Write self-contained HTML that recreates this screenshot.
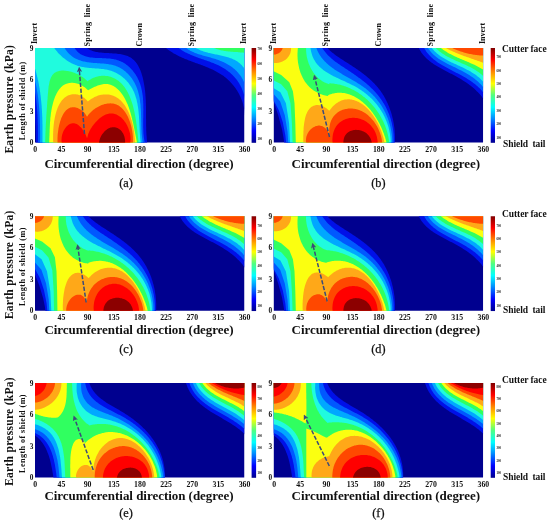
<!DOCTYPE html>
<html><head><meta charset="utf-8"><title>Earth pressure contours</title>
<style>html,body{margin:0;padding:0;background:#fff}svg{display:block;filter:blur(0.4px)}text{font-family:"Liberation Serif",serif;fill:#111}</style></head>
<body>
<svg width="550" height="523" viewBox="0 0 550 523">
<defs><clipPath id="pc"><rect x="0" y="0" width="209.25" height="94.50"/></clipPath>
<linearGradient id="jet" x1="0" y1="1" x2="0" y2="0"><stop offset="0" stop-color="#00008f"/><stop offset="0.125" stop-color="#0000ff"/><stop offset="0.26" stop-color="#0090ff"/><stop offset="0.375" stop-color="#00ffff"/><stop offset="0.5" stop-color="#50ff80"/><stop offset="0.625" stop-color="#ffff00"/><stop offset="0.75" stop-color="#ff8800"/><stop offset="0.875" stop-color="#ff0000"/><stop offset="1" stop-color="#800000"/></linearGradient>
<marker id="ah" viewBox="0 0 10 10" refX="5" refY="5" markerWidth="3.6" markerHeight="3.6" orient="auto"><path d="M0 0L10 5L0 10L2.6 5z" fill="#3b4a7a"/></marker>
</defs>
<rect width="550" height="523" fill="#fff"/>
<g transform="translate(35.00 48.00)" clip-path="url(#pc)">
<rect x="-5" y="-5" width="219.25" height="104.50" fill="#00008f"/>
<path d="M48.8 -3.1L49.4 -2.4L50.0 -1.7L50.6 -1.1L51.2 -0.5L51.9 0.1L52.6 0.6L53.4 1.1L54.1 1.5L54.9 1.9L55.8 2.3L56.6 2.6L57.5 2.9L58.4 3.2L59.3 3.5L60.2 3.7L61.2 3.9L62.2 4.1L63.1 4.2L64.1 4.4L65.2 4.5L66.2 4.6L67.2 4.7L68.2 4.8L69.3 4.9L70.4 5.0L71.4 5.0L72.5 5.1L73.6 5.1L74.6 5.2L75.7 5.3L76.8 5.3L77.8 5.4L78.9 5.5L80.0 5.5L81.0 5.6L82.1 5.7L83.1 5.9L84.1 6.0L85.1 6.1L86.1 6.3L87.1 6.5L88.1 6.7L89.1 6.9L90.0 7.2L90.9 7.4L91.8 7.8L92.7 8.1L93.5 8.5L94.4 8.9L95.2 9.3L96.0 9.8L96.7 10.3L97.4 10.9L98.1 11.4L98.8 12.1L99.5 12.7L100.1 13.4L100.7 14.1L101.3 14.9L101.8 15.6L102.4 16.4L102.9 17.2L103.3 18.1L103.8 19.0L104.3 19.9L104.7 20.8L105.1 21.7L105.5 22.6L105.8 23.6L106.2 24.6L106.5 25.6L106.8 26.6L107.1 27.6L107.4 28.6L107.7 29.6L108.0 30.7L108.2 31.7L108.4 32.7L108.6 33.8L108.8 34.8L109.0 35.9L109.2 36.9L109.4 38.0L109.5 39.0L109.7 40.1L109.8 41.1L109.9 42.1L110.1 43.2L110.2 44.2L110.3 45.2L110.4 46.3L110.4 47.3L110.5 48.3L110.6 49.3L110.6 50.3L110.7 51.3L110.8 52.4L110.8 53.4L110.8 54.4L110.9 55.4L110.9 56.4L110.9 57.4L111.0 58.4L111.0 59.4L111.0 60.4L111.0 61.4L111.0 62.4L111.0 63.4L111.0 64.4L111.0 65.4L111.0 66.4L111.0 67.4L111.0 68.4L111.0 69.3L111.0 70.3L111.1 71.3L111.1 72.3L111.1 73.3L111.1 74.3L111.1 75.3L111.1 76.3L111.1 77.3L111.1 78.3L111.2 79.3L111.2 80.3L111.2 81.3L111.2 82.3L111.3 83.3L111.3 84.3L111.4 85.3L111.4 86.3L111.5 87.3L111.6 88.3L111.7 89.3L111.7 90.3L111.8 91.3L111.9 92.4L112.0 93.4L112.2 94.4L112.3 95.4L140.0 102.5L1.1 99.0L1.1 98.0L1.1 97.0L1.0 95.9L1.0 94.9L1.0 93.9L1.0 92.8L1.0 91.8L0.9 90.8L0.9 89.8L0.9 88.7L0.9 87.7L0.8 86.7L0.8 85.7L0.8 84.6L0.8 83.6L0.7 82.6L0.7 81.6L0.6 80.5L0.6 79.5L0.6 78.5L0.5 77.5L0.4 76.4L0.4 75.4L0.3 74.4L0.3 73.4L0.2 72.3L0.1 71.3L0.0 70.3L-0.1 69.3L-0.2 68.3L-0.3 67.2L-0.4 66.2L-0.5 65.2L-0.6 64.2L-0.7 63.2L-0.8 62.1L-1.0 61.1L-1.1 60.1L-1.3 59.1L-1.4 58.1L-1.6 57.1L-1.8 56.1L-2.0 55.0L-2.1 54.0L-2.3 53.0L-2.6 52.0L-2.8 51.0L-3.0 50.0L-8.0 -8.0Z" fill="#0010e8"/>
<path d="M128.1 -2.7L128.8 -2.0L129.6 -1.3L130.3 -0.6L131.1 0.0L131.8 0.7L132.6 1.3L133.4 1.9L134.2 2.5L135.0 3.0L135.8 3.6L136.6 4.1L137.5 4.6L138.3 5.2L139.2 5.7L140.1 6.1L140.9 6.6L141.8 7.1L142.7 7.5L143.6 8.0L144.5 8.4L145.4 8.8L146.3 9.3L147.2 9.7L148.2 10.1L149.1 10.5L150.0 10.9L151.0 11.2L151.9 11.6L152.9 12.0L153.8 12.4L154.8 12.7L155.7 13.1L156.7 13.4L157.6 13.8L158.6 14.2L159.6 14.5L160.5 14.9L161.5 15.2L162.5 15.6L163.4 15.9L164.4 16.3L165.3 16.6L166.3 17.0L167.3 17.3L168.2 17.7L169.2 18.1L170.1 18.4L171.0 18.8L172.0 19.2L172.9 19.6L173.9 20.0L174.8 20.4L175.7 20.8L176.6 21.2L177.5 21.6L178.4 22.0L179.3 22.5L180.2 22.9L181.1 23.4L182.0 23.9L182.8 24.4L183.7 24.9L184.6 25.4L185.4 25.9L186.2 26.4L187.0 27.0L187.9 27.5L188.7 28.1L189.4 28.7L190.2 29.3L191.0 29.9L191.7 30.6L192.5 31.2L193.2 31.9L193.9 32.6L194.6 33.3L195.3 34.0L196.0 34.7L196.7 35.4L197.3 36.2L198.0 36.9L198.6 37.7L199.2 38.5L199.8 39.3L200.4 40.1L201.0 40.9L201.5 41.7L202.1 42.6L202.6 43.4L203.1 44.3L203.6 45.2L204.1 46.1L204.5 47.0L205.0 47.9L205.4 48.8L205.8 49.8L206.2 50.7L206.6 51.7L206.9 52.6L207.3 53.6L207.6 54.6L207.9 55.6L208.2 56.6L208.4 57.7L208.7 58.7L208.9 59.7L209.1 60.8L209.3 61.8L209.5 62.9L209.6 64.0L209.7 65.1L209.8 66.2L209.9 67.3L217.2 67.3L217.2 -8.0L128.1 -8.0Z" fill="#0010e8"/>
<path d="M37.6 -4.4L38.0 -3.2L38.5 -2.1L39.1 -1.0L39.6 -0.0L40.2 0.9L40.9 1.8L41.5 2.6L42.2 3.4L42.9 4.1L43.6 4.7L44.4 5.3L45.2 5.9L46.0 6.4L46.8 6.8L47.7 7.3L48.6 7.6L49.5 8.0L50.4 8.3L51.3 8.6L52.2 8.8L53.2 9.0L54.2 9.2L55.2 9.4L56.2 9.5L57.2 9.6L58.2 9.7L59.2 9.8L60.2 9.9L61.3 9.9L62.3 10.0L63.4 10.0L64.4 10.1L65.5 10.1L66.5 10.1L67.6 10.2L68.7 10.2L69.7 10.3L70.8 10.3L71.8 10.4L72.9 10.4L73.9 10.5L74.9 10.6L76.0 10.7L77.0 10.9L78.0 11.0L79.0 11.2L79.9 11.4L80.9 11.6L81.9 11.9L82.8 12.2L83.7 12.5L84.6 12.9L85.5 13.3L86.4 13.7L87.3 14.1L88.1 14.6L89.0 15.1L89.8 15.6L90.6 16.1L91.4 16.7L92.1 17.2L92.9 17.8L93.6 18.5L94.3 19.1L95.0 19.8L95.7 20.5L96.4 21.2L97.1 21.9L97.7 22.6L98.3 23.4L98.9 24.2L99.5 25.0L100.0 25.8L100.6 26.6L101.1 27.4L101.6 28.3L102.1 29.1L102.6 30.0L103.0 30.9L103.4 31.8L103.9 32.7L104.2 33.7L104.6 34.6L105.0 35.5L105.3 36.5L105.6 37.4L105.9 38.4L106.2 39.4L106.4 40.4L106.6 41.4L106.8 42.3L107.0 43.3L107.2 44.4L107.4 45.4L107.5 46.4L107.7 47.4L107.8 48.4L107.9 49.5L108.0 50.5L108.0 51.5L108.1 52.6L108.2 53.6L108.2 54.7L108.3 55.7L108.3 56.8L108.3 57.8L108.3 58.9L108.3 59.9L108.4 61.0L108.4 62.0L108.3 63.1L108.3 64.2L108.3 65.2L108.3 66.3L108.3 67.3L108.3 68.4L108.3 69.4L108.2 70.5L108.2 71.6L108.2 72.6L108.2 73.6L108.2 74.7L108.2 75.7L108.2 76.8L108.2 77.8L108.2 78.8L108.2 79.8L108.3 80.9L108.3 81.9L108.3 82.9L108.4 83.9L108.4 84.9L108.5 85.9L108.6 86.9L108.7 87.8L108.8 88.8L108.9 89.8L109.1 90.7L109.2 91.7L109.4 92.6L109.6 93.5L109.8 94.4L110.0 95.4L140.0 102.5L3.0 99.0L3.0 98.0L3.0 97.0L3.0 95.9L3.0 94.9L3.0 93.9L3.0 92.9L3.0 91.9L3.0 90.8L3.0 89.8L3.0 88.8L3.0 87.8L3.0 86.8L3.0 85.7L3.0 84.7L3.0 83.7L3.0 82.7L2.9 81.7L2.9 80.6L2.9 79.6L2.9 78.6L2.9 77.6L2.8 76.5L2.8 75.5L2.8 74.5L2.7 73.5L2.7 72.4L2.7 71.4L2.6 70.4L2.6 69.4L2.5 68.4L2.5 67.3L2.4 66.3L2.3 65.3L2.3 64.3L2.2 63.3L2.1 62.2L2.1 61.2L2.0 60.2L1.9 59.2L1.8 58.2L1.7 57.1L1.6 56.1L1.5 55.1L1.4 54.1L1.3 53.1L1.2 52.1L1.0 51.1L0.9 50.0L0.8 49.0L0.6 48.0L0.5 47.0L0.3 46.0L0.2 45.0L0.0 44.0L-0.2 43.0L-0.3 42.0L-0.5 41.0L-0.7 40.0L-0.9 39.0L-1.1 38.0L-1.3 37.0L-1.5 36.0L-1.8 35.0L-2.0 34.0L-2.2 33.0L-2.5 32.0L-2.7 31.0L-3.0 30.0L-8.0 -8.0Z" fill="#0058ff"/>
<path d="M141.0 -2.4L141.7 -1.7L142.4 -1.1L143.2 -0.4L144.0 0.2L144.7 0.8L145.5 1.3L146.4 1.9L147.2 2.4L148.0 2.9L148.9 3.4L149.7 3.9L150.6 4.4L151.5 4.8L152.4 5.3L153.3 5.7L154.2 6.1L155.1 6.5L156.0 6.9L157.0 7.3L157.9 7.7L158.9 8.1L159.8 8.4L160.8 8.8L161.7 9.2L162.7 9.5L163.7 9.9L164.6 10.2L165.6 10.5L166.6 10.9L167.6 11.2L168.6 11.6L169.5 11.9L170.5 12.2L171.5 12.6L172.5 12.9L173.4 13.3L174.4 13.6L175.4 14.0L176.3 14.4L177.3 14.7L178.3 15.1L179.2 15.5L180.2 15.9L181.1 16.3L182.0 16.7L182.9 17.1L183.9 17.6L184.8 18.0L185.7 18.5L186.6 19.0L187.4 19.5L188.3 20.0L189.2 20.5L190.0 21.0L190.8 21.6L191.6 22.2L192.5 22.8L193.3 23.4L194.0 24.0L194.8 24.6L195.6 25.3L196.3 25.9L197.0 26.6L197.7 27.3L198.4 28.0L199.1 28.7L199.8 29.5L200.4 30.2L201.1 31.0L201.7 31.8L202.3 32.6L202.9 33.4L203.4 34.3L204.0 35.1L204.5 36.0L205.0 36.9L205.5 37.8L205.9 38.7L206.4 39.6L206.8 40.6L207.2 41.5L207.6 42.5L208.0 43.5L208.3 44.5L208.6 45.5L208.9 46.5L209.2 47.6L209.5 48.7L209.7 49.7L209.9 50.8L210.1 52.0L210.3 53.1L210.4 54.2L217.2 54.2L217.2 -8.0L141.0 -8.0Z" fill="#0058ff"/>
<path d="M27.3 -4.5L27.8 -3.3L28.4 -2.2L28.9 -1.2L29.5 -0.2L30.1 0.8L30.7 1.7L31.3 2.6L32.0 3.4L32.6 4.3L33.3 5.0L34.0 5.7L34.8 6.4L35.5 7.1L36.3 7.7L37.0 8.3L37.8 8.9L38.6 9.4L39.5 9.9L40.3 10.4L41.1 10.8L42.0 11.2L42.9 11.6L43.8 12.0L44.7 12.3L45.6 12.6L46.5 12.9L47.5 13.2L48.4 13.4L49.4 13.6L50.3 13.8L51.3 14.0L52.3 14.2L53.3 14.3L54.3 14.5L55.3 14.6L56.3 14.7L57.3 14.8L58.4 14.9L59.4 14.9L60.4 15.0L61.5 15.1L62.5 15.2L63.5 15.2L64.6 15.3L65.6 15.4L66.6 15.4L67.7 15.5L68.7 15.6L69.7 15.7L70.7 15.8L71.7 15.9L72.7 16.0L73.7 16.2L74.7 16.4L75.7 16.5L76.7 16.7L77.7 17.0L78.6 17.2L79.5 17.5L80.5 17.8L81.4 18.2L82.3 18.5L83.2 18.9L84.0 19.3L84.9 19.8L85.7 20.3L86.6 20.7L87.4 21.3L88.2 21.8L89.0 22.4L89.7 23.0L90.5 23.6L91.2 24.2L91.9 24.9L92.6 25.6L93.3 26.3L94.0 27.0L94.6 27.7L95.3 28.5L95.9 29.2L96.5 30.0L97.1 30.8L97.6 31.7L98.2 32.5L98.7 33.4L99.2 34.2L99.7 35.1L100.1 36.0L100.6 36.9L101.0 37.8L101.4 38.7L101.8 39.7L102.1 40.6L102.4 41.6L102.8 42.5L103.1 43.5L103.3 44.5L103.6 45.5L103.8 46.5L104.1 47.5L104.3 48.5L104.5 49.5L104.7 50.5L104.8 51.6L105.0 52.6L105.1 53.7L105.2 54.7L105.4 55.7L105.5 56.8L105.6 57.8L105.6 58.9L105.7 60.0L105.8 61.0L105.9 62.1L105.9 63.1L106.0 64.2L106.0 65.3L106.0 66.3L106.1 67.4L106.1 68.5L106.1 69.5L106.2 70.6L106.2 71.6L106.2 72.7L106.2 73.8L106.3 74.8L106.3 75.8L106.3 76.9L106.3 77.9L106.4 79.0L106.4 80.0L106.4 81.0L106.5 82.0L106.5 83.0L106.6 84.0L106.6 85.0L106.7 86.0L106.8 87.0L106.9 87.9L107.0 88.9L107.1 89.9L107.2 90.8L107.3 91.7L107.4 92.6L107.6 93.6L107.7 94.5L107.9 95.3L140.0 102.5L5.0 99.0L5.0 98.0L5.0 97.0L5.0 95.9L5.0 94.9L5.0 93.9L5.0 92.9L5.1 91.9L5.1 90.8L5.1 89.8L5.1 88.8L5.1 87.8L5.1 86.7L5.1 85.7L5.1 84.7L5.1 83.7L5.1 82.6L5.0 81.6L5.0 80.6L5.0 79.6L5.0 78.5L5.0 77.5L5.0 76.5L4.9 75.5L4.9 74.4L4.9 73.4L4.9 72.4L4.8 71.4L4.8 70.3L4.7 69.3L4.7 68.3L4.6 67.3L4.6 66.2L4.5 65.2L4.5 64.2L4.4 63.2L4.3 62.2L4.3 61.1L4.2 60.1L4.1 59.1L4.0 58.1L3.9 57.1L3.8 56.0L3.7 55.0L3.6 54.0L3.5 53.0L3.4 52.0L3.3 51.0L3.2 49.9L3.0 48.9L2.9 47.9L2.8 46.9L2.6 45.9L2.5 44.9L2.3 43.9L2.1 42.9L1.9 41.9L1.8 40.9L1.6 39.9L1.4 38.8L1.2 37.8L1.0 36.8L0.8 35.8L0.5 34.8L0.3 33.9L0.1 32.9L-0.2 31.9L-0.4 30.9L-0.7 29.9L-0.9 28.9L-1.2 27.9L-1.5 26.9L-1.8 25.9L-2.1 24.9L-2.4 24.0L-2.7 23.0L-3.0 22.0L-8.0 -8.0Z" fill="#00a8ff"/>
<path d="M148.9 -2.4L149.6 -1.7L150.3 -1.0L151.0 -0.4L151.7 0.2L152.5 0.8L153.2 1.4L154.0 1.9L154.8 2.4L155.6 2.9L156.5 3.3L157.3 3.7L158.2 4.1L159.1 4.5L160.0 4.9L160.9 5.3L161.9 5.6L162.8 5.9L163.7 6.2L164.7 6.5L165.7 6.8L166.7 7.1L167.6 7.4L168.6 7.7L169.6 7.9L170.6 8.2L171.6 8.5L172.6 8.7L173.6 9.0L174.6 9.3L175.6 9.6L176.6 9.9L177.6 10.2L178.6 10.5L179.6 10.8L180.6 11.1L181.6 11.4L182.6 11.8L183.5 12.1L184.5 12.5L185.5 12.9L186.4 13.3L187.4 13.7L188.3 14.1L189.2 14.6L190.2 15.0L191.1 15.5L192.0 16.0L192.8 16.5L193.7 17.0L194.6 17.5L195.4 18.1L196.2 18.6L197.1 19.2L197.9 19.8L198.6 20.4L199.4 21.1L200.2 21.8L200.9 22.4L201.6 23.1L202.3 23.9L203.0 24.6L203.6 25.4L204.3 26.2L204.9 27.0L205.5 27.8L206.1 28.6L206.6 29.5L207.2 30.4L207.7 31.3L208.1 32.2L208.6 33.2L209.0 34.1L209.4 35.1L209.8 36.1L210.2 37.1L210.5 38.2L210.8 39.2L217.2 39.2L217.2 -8.0L148.9 -8.0Z" fill="#00a8ff"/>
<path d="M16.6 -4.1L17.2 -3.2L17.7 -2.3L18.3 -1.4L18.9 -0.5L19.5 0.3L20.1 1.2L20.8 2.0L21.4 2.8L22.1 3.6L22.7 4.4L23.4 5.2L24.1 5.9L24.8 6.6L25.6 7.3L26.3 8.0L27.1 8.7L27.8 9.4L28.6 10.0L29.4 10.6L30.2 11.3L31.0 11.8L31.8 12.4L32.6 13.0L33.5 13.5L34.3 14.0L35.2 14.5L36.1 15.0L36.9 15.4L37.8 15.8L38.7 16.2L39.6 16.6L40.5 17.0L41.5 17.3L42.4 17.7L43.3 18.0L44.3 18.2L45.2 18.5L46.2 18.7L47.2 18.9L48.2 19.1L49.1 19.3L50.1 19.5L51.1 19.6L52.1 19.7L53.1 19.8L54.1 19.9L55.1 20.0L56.2 20.1L57.2 20.2L58.2 20.2L59.2 20.3L60.2 20.4L61.2 20.4L62.2 20.5L63.2 20.6L64.3 20.7L65.3 20.8L66.3 20.9L67.3 21.0L68.3 21.1L69.2 21.3L70.2 21.4L71.2 21.6L72.2 21.8L73.1 22.0L74.1 22.2L75.0 22.5L75.9 22.8L76.9 23.1L77.8 23.5L78.7 23.8L79.6 24.2L80.4 24.6L81.3 25.1L82.2 25.5L83.0 26.0L83.8 26.5L84.7 27.0L85.5 27.6L86.3 28.1L87.0 28.7L87.8 29.3L88.5 30.0L89.3 30.6L90.0 31.3L90.7 31.9L91.4 32.6L92.0 33.4L92.7 34.1L93.3 34.8L93.9 35.6L94.5 36.4L95.1 37.2L95.6 38.0L96.2 38.8L96.7 39.7L97.2 40.5L97.7 41.4L98.1 42.3L98.6 43.2L99.0 44.1L99.4 45.1L99.7 46.0L100.1 46.9L100.4 47.9L100.7 48.9L101.0 49.9L101.3 50.8L101.6 51.8L101.8 52.8L102.0 53.9L102.3 54.9L102.5 55.9L102.6 56.9L102.8 58.0L103.0 59.0L103.1 60.1L103.3 61.1L103.4 62.2L103.5 63.2L103.6 64.3L103.7 65.4L103.8 66.4L103.9 67.5L104.0 68.6L104.0 69.6L104.1 70.7L104.2 71.7L104.2 72.8L104.3 73.9L104.3 74.9L104.4 76.0L104.4 77.0L104.5 78.0L104.5 79.1L104.6 80.1L104.6 81.1L104.7 82.2L104.7 83.2L104.8 84.2L104.9 85.2L104.9 86.1L105.0 87.1L105.1 88.1L105.1 89.0L105.2 90.0L105.3 90.9L105.4 91.8L105.5 92.7L105.7 93.6L105.8 94.5L105.9 95.4L140.0 102.5L7.5 99.0L7.5 98.0L7.5 97.0L7.5 96.0L7.5 95.0L7.5 94.0L7.5 92.9L7.5 91.9L7.5 90.9L7.5 89.9L7.5 88.9L7.5 87.9L7.5 86.9L7.5 85.9L7.5 84.8L7.5 83.8L7.5 82.8L7.5 81.8L7.5 80.8L7.5 79.8L7.5 78.7L7.5 77.7L7.5 76.7L7.4 75.7L7.4 74.7L7.4 73.7L7.4 72.7L7.3 71.6L7.3 70.6L7.3 69.6L7.2 68.6L7.2 67.6L7.1 66.6L7.1 65.5L7.0 64.5L7.0 63.5L6.9 62.5L6.9 61.5L6.8 60.5L6.7 59.5L6.7 58.5L6.6 57.4L6.5 56.4L6.4 55.4L6.3 54.4L6.2 53.4L6.1 52.4L6.0 51.4L5.9 50.4L5.8 49.4L5.7 48.4L5.6 47.4L5.4 46.4L5.3 45.4L5.2 44.4L5.0 43.4L4.9 42.4L4.7 41.4L4.6 40.4L4.4 39.4L4.2 38.4L4.0 37.4L3.9 36.4L3.7 35.4L3.5 34.4L3.3 33.4L3.1 32.4L2.8 31.4L2.6 30.4L2.4 29.5L2.1 28.5L1.9 27.5L1.6 26.5L1.4 25.5L1.1 24.5L0.8 23.6L0.6 22.6L0.3 21.6L-0.0 20.7L-0.3 19.7L-0.6 18.7L-1.0 17.8L-1.3 16.8L-1.6 15.8L-2.0 14.9L-2.3 13.9L-2.7 12.9L-3.1 12.0L-8.0 -8.0Z" fill="#20fbde"/>
<path d="M157.2 -2.8L158.0 -2.2L158.8 -1.5L159.6 -0.9L160.4 -0.4L161.2 0.2L162.1 0.7L163.0 1.1L163.9 1.6L164.8 2.0L165.7 2.4L166.6 2.8L167.6 3.1L168.5 3.5L169.5 3.8L170.5 4.1L171.5 4.3L172.5 4.6L173.5 4.9L174.5 5.1L175.5 5.3L176.5 5.6L177.6 5.8L178.6 6.0L179.6 6.2L180.6 6.4L181.7 6.6L182.7 6.8L183.7 7.0L184.8 7.3L185.8 7.5L186.8 7.7L187.9 7.9L188.9 8.2L189.9 8.4L190.9 8.7L191.9 9.0L192.8 9.3L193.8 9.6L194.8 9.9L195.7 10.2L196.7 10.6L197.6 11.0L198.5 11.4L199.4 11.8L200.3 12.3L201.1 12.8L202.0 13.3L202.8 13.8L203.6 14.4L204.4 15.0L205.2 15.7L205.9 16.4L206.6 17.1L207.3 17.9L208.0 18.7L208.7 19.5L209.3 20.4L209.9 21.3L210.4 22.3L211.0 23.4L217.2 23.4L217.2 -8.0L157.2 -8.0Z" fill="#20fbde"/>
<path d="M10.0 99.0L10.1 97.9L10.1 96.8L10.1 95.8L10.1 94.7L10.2 93.7L10.2 92.6L10.2 91.6L10.3 90.6L10.3 89.5L10.3 88.5L10.4 87.5L10.4 86.5L10.4 85.5L10.5 84.5L10.5 83.5L10.6 82.5L10.6 81.5L10.6 80.5L10.7 79.5L10.7 78.5L10.8 77.5L10.8 76.5L10.9 75.6L10.9 74.6L11.0 73.6L11.1 72.6L11.1 71.6L11.2 70.6L11.2 69.7L11.3 68.7L11.3 67.7L11.4 66.7L11.5 65.7L11.5 64.7L11.6 63.7L11.7 62.7L11.7 61.7L11.8 60.7L11.9 59.7L12.0 58.7L12.0 57.7L12.1 56.7L12.2 55.6L12.2 54.6L12.3 53.6L12.4 52.5L12.5 51.5L12.6 50.4L12.6 49.4L12.7 48.3L12.8 47.2L12.9 46.1L13.0 45.0L13.1 43.9L13.2 42.9L13.3 41.8L13.4 40.7L13.5 39.6L13.6 38.5L13.8 37.5L14.0 36.4L14.2 35.4L14.4 34.4L14.6 33.4L14.9 32.5L15.2 31.6L15.5 30.7L15.9 29.8L16.2 29.0L16.7 28.2L17.1 27.5L17.6 26.8L18.2 26.2L18.8 25.6L19.4 25.1L20.1 24.6L20.8 24.2L21.6 23.8L22.4 23.5L23.2 23.2L24.1 23.0L25.0 22.8L25.9 22.7L26.8 22.6L27.8 22.6L28.8 22.6L29.8 22.7L30.8 22.8L31.9 22.9L32.9 23.1L34.0 23.3L35.0 23.5L36.1 23.8L37.1 24.1L38.2 24.5L39.3 24.8L40.3 25.2L41.3 25.7L42.3 26.1L43.3 26.6L44.3 27.1L45.3 27.6L46.2 28.2L47.1 28.8L48.0 29.3L48.8 30.0L49.6 30.6L50.4 31.2L51.1 31.9L51.8 32.5L52.5 33.2L52.4 33.4L53.4 32.6L54.4 32.0L55.4 31.4L56.4 30.8L57.5 30.3L58.5 29.8L59.5 29.4L60.5 29.1L61.6 28.7L62.6 28.5L63.6 28.3L64.6 28.1L65.6 27.9L66.6 27.8L67.6 27.8L68.6 27.8L69.6 27.8L70.6 27.9L71.6 28.0L72.5 28.1L73.5 28.3L74.4 28.5L75.3 28.8L76.2 29.1L77.1 29.4L78.0 29.8L78.9 30.2L79.7 30.6L80.5 31.0L81.3 31.5L82.1 32.0L82.9 32.6L83.7 33.1L84.4 33.7L85.1 34.3L85.8 35.0L86.5 35.6L87.1 36.3L87.8 37.0L88.4 37.8L89.0 38.5L89.6 39.3L90.1 40.1L90.7 40.9L91.2 41.7L91.7 42.6L92.2 43.5L92.7 44.3L93.2 45.2L93.6 46.2L94.1 47.1L94.5 48.0L94.9 49.0L95.3 50.0L95.7 51.0L96.0 51.9L96.4 52.9L96.7 54.0L97.1 55.0L97.4 56.0L97.7 57.1L98.0 58.1L98.2 59.1L98.5 60.2L98.8 61.3L99.0 62.3L99.3 63.4L99.5 64.5L99.7 65.5L99.9 66.6L100.1 67.7L100.3 68.8L100.5 69.8L100.7 70.9L100.9 72.0L101.0 73.1L101.2 74.1L101.3 75.2L101.5 76.2L101.6 77.3L101.8 78.3L101.9 79.4L102.0 80.4L102.2 81.4L102.3 82.4L102.4 83.4L102.5 84.4L102.6 85.4L102.7 86.4L102.8 87.3L102.9 88.3L103.0 89.2L103.1 90.1L103.2 91.0L103.3 91.9L103.4 92.8L103.5 93.6L103.6 94.4L103.7 95.2L103.7 102.5L10.0 102.5Z" fill="#30ff60"/>
<path d="M176.2 -1.3L177.1 -0.8L177.9 -0.4L178.7 -0.1L179.6 0.3L180.5 0.6L181.3 0.9L182.2 1.2L183.1 1.5L184.0 1.8L184.9 2.0L185.8 2.2L186.7 2.4L187.6 2.6L188.5 2.7L189.4 2.9L190.3 3.0L191.3 3.2L192.2 3.3L193.1 3.4L194.0 3.5L195.0 3.6L195.9 3.7L196.8 3.7L197.8 3.8L198.7 3.9L199.6 3.9L200.6 4.0L201.5 4.1L202.5 4.1L203.4 4.2L204.3 4.3L205.3 4.4L206.2 4.4L207.1 4.5L208.0 4.6L208.9 4.7L209.9 4.8L210.8 4.9L211.7 5.0L217.2 5.0L217.2 -8.0L176.2 -8.0Z" fill="#30ff60"/>
<path d="M13.9 98.9L13.9 98.0L14.0 97.0L14.1 96.1L14.1 95.1L14.2 94.2L14.2 93.2L14.3 92.2L14.3 91.2L14.3 90.2L14.4 89.2L14.4 88.2L14.5 87.2L14.5 86.2L14.5 85.2L14.6 84.2L14.6 83.1L14.6 82.1L14.7 81.1L14.7 80.0L14.8 79.0L14.8 77.9L14.9 76.9L14.9 75.9L15.0 74.8L15.1 73.8L15.2 72.7L15.3 71.7L15.3 70.6L15.4 69.6L15.6 68.5L15.7 67.5L15.8 66.4L15.9 65.4L16.1 64.3L16.3 63.3L16.4 62.2L16.6 61.2L16.8 60.2L17.0 59.1L17.3 58.1L17.5 57.1L17.8 56.1L18.0 55.1L18.3 54.1L18.6 53.0L18.9 52.0L19.3 51.1L19.6 50.1L20.0 49.1L20.4 48.1L20.8 47.2L21.3 46.2L21.7 45.3L22.2 44.4L22.7 43.6L23.2 42.7L23.8 41.9L24.4 41.1L25.0 40.4L25.6 39.7L26.2 39.0L26.9 38.4L27.6 37.8L28.4 37.3L29.1 36.8L29.9 36.4L30.7 36.0L31.6 35.7L32.4 35.4L33.3 35.2L34.2 35.0L35.1 34.9L36.0 34.8L37.0 34.8L37.9 34.8L38.9 34.9L39.9 35.0L40.8 35.2L41.8 35.4L42.8 35.7L43.8 36.1L44.8 36.5L45.8 36.9L46.8 37.5L47.7 38.0L48.7 38.7L49.7 39.3L50.6 40.1L51.6 40.9L52.5 41.7L53.4 42.6L53.1 42.3L54.0 41.8L54.9 41.2L55.8 40.7L56.8 40.2L57.7 39.7L58.7 39.3L59.7 38.8L60.7 38.4L61.7 38.0L62.7 37.6L63.7 37.3L64.8 36.9L65.8 36.7L66.8 36.4L67.8 36.3L68.8 36.1L69.8 36.0L70.8 36.0L71.8 36.0L72.7 36.1L73.6 36.2L74.6 36.4L75.4 36.7L76.3 37.0L77.1 37.4L78.0 37.8L78.8 38.2L79.6 38.7L80.3 39.2L81.1 39.8L81.8 40.4L82.5 41.0L83.2 41.7L83.9 42.3L84.5 43.0L85.2 43.7L85.8 44.5L86.4 45.2L86.9 46.0L87.5 46.8L88.0 47.6L88.6 48.5L89.1 49.3L89.6 50.2L90.1 51.1L90.5 52.0L91.0 52.9L91.4 53.8L91.8 54.7L92.3 55.7L92.7 56.6L93.0 57.6L93.4 58.6L93.8 59.6L94.1 60.6L94.5 61.6L94.8 62.6L95.1 63.6L95.4 64.6L95.7 65.6L96.0 66.7L96.3 67.7L96.6 68.7L96.8 69.8L97.1 70.8L97.3 71.9L97.6 72.9L97.8 73.9L98.1 75.0L98.3 76.0L98.5 77.0L98.7 78.1L98.9 79.1L99.1 80.1L99.3 81.1L99.5 82.1L99.7 83.1L99.9 84.1L100.1 85.1L100.3 86.1L100.5 87.1L100.7 88.0L100.9 89.0L101.1 89.9L101.2 90.8L101.4 91.7L101.6 92.6L101.8 93.5L102.0 94.4L102.2 95.2L102.2 102.5L13.9 102.5Z" fill="#fbff10"/>
<path d="M18.5 98.9L18.5 98.1L18.4 97.3L18.4 96.5L18.3 95.7L18.2 94.8L18.2 93.9L18.2 92.9L18.1 92.0L18.1 91.0L18.1 90.0L18.1 89.0L18.1 88.0L18.1 86.9L18.1 85.9L18.2 84.8L18.2 83.7L18.3 82.6L18.3 81.5L18.4 80.4L18.5 79.3L18.6 78.1L18.7 77.0L18.8 75.9L19.0 74.8L19.1 73.6L19.3 72.5L19.5 71.4L19.7 70.3L19.9 69.2L20.2 68.1L20.4 67.0L20.7 65.9L21.0 64.8L21.3 63.8L21.6 62.7L22.0 61.7L22.3 60.7L22.7 59.7L23.1 58.8L23.6 57.8L24.0 56.9L24.5 56.1L25.0 55.2L25.5 54.4L26.1 53.6L26.6 52.8L27.2 52.1L27.8 51.4L28.5 50.7L29.2 50.1L29.8 49.5L30.6 49.0L31.3 48.5L32.1 48.0L32.9 47.6L33.7 47.3L34.6 46.9L35.4 46.7L36.3 46.5L37.2 46.3L38.1 46.2L39.1 46.2L40.0 46.2L40.9 46.3L41.9 46.4L42.8 46.6L43.8 46.9L44.8 47.2L45.7 47.7L46.7 48.2L47.6 48.7L48.6 49.4L49.5 50.1L50.4 50.9L51.3 51.8L52.2 52.7L53.1 53.8L52.2 54.1L53.1 53.3L54.1 52.5L55.1 51.8L56.1 51.1L57.1 50.5L58.1 49.9L59.1 49.3L60.1 48.8L61.1 48.4L62.1 48.0L63.1 47.6L64.1 47.3L65.1 47.1L66.1 46.8L67.1 46.7L68.1 46.5L69.0 46.5L70.0 46.4L71.0 46.4L71.9 46.4L72.9 46.5L73.8 46.6L74.8 46.8L75.7 47.0L76.6 47.2L77.5 47.5L78.3 47.8L79.2 48.2L80.0 48.6L80.9 49.0L81.7 49.5L82.5 50.0L83.3 50.5L84.0 51.1L84.7 51.7L85.5 52.3L86.2 53.0L86.8 53.7L87.5 54.4L88.1 55.2L88.7 56.0L89.3 56.8L89.9 57.6L90.5 58.5L91.0 59.4L91.5 60.3L92.0 61.2L92.5 62.1L93.0 63.1L93.5 64.0L93.9 65.0L94.3 66.0L94.7 67.0L95.1 68.1L95.5 69.1L95.8 70.1L96.2 71.2L96.5 72.2L96.8 73.3L97.1 74.4L97.4 75.4L97.6 76.5L97.9 77.6L98.1 78.6L98.3 79.7L98.5 80.8L98.7 81.8L98.9 82.9L99.0 83.9L99.2 84.9L99.3 86.0L99.4 87.0L99.5 88.0L99.6 89.0L99.7 90.0L99.8 90.9L99.8 91.9L99.9 92.8L99.9 93.7L99.9 94.6L100.0 95.4L100.0 102.5L18.5 102.5Z" fill="#ffa818"/>
<path d="M22.9 98.9L22.8 98.2L22.7 97.4L22.6 96.6L22.6 95.8L22.5 94.9L22.5 93.9L22.5 92.9L22.5 91.9L22.5 90.9L22.5 89.9L22.6 88.8L22.6 87.7L22.7 86.6L22.8 85.5L23.0 84.3L23.1 83.2L23.3 82.0L23.4 80.9L23.6 79.7L23.9 78.6L24.1 77.4L24.4 76.3L24.7 75.2L25.0 74.1L25.3 73.0L25.7 71.9L26.0 70.9L26.4 69.8L26.9 68.9L27.3 67.9L27.8 67.0L28.3 66.1L28.8 65.2L29.3 64.4L29.9 63.7L30.5 63.0L31.1 62.3L31.8 61.7L32.4 61.2L33.1 60.7L33.9 60.3L34.6 59.9L35.4 59.6L36.2 59.4L37.1 59.3L38.0 59.2L38.9 59.3L39.8 59.3L40.7 59.5L41.6 59.8L42.6 60.1L43.5 60.5L44.4 60.9L45.4 61.4L46.3 62.0L47.1 62.7L48.0 63.4L48.8 64.2L49.6 65.0L50.3 65.9L50.9 66.9L51.6 68.0L52.1 69.0L52.0 68.8L52.6 68.0L53.2 67.1L53.8 66.3L54.5 65.5L55.3 64.7L56.0 63.9L56.8 63.2L57.6 62.5L58.4 61.8L59.3 61.2L60.1 60.5L61.0 60.0L61.9 59.4L62.9 58.9L63.8 58.4L64.7 57.9L65.7 57.5L66.6 57.1L67.6 56.7L68.6 56.4L69.6 56.1L70.5 55.9L71.5 55.7L72.5 55.5L73.4 55.4L74.4 55.4L75.3 55.3L76.2 55.4L77.2 55.4L78.1 55.6L79.0 55.7L79.8 56.0L80.7 56.2L81.5 56.5L82.3 56.9L83.1 57.3L83.9 57.8L84.6 58.3L85.3 58.9L86.1 59.4L86.7 60.1L87.4 60.7L88.1 61.4L88.7 62.2L89.3 62.9L89.9 63.7L90.4 64.5L91.0 65.4L91.5 66.3L92.0 67.2L92.5 68.1L93.0 69.0L93.4 70.0L93.8 71.0L94.2 72.0L94.6 73.0L95.0 74.0L95.3 75.0L95.6 76.1L95.9 77.1L96.2 78.2L96.5 79.2L96.7 80.3L96.9 81.4L97.1 82.4L97.3 83.5L97.4 84.6L97.6 85.6L97.7 86.7L97.8 87.7L97.9 88.8L97.9 89.8L97.9 90.8L98.0 91.8L97.9 92.8L97.9 93.7L97.9 94.7L97.8 95.6L97.8 102.5L22.9 102.5Z" fill="#ff4800"/>
<path d="M28.0 99.2L27.5 98.1L27.2 97.0L26.9 95.9L26.7 94.8L26.6 93.6L26.5 92.5L26.5 91.4L26.6 90.2L26.7 89.1L26.9 88.0L27.1 86.9L27.4 85.9L27.8 84.8L28.2 83.8L28.6 82.8L29.1 81.9L29.7 81.0L30.2 80.2L30.8 79.4L31.5 78.6L32.2 77.9L32.9 77.3L33.6 76.8L34.3 76.3L35.1 75.9L35.9 75.6L36.7 75.4L37.5 75.2L38.3 75.2L39.2 75.2L40.0 75.4L40.8 75.7L41.7 76.0L42.5 76.5L43.3 77.1L44.1 77.7L44.9 78.4L45.7 79.2L46.5 80.1L47.2 81.0L47.9 81.9L48.6 82.9L49.2 83.9L49.8 84.9L50.3 85.9L50.8 86.9L51.2 88.0L51.6 88.9L51.9 89.9L52.5 89.3L52.6 88.5L52.7 87.8L53.0 87.0L53.2 86.1L53.5 85.3L53.9 84.4L54.3 83.5L54.7 82.6L55.2 81.7L55.7 80.8L56.3 79.9L56.9 79.0L57.5 78.1L58.2 77.2L58.9 76.3L59.6 75.4L60.4 74.5L61.1 73.7L61.9 72.9L62.8 72.1L63.6 71.3L64.4 70.5L65.3 69.8L66.2 69.2L67.1 68.6L68.0 68.0L68.9 67.5L69.8 67.0L70.7 66.6L71.7 66.2L72.6 65.9L73.5 65.7L74.4 65.5L75.3 65.4L76.2 65.4L77.1 65.4L78.0 65.5L78.9 65.7L79.8 65.9L80.6 66.2L81.5 66.5L82.3 66.9L83.1 67.4L83.9 67.9L84.7 68.4L85.5 69.0L86.2 69.6L86.9 70.3L87.6 71.0L88.3 71.8L89.0 72.6L89.6 73.4L90.2 74.3L90.8 75.1L91.3 76.0L91.9 77.0L92.4 77.9L92.8 78.9L93.3 79.9L93.6 80.9L94.0 81.9L94.3 83.0L94.6 84.0L94.9 85.1L95.1 86.1L95.3 87.2L95.4 88.3L95.5 89.3L95.6 90.4L95.6 91.4L95.5 92.5L95.4 93.5L95.3 94.5L95.1 95.5L95.1 102.5L28.0 102.5Z" fill="#ff0000"/>
<path d="M64.1 99.2L63.9 98.2L63.9 97.1L63.9 96.0L64.0 94.9L64.1 93.8L64.4 92.7L64.7 91.6L65.0 90.6L65.4 89.6L65.9 88.6L66.4 87.6L67.0 86.6L67.6 85.7L68.3 84.9L69.0 84.0L69.7 83.3L70.5 82.6L71.3 81.9L72.1 81.3L72.9 80.8L73.8 80.3L74.6 79.9L75.5 79.6L76.4 79.4L77.3 79.2L78.2 79.2L79.0 79.2L79.9 79.3L80.8 79.5L81.6 79.7L82.5 80.0L83.3 80.4L84.0 80.9L84.8 81.5L85.5 82.1L86.2 82.8L86.8 83.5L87.4 84.4L88.0 85.2L88.5 86.2L88.9 87.2L89.3 88.3L89.6 89.4L89.8 90.6L90.0 91.8L90.1 93.1L90.1 94.5L90.1 95.9L90.1 102.5L64.1 102.5Z" fill="#8c0000"/>
</g>

<g transform="translate(273.80 48.00)" clip-path="url(#pc)">
<rect x="-5" y="-5" width="219.25" height="104.50" fill="#00008f"/>
<path d="M51.0 -3.0L51.6 -2.2L52.2 -1.5L52.8 -0.8L53.4 -0.1L54.1 0.6L54.7 1.2L55.4 1.9L56.1 2.5L56.8 3.2L57.5 3.8L58.3 4.4L59.0 5.0L59.8 5.6L60.5 6.2L61.3 6.8L62.1 7.4L62.9 7.9L63.7 8.5L64.5 9.1L65.3 9.6L66.2 10.2L67.0 10.7L67.8 11.3L68.7 11.8L69.5 12.3L70.4 12.9L71.2 13.4L72.1 14.0L72.9 14.5L73.8 15.1L74.6 15.6L75.5 16.2L76.4 16.7L77.2 17.3L78.1 17.8L78.9 18.4L79.8 19.0L80.6 19.5L81.5 20.1L82.3 20.7L83.2 21.3L84.0 21.8L84.8 22.4L85.7 23.0L86.5 23.6L87.3 24.2L88.1 24.8L89.0 25.4L89.8 26.1L90.6 26.7L91.4 27.3L92.2 27.9L92.9 28.6L93.7 29.2L94.5 29.9L95.3 30.6L96.0 31.2L96.8 31.9L97.5 32.6L98.2 33.3L98.9 34.0L99.7 34.7L100.4 35.4L101.1 36.1L101.7 36.9L102.4 37.6L103.1 38.4L103.7 39.1L104.4 39.9L105.0 40.7L105.6 41.5L106.2 42.3L106.8 43.1L107.4 43.9L107.9 44.8L108.5 45.6L109.0 46.4L109.6 47.3L110.1 48.1L110.6 49.0L111.1 49.9L111.6 50.8L112.0 51.7L112.5 52.6L112.9 53.5L113.4 54.4L113.8 55.3L114.2 56.2L114.6 57.2L115.0 58.1L115.4 59.0L115.7 60.0L116.1 61.0L116.4 61.9L116.8 62.9L117.1 63.8L117.4 64.8L117.7 65.8L118.0 66.8L118.2 67.8L118.5 68.7L118.7 69.7L119.0 70.7L119.2 71.7L119.4 72.7L119.6 73.7L119.8 74.7L120.0 75.7L120.1 76.7L120.3 77.8L120.4 78.8L120.6 79.8L120.7 80.8L120.8 81.8L120.9 82.8L120.9 83.9L121.0 84.9L121.1 85.9L121.1 86.9L121.2 87.9L121.2 88.9L121.2 90.0L121.2 91.0L121.2 92.0L121.2 93.0L121.1 94.0L121.1 95.0L121.0 96.0L121.0 97.0L120.9 98.0L120.8 99.0L60.0 102.5L10.8 98.8L10.0 91.4L8.2 81.3L4.4 67.3L0.2 54.6L-1.6 52.2L-8.0 -8.0Z" fill="#0010e8"/>
<path d="M143.1 -5.1L143.4 -4.0L143.8 -3.0L144.2 -2.0L144.6 -1.0L145.0 -0.1L145.5 0.9L145.9 1.8L146.5 2.7L147.0 3.5L147.5 4.4L148.1 5.2L148.7 6.0L149.3 6.8L149.9 7.5L150.6 8.3L151.3 9.0L152.0 9.7L152.7 10.4L153.4 11.0L154.1 11.7L154.9 12.3L155.6 13.0L156.4 13.6L157.2 14.2L158.0 14.8L158.8 15.3L159.7 15.9L160.5 16.5L161.3 17.0L162.2 17.5L163.1 18.1L163.9 18.6L164.8 19.1L165.7 19.6L166.6 20.1L167.5 20.6L168.4 21.1L169.3 21.6L170.2 22.1L171.1 22.5L172.1 23.0L173.0 23.5L173.9 24.0L174.8 24.4L175.7 24.9L176.6 25.4L177.5 25.8L178.5 26.3L179.4 26.8L180.3 27.3L181.2 27.8L182.1 28.3L183.0 28.8L183.8 29.3L184.7 29.8L185.6 30.3L186.5 30.8L187.3 31.3L188.2 31.8L189.1 32.4L189.9 32.9L190.8 33.4L191.6 34.0L192.4 34.6L193.2 35.1L194.1 35.7L194.9 36.3L195.7 36.9L196.5 37.5L197.3 38.1L198.0 38.7L198.8 39.3L199.6 40.0L200.3 40.6L201.0 41.3L201.8 42.0L202.5 42.7L203.2 43.4L203.9 44.1L204.6 44.8L205.3 45.5L206.0 46.3L206.6 47.0L207.3 47.8L207.9 48.6L208.5 49.4L209.1 50.2L209.7 51.1L210.3 51.9L210.9 52.8L211.5 53.7L212.0 54.6L212.6 55.5L213.1 56.4L213.6 57.4L214.1 58.3L217.2 58.3L217.2 -8.0L143.1 -8.0Z" fill="#0010e8"/>
<path d="M46.7 -3.3L47.1 -2.4L47.6 -1.5L48.1 -0.7L48.6 0.2L49.1 1.0L49.6 1.8L50.2 2.6L50.8 3.3L51.4 4.1L52.0 4.8L52.6 5.6L53.2 6.3L53.9 7.0L54.6 7.7L55.3 8.3L56.0 9.0L56.7 9.6L57.4 10.3L58.2 10.9L58.9 11.5L59.7 12.2L60.4 12.8L61.2 13.4L62.0 13.9L62.8 14.5L63.6 15.1L64.4 15.7L65.3 16.3L66.1 16.8L66.9 17.4L67.7 17.9L68.6 18.5L69.4 19.1L70.3 19.6L71.1 20.2L72.0 20.7L72.8 21.3L73.7 21.8L74.5 22.4L75.4 23.0L76.2 23.5L77.1 24.1L77.9 24.7L78.8 25.2L79.6 25.8L80.5 26.4L81.3 27.0L82.1 27.6L83.0 28.2L83.8 28.8L84.6 29.4L85.4 30.0L86.3 30.6L87.1 31.2L87.9 31.8L88.7 32.4L89.5 33.1L90.3 33.7L91.1 34.3L91.9 35.0L92.6 35.6L93.4 36.3L94.2 36.9L94.9 37.6L95.7 38.3L96.4 39.0L97.2 39.7L97.9 40.4L98.6 41.1L99.3 41.8L100.0 42.5L100.7 43.2L101.4 44.0L102.1 44.7L102.7 45.5L103.4 46.2L104.0 47.0L104.6 47.8L105.2 48.6L105.9 49.4L106.4 50.2L107.0 51.0L107.6 51.8L108.2 52.7L108.7 53.5L109.2 54.4L109.8 55.2L110.3 56.1L110.8 56.9L111.3 57.8L111.8 58.7L112.2 59.6L112.7 60.5L113.1 61.4L113.5 62.3L113.9 63.2L114.3 64.2L114.7 65.1L115.1 66.0L115.5 67.0L115.8 67.9L116.1 68.9L116.5 69.8L116.8 70.8L117.1 71.8L117.3 72.8L117.6 73.7L117.9 74.7L118.1 75.7L118.3 76.7L118.5 77.7L118.7 78.7L118.9 79.7L119.1 80.7L119.2 81.7L119.4 82.7L119.5 83.7L119.6 84.7L119.7 85.8L119.8 86.8L119.8 87.8L119.9 88.8L119.9 89.9L119.9 90.9L119.9 91.9L119.9 92.9L119.9 94.0L119.8 95.0L119.8 96.0L119.7 97.1L119.6 98.1L119.5 99.2L60.0 102.5L12.7 98.8L11.6 87.4L9.0 74.3L5.0 62.3L-1.6 49.6L-8.0 -8.0Z" fill="#0058ff"/>
<path d="M148.1 -4.9L148.5 -3.9L148.9 -2.9L149.3 -1.9L149.8 -1.0L150.3 -0.1L150.8 0.8L151.3 1.7L151.9 2.6L152.4 3.4L153.0 4.2L153.6 5.0L154.3 5.8L154.9 6.5L155.6 7.3L156.3 8.0L157.0 8.7L157.7 9.4L158.4 10.1L159.2 10.7L159.9 11.4L160.7 12.0L161.5 12.6L162.3 13.2L163.1 13.8L163.9 14.4L164.8 14.9L165.6 15.5L166.5 16.0L167.3 16.6L168.2 17.1L169.1 17.6L170.0 18.1L170.9 18.6L171.8 19.1L172.7 19.6L173.6 20.1L174.5 20.6L175.4 21.1L176.3 21.5L177.3 22.0L178.2 22.5L179.1 23.0L180.0 23.4L181.0 23.9L181.9 24.4L182.8 24.9L183.7 25.3L184.6 25.8L185.6 26.3L186.5 26.8L187.4 27.3L188.3 27.8L189.2 28.3L190.1 28.8L191.0 29.3L191.9 29.8L192.7 30.3L193.6 30.9L194.5 31.4L195.3 32.0L196.2 32.5L197.0 33.1L197.9 33.7L198.7 34.3L199.5 34.9L200.3 35.5L201.1 36.1L201.9 36.7L202.7 37.4L203.4 38.0L204.2 38.7L204.9 39.4L205.6 40.1L206.3 40.8L207.0 41.6L207.7 42.3L208.4 43.1L209.0 43.9L209.6 44.7L210.2 45.5L210.8 46.4L211.4 47.3L212.0 48.2L212.5 49.1L213.0 50.0L213.5 51.0L214.0 51.9L217.2 51.9L217.2 -8.0L148.1 -8.0Z" fill="#0058ff"/>
<path d="M41.6 -3.4L41.9 -2.4L42.2 -1.4L42.5 -0.4L42.8 0.5L43.2 1.5L43.5 2.4L43.9 3.3L44.4 4.2L44.8 5.0L45.3 5.9L45.8 6.7L46.3 7.5L46.8 8.3L47.4 9.1L47.9 9.9L48.5 10.6L49.1 11.3L49.7 12.1L50.4 12.8L51.0 13.4L51.7 14.1L52.4 14.8L53.1 15.4L53.8 16.1L54.5 16.7L55.2 17.3L56.0 17.9L56.7 18.5L57.5 19.1L58.3 19.7L59.1 20.3L59.9 20.8L60.7 21.4L61.5 21.9L62.4 22.5L63.2 23.0L64.0 23.6L64.9 24.1L65.8 24.6L66.6 25.1L67.5 25.6L68.4 26.2L69.2 26.7L70.1 27.2L71.0 27.7L71.9 28.2L72.8 28.7L73.7 29.2L74.6 29.7L75.5 30.2L76.4 30.7L77.3 31.2L78.1 31.7L79.0 32.3L79.9 32.8L80.8 33.3L81.7 33.8L82.6 34.3L83.5 34.9L84.3 35.4L85.2 36.0L86.1 36.5L86.9 37.1L87.8 37.7L88.6 38.2L89.4 38.8L90.3 39.4L91.1 40.0L91.9 40.6L92.7 41.3L93.5 41.9L94.3 42.5L95.0 43.2L95.8 43.9L96.5 44.5L97.3 45.2L98.0 45.9L98.7 46.6L99.4 47.4L100.1 48.1L100.8 48.8L101.5 49.6L102.1 50.4L102.8 51.1L103.4 51.9L104.0 52.7L104.6 53.5L105.2 54.3L105.8 55.1L106.4 55.9L107.0 56.8L107.5 57.6L108.1 58.5L108.6 59.3L109.1 60.2L109.6 61.0L110.1 61.9L110.6 62.8L111.0 63.7L111.5 64.6L111.9 65.5L112.3 66.4L112.7 67.3L113.1 68.3L113.5 69.2L113.9 70.1L114.2 71.1L114.6 72.0L114.9 73.0L115.2 73.9L115.5 74.9L115.8 75.9L116.1 76.8L116.3 77.8L116.6 78.8L116.8 79.8L117.0 80.8L117.2 81.8L117.4 82.8L117.6 83.8L117.7 84.8L117.9 85.8L118.0 86.8L118.1 87.8L118.2 88.8L118.3 89.9L118.4 90.9L118.4 91.9L118.4 92.9L118.5 94.0L118.5 95.0L118.5 96.0L118.4 97.1L118.4 98.1L118.3 99.1L60.0 102.5L14.7 98.8L13.7 83.4L11.0 67.3L6.4 53.6L-1.6 44.4L-8.0 -8.0Z" fill="#00a8ff"/>
<path d="M151.6 -4.9L152.1 -3.9L152.5 -3.0L153.0 -2.0L153.5 -1.1L154.0 -0.2L154.5 0.6L155.1 1.5L155.7 2.3L156.3 3.1L157.0 3.8L157.6 4.6L158.3 5.3L159.0 6.0L159.7 6.7L160.5 7.3L161.2 8.0L162.0 8.6L162.8 9.2L163.6 9.8L164.4 10.4L165.2 10.9L166.1 11.5L166.9 12.0L167.8 12.5L168.6 13.1L169.5 13.6L170.4 14.1L171.3 14.5L172.2 15.0L173.1 15.5L174.0 16.0L175.0 16.4L175.9 16.9L176.8 17.3L177.7 17.8L178.7 18.2L179.6 18.7L180.5 19.1L181.5 19.6L182.4 20.0L183.3 20.5L184.2 20.9L185.2 21.4L186.1 21.9L187.0 22.3L187.9 22.8L188.8 23.3L189.7 23.8L190.6 24.2L191.5 24.7L192.4 25.2L193.2 25.8L194.1 26.3L195.0 26.8L195.8 27.3L196.7 27.9L197.5 28.4L198.3 29.0L199.2 29.6L200.0 30.2L200.8 30.8L201.5 31.4L202.3 32.0L203.1 32.7L203.8 33.3L204.6 34.0L205.3 34.7L206.0 35.4L206.7 36.1L207.4 36.8L208.1 37.6L208.8 38.4L209.4 39.2L210.1 40.0L210.7 40.8L211.3 41.6L211.9 42.5L212.4 43.4L213.0 44.3L213.5 45.2L214.1 46.2L217.2 46.2L217.2 -8.0L151.6 -8.0Z" fill="#00a8ff"/>
<path d="M36.5 -3.9L36.5 -2.7L36.6 -1.5L36.7 -0.3L36.8 0.8L37.0 1.9L37.2 3.0L37.4 4.0L37.7 5.1L38.0 6.1L38.3 7.0L38.6 8.0L39.0 8.9L39.4 9.8L39.8 10.7L40.2 11.5L40.7 12.3L41.2 13.1L41.7 13.9L42.2 14.7L42.8 15.4L43.4 16.2L44.0 16.9L44.6 17.5L45.2 18.2L45.9 18.9L46.6 19.5L47.2 20.1L48.0 20.7L48.7 21.3L49.4 21.9L50.2 22.5L50.9 23.0L51.7 23.5L52.5 24.1L53.3 24.6L54.2 25.1L55.0 25.6L55.8 26.1L56.7 26.5L57.5 27.0L58.4 27.5L59.3 27.9L60.2 28.4L61.1 28.8L62.0 29.3L62.9 29.7L63.8 30.1L64.7 30.6L65.7 31.0L66.6 31.4L67.5 31.9L68.4 32.3L69.4 32.7L70.3 33.1L71.3 33.6L72.2 34.0L73.1 34.4L74.1 34.9L75.0 35.3L75.9 35.8L76.8 36.2L77.8 36.7L78.7 37.2L79.6 37.6L80.5 38.1L81.4 38.6L82.3 39.1L83.2 39.6L84.1 40.1L85.0 40.7L85.8 41.2L86.7 41.8L87.5 42.3L88.4 42.9L89.2 43.5L90.0 44.1L90.8 44.7L91.6 45.3L92.4 45.9L93.2 46.6L94.0 47.2L94.7 47.9L95.5 48.5L96.2 49.2L96.9 49.9L97.7 50.6L98.4 51.3L99.1 52.0L99.7 52.8L100.4 53.5L101.1 54.2L101.7 55.0L102.4 55.8L103.0 56.5L103.6 57.3L104.2 58.1L104.8 58.9L105.4 59.7L106.0 60.6L106.5 61.4L107.1 62.2L107.6 63.1L108.1 63.9L108.6 64.8L109.1 65.6L109.6 66.5L110.0 67.4L110.5 68.3L110.9 69.2L111.3 70.1L111.7 71.0L112.1 71.9L112.5 72.9L112.9 73.8L113.2 74.8L113.6 75.7L113.9 76.7L114.2 77.6L114.5 78.6L114.8 79.6L115.0 80.6L115.3 81.6L115.5 82.6L115.7 83.6L115.9 84.6L116.1 85.6L116.3 86.6L116.4 87.7L116.6 88.7L116.7 89.7L116.8 90.8L116.9 91.8L116.9 92.9L117.0 94.0L117.0 95.0L117.0 96.1L117.0 97.2L117.0 98.3L117.0 99.4L60.0 102.5L16.5 98.8L15.3 75.3L12.1 55.2L6.6 44.2L-1.6 39.2L-8.0 -8.0Z" fill="#20fbde"/>
<path d="M155.0 -4.9L155.5 -3.9L156.1 -3.0L156.6 -2.1L157.2 -1.3L157.8 -0.4L158.4 0.4L159.0 1.2L159.7 1.9L160.3 2.7L161.0 3.4L161.7 4.1L162.5 4.8L163.2 5.4L164.0 6.1L164.8 6.7L165.5 7.3L166.3 7.9L167.2 8.4L168.0 9.0L168.8 9.5L169.7 10.1L170.6 10.6L171.4 11.1L172.3 11.6L173.2 12.1L174.1 12.5L175.0 13.0L175.9 13.5L176.9 13.9L177.8 14.4L178.7 14.8L179.6 15.3L180.6 15.7L181.5 16.1L182.5 16.6L183.4 17.0L184.3 17.4L185.3 17.8L186.2 18.3L187.2 18.7L188.1 19.1L189.0 19.6L190.0 20.0L190.9 20.5L191.8 20.9L192.7 21.4L193.6 21.9L194.5 22.3L195.4 22.8L196.3 23.3L197.2 23.8L198.0 24.4L198.9 24.9L199.7 25.4L200.6 26.0L201.4 26.6L202.2 27.1L203.0 27.7L203.8 28.4L204.6 29.0L205.3 29.6L206.1 30.3L206.8 31.0L207.5 31.7L208.2 32.5L208.9 33.2L209.5 34.0L210.2 34.8L210.8 35.6L211.4 36.4L212.0 37.3L212.5 38.2L213.1 39.1L213.6 40.1L214.1 41.1L217.2 41.1L217.2 -8.0L155.0 -8.0Z" fill="#20fbde"/>
<path d="M32.5 -4.0L32.4 -3.0L32.3 -2.0L32.3 -1.0L32.3 0.0L32.3 1.0L32.3 2.0L32.3 3.1L32.4 4.1L32.5 5.1L32.6 6.1L32.8 7.2L32.9 8.2L33.1 9.2L33.4 10.2L33.6 11.2L33.9 12.2L34.2 13.2L34.5 14.2L34.8 15.2L35.2 16.2L35.6 17.1L36.0 18.1L36.4 19.0L36.9 20.0L37.4 20.9L37.9 21.8L38.4 22.7L39.0 23.5L39.5 24.4L40.1 25.2L40.7 26.0L41.4 26.8L42.0 27.6L42.7 28.3L43.4 29.0L44.2 29.8L44.9 30.4L45.7 31.1L46.5 31.7L47.3 32.3L48.2 32.9L49.0 33.4L49.9 33.9L50.8 34.4L51.7 34.8L52.7 35.2L53.6 35.6L54.6 36.0L55.6 36.3L55.5 35.3L56.5 35.3L57.5 35.4L58.5 35.5L59.5 35.6L60.5 35.7L61.5 35.9L62.4 36.0L63.4 36.2L64.4 36.4L65.4 36.6L66.3 36.8L67.3 37.1L68.3 37.4L69.2 37.6L70.2 37.9L71.1 38.3L72.0 38.6L73.0 38.9L73.9 39.3L74.8 39.7L75.7 40.1L76.6 40.5L77.5 40.9L78.4 41.4L79.3 41.8L80.2 42.3L81.1 42.8L81.9 43.3L82.8 43.8L83.7 44.3L84.5 44.8L85.3 45.4L86.2 46.0L87.0 46.5L87.8 47.1L88.6 47.7L89.4 48.4L90.2 49.0L91.0 49.6L91.7 50.3L92.5 51.0L93.3 51.6L94.0 52.3L94.7 53.0L95.5 53.7L96.2 54.5L96.9 55.2L97.6 55.9L98.2 56.7L98.9 57.4L99.6 58.2L100.2 59.0L100.9 59.8L101.5 60.6L102.1 61.4L102.7 62.2L103.3 63.0L103.9 63.9L104.5 64.7L105.0 65.6L105.6 66.4L106.1 67.3L106.6 68.2L107.1 69.1L107.6 70.0L108.1 70.9L108.6 71.8L109.0 72.7L109.5 73.6L109.9 74.5L110.3 75.4L110.7 76.4L111.1 77.3L111.5 78.3L111.8 79.2L112.2 80.2L112.5 81.1L112.8 82.1L113.1 83.1L113.4 84.0L113.6 85.0L113.9 86.0L114.1 87.0L114.3 88.0L114.6 89.0L114.7 89.9L114.9 90.9L115.1 91.9L115.2 92.9L115.3 94.0L115.4 95.0L115.5 96.0L115.6 97.0L115.6 98.0L115.7 99.0L60.0 102.5L18.9 98.4L18.1 75.3L16.7 55.2L13.5 43.2L7.4 36.2L-1.6 31.7L-8.0 -8.0Z" fill="#30ff60"/>
<path d="M158.1 -4.9L158.7 -4.0L159.3 -3.1L159.9 -2.3L160.6 -1.5L161.3 -0.8L162.0 -0.0L162.7 0.7L163.4 1.4L164.2 2.1L164.9 2.7L165.7 3.4L166.5 4.0L167.3 4.6L168.1 5.2L169.0 5.7L169.8 6.3L170.7 6.8L171.5 7.4L172.4 7.9L173.3 8.4L174.2 8.9L175.1 9.3L176.0 9.8L176.9 10.3L177.9 10.7L178.8 11.1L179.7 11.6L180.7 12.0L181.6 12.4L182.5 12.9L183.5 13.3L184.4 13.7L185.4 14.1L186.3 14.5L187.3 14.9L188.2 15.4L189.2 15.8L190.1 16.2L191.1 16.6L192.0 17.1L193.0 17.5L193.9 17.9L194.8 18.4L195.8 18.8L196.7 19.3L197.6 19.8L198.5 20.3L199.4 20.8L200.3 21.3L201.2 21.8L202.0 22.3L202.9 22.9L203.7 23.4L204.6 24.0L205.4 24.6L206.2 25.2L207.0 25.9L207.8 26.5L208.6 27.2L209.3 27.9L210.1 28.6L210.8 29.3L211.5 30.1L212.2 30.9L212.8 31.7L213.5 32.5L214.1 33.4L217.2 33.4L217.2 -8.0L158.1 -8.0Z" fill="#30ff60"/>
<path d="M24.7 -4.0L24.5 -3.0L24.3 -2.0L24.2 -1.0L24.1 0.0L24.0 1.0L23.9 2.1L23.8 3.1L23.8 4.1L23.7 5.2L23.7 6.2L23.7 7.2L23.7 8.3L23.8 9.3L23.8 10.3L23.9 11.4L24.0 12.4L24.1 13.4L24.2 14.5L24.4 15.5L24.6 16.5L24.8 17.5L25.0 18.5L25.2 19.5L25.4 20.5L25.7 21.5L26.0 22.5L26.3 23.4L26.6 24.4L27.0 25.4L27.4 26.3L27.7 27.2L28.2 28.1L28.6 29.0L29.0 29.9L29.5 30.8L30.0 31.7L30.5 32.5L31.0 33.4L31.6 34.2L32.2 35.0L32.8 35.8L33.4 36.5L34.0 37.3L34.7 38.0L35.4 38.7L36.1 39.4L36.8 40.1L37.5 40.7L38.3 41.3L39.1 41.9L39.9 42.5L40.7 43.1L41.6 43.6L42.5 44.1L43.4 44.6L44.3 45.1L45.2 45.5L46.2 45.9L47.2 46.3L48.2 46.6L49.2 46.9L50.3 47.2L51.4 47.5L52.5 47.7L53.6 47.9L54.8 48.1L53.8 47.3L54.8 46.9L55.8 46.5L56.8 46.2L57.8 45.9L58.8 45.6L59.8 45.4L60.8 45.2L61.8 45.0L62.7 44.9L63.7 44.8L64.7 44.8L65.7 44.7L66.6 44.8L67.6 44.8L68.6 44.9L69.5 45.0L70.5 45.1L71.4 45.3L72.3 45.5L73.3 45.7L74.2 46.0L75.1 46.3L76.0 46.6L76.9 46.9L77.8 47.3L78.7 47.7L79.6 48.1L80.5 48.5L81.3 49.0L82.2 49.4L83.1 50.0L83.9 50.5L84.7 51.0L85.6 51.6L86.4 52.2L87.2 52.8L88.0 53.4L88.8 54.0L89.6 54.7L90.3 55.4L91.1 56.1L91.8 56.8L92.6 57.5L93.3 58.2L94.0 59.0L94.7 59.8L95.4 60.5L96.1 61.3L96.8 62.1L97.4 63.0L98.1 63.8L98.7 64.6L99.3 65.5L99.9 66.3L100.6 67.2L101.1 68.1L101.7 69.0L102.3 69.8L102.8 70.7L103.4 71.7L103.9 72.6L104.4 73.5L105.0 74.4L105.5 75.3L105.9 76.3L106.4 77.2L106.9 78.2L107.3 79.1L107.7 80.0L108.2 81.0L108.6 81.9L109.0 82.9L109.3 83.9L109.7 84.8L110.1 85.8L110.4 86.7L110.7 87.7L111.0 88.6L111.4 89.6L111.6 90.5L111.9 91.4L112.2 92.4L112.4 93.3L112.6 94.2L112.9 95.2L113.1 96.1L113.3 97.0L113.4 97.9L113.6 98.8L60.0 102.5L22.1 98.4L21.5 75.3L20.7 55.2L19.1 43.2L15.5 34.2L7.4 27.1L-1.6 22.7L-8.0 -8.0Z" fill="#fbff10"/>
<path d="M162.0 -4.9L162.7 -4.1L163.4 -3.4L164.1 -2.6L164.9 -1.9L165.6 -1.2L166.4 -0.6L167.2 0.1L168.0 0.7L168.8 1.3L169.6 1.9L170.5 2.5L171.3 3.1L172.2 3.6L173.1 4.1L173.9 4.7L174.8 5.2L175.7 5.7L176.6 6.1L177.5 6.6L178.4 7.1L179.3 7.5L180.3 8.0L181.2 8.4L182.1 8.8L183.1 9.3L184.0 9.7L184.9 10.1L185.9 10.5L186.8 10.9L187.8 11.3L188.7 11.7L189.7 12.1L190.7 12.5L191.6 12.9L192.6 13.3L193.5 13.7L194.5 14.1L195.4 14.5L196.4 14.9L197.3 15.4L198.3 15.8L199.2 16.2L200.1 16.6L201.1 17.1L202.0 17.5L202.9 18.0L203.8 18.4L204.7 18.9L205.6 19.4L206.5 19.9L207.4 20.4L208.3 20.9L209.2 21.5L210.0 22.0L210.9 22.6L211.7 23.2L212.6 23.8L213.4 24.4L214.2 25.0L217.2 25.0L217.2 -8.0L162.0 -8.0Z" fill="#fbff10"/>
<path d="M29.6 98.4L29.6 97.7L29.6 96.9L29.6 96.1L29.6 95.2L29.6 94.3L29.5 93.4L29.5 92.4L29.5 91.4L29.5 90.3L29.5 89.3L29.5 88.2L29.5 87.1L29.6 86.0L29.6 84.9L29.6 83.7L29.7 82.6L29.8 81.4L29.8 80.3L29.9 79.1L30.0 78.0L30.2 76.8L30.3 75.7L30.5 74.5L30.7 73.4L30.9 72.3L31.1 71.2L31.3 70.2L31.6 69.1L31.9 68.1L32.2 67.1L32.6 66.1L33.0 65.2L33.4 64.3L33.8 63.5L34.3 62.6L34.8 61.9L35.3 61.2L35.9 60.5L36.5 59.9L37.1 59.3L37.8 58.8L38.5 58.4L39.2 58.0L40.0 57.7L40.8 57.4L41.6 57.2L42.5 57.1L43.4 57.0L44.3 57.1L45.2 57.2L46.2 57.3L47.2 57.6L48.2 57.9L49.1 58.3L50.1 58.8L51.1 59.4L52.2 60.1L53.2 60.8L54.2 61.7L55.2 62.6L56.2 63.6L54.9 63.6L55.7 62.5L56.5 61.4L57.3 60.4L58.1 59.5L58.9 58.6L59.7 57.7L60.6 57.0L61.4 56.2L62.3 55.5L63.1 54.9L64.0 54.4L64.9 53.8L65.8 53.4L66.6 53.0L67.5 52.6L68.4 52.3L69.3 52.0L70.2 51.8L71.1 51.6L72.0 51.4L73.0 51.4L73.9 51.3L74.8 51.3L75.7 51.3L76.6 51.4L77.5 51.5L78.4 51.7L79.2 51.9L80.1 52.1L81.0 52.4L81.9 52.7L82.7 53.0L83.6 53.4L84.5 53.8L85.3 54.2L86.1 54.7L87.0 55.2L87.8 55.7L88.6 56.2L89.4 56.8L90.1 57.4L90.9 58.1L91.7 58.7L92.4 59.4L93.2 60.1L93.9 60.9L94.6 61.6L95.3 62.4L96.0 63.2L96.7 64.0L97.4 64.8L98.0 65.7L98.7 66.5L99.3 67.4L99.9 68.3L100.5 69.2L101.1 70.1L101.7 71.0L102.2 72.0L102.8 72.9L103.3 73.9L103.8 74.8L104.3 75.8L104.8 76.8L105.3 77.8L105.7 78.8L106.1 79.8L106.6 80.7L107.0 81.7L107.4 82.7L107.7 83.7L108.1 84.7L108.4 85.7L108.7 86.7L109.0 87.7L109.3 88.7L109.6 89.6L109.8 90.6L110.0 91.6L110.2 92.5L110.4 93.5L110.6 94.4L110.7 95.3L110.9 96.2L111.0 97.1L111.0 98.0L111.1 98.9L111.1 102.5L29.6 102.5Z" fill="#ffa818"/>
<path d="M16.5 -4.0L16.7 -3.1L16.9 -2.2L17.1 -1.3L17.2 -0.5L17.2 0.4L17.2 1.2L17.2 2.1L17.1 2.9L16.9 3.6L16.7 4.4L16.5 5.2L16.2 5.9L15.9 6.6L15.5 7.3L15.1 8.0L14.7 8.6L14.2 9.2L13.7 9.8L13.2 10.4L12.6 10.9L12.0 11.4L11.4 11.9L10.8 12.3L10.1 12.7L9.4 13.1L8.7 13.5L8.0 13.8L7.3 14.1L6.5 14.3L5.7 14.5L4.9 14.7L4.1 14.8L3.3 14.9L2.5 15.0L1.7 15.0L0.9 15.0L0.0 14.9L-0.8 14.8L-1.6 14.6L-8.0 14.6L-8.0 -8.0L16.5 -8.0Z" fill="#ffa818"/>
<path d="M165.2 -4.3L166.1 -3.7L166.9 -3.1L167.8 -2.6L168.7 -2.0L169.6 -1.5L170.4 -1.0L171.3 -0.5L172.2 0.0L173.1 0.5L174.0 1.0L174.9 1.5L175.8 1.9L176.8 2.4L177.7 2.8L178.6 3.3L179.6 3.7L180.5 4.1L181.4 4.5L182.4 4.9L183.3 5.3L184.3 5.7L185.2 6.1L186.2 6.5L187.1 6.8L188.1 7.2L189.1 7.6L190.0 7.9L191.0 8.3L192.0 8.6L192.9 9.0L193.9 9.3L194.9 9.6L195.9 10.0L196.8 10.3L197.8 10.7L198.8 11.0L199.7 11.3L200.7 11.7L201.7 12.0L202.7 12.3L203.6 12.7L204.6 13.0L205.6 13.3L206.6 13.7L207.5 14.0L208.5 14.4L209.5 14.7L210.4 15.0L211.4 15.4L212.3 15.8L213.3 16.1L214.2 16.5L217.2 16.5L217.2 -8.0L165.2 -8.0Z" fill="#ffa818"/>
<path d="M33.2 98.5L32.8 97.3L32.5 96.1L32.3 94.8L32.1 93.6L32.1 92.5L32.2 91.3L32.3 90.2L32.5 89.1L32.8 88.0L33.2 87.0L33.6 86.0L34.1 85.1L34.6 84.2L35.2 83.3L35.8 82.5L36.5 81.8L37.2 81.1L38.0 80.4L38.8 79.8L39.6 79.3L40.4 78.9L41.2 78.5L42.1 78.1L43.0 77.9L43.9 77.7L44.7 77.6L45.6 77.6L46.5 77.7L47.4 77.9L48.2 78.1L49.1 78.5L49.9 78.9L50.7 79.4L51.4 80.0L52.1 80.7L52.8 81.5L53.5 82.4L54.1 83.3L54.6 84.4L55.1 85.5L55.5 86.7L55.9 88.1L56.2 89.5L56.0 89.3L55.8 87.8L55.6 86.4L55.5 85.0L55.4 83.7L55.4 82.3L55.4 81.1L55.5 79.9L55.7 78.7L55.9 77.5L56.1 76.4L56.4 75.3L56.7 74.3L57.1 73.3L57.5 72.3L57.9 71.4L58.4 70.5L58.9 69.7L59.4 68.9L60.0 68.1L60.6 67.4L61.3 66.7L62.0 66.0L62.7 65.4L63.4 64.8L64.1 64.3L64.9 63.7L65.7 63.3L66.5 62.8L67.4 62.4L68.2 62.1L69.1 61.8L70.0 61.5L70.9 61.2L71.8 61.0L72.7 60.9L73.7 60.7L74.6 60.6L75.5 60.6L76.5 60.5L77.4 60.5L78.4 60.6L79.4 60.7L80.3 60.8L81.3 61.0L82.2 61.1L83.2 61.4L84.1 61.6L85.0 61.9L85.9 62.3L86.9 62.7L87.8 63.1L88.6 63.5L89.5 64.0L90.4 64.5L91.2 65.0L92.1 65.6L92.9 66.2L93.7 66.8L94.5 67.5L95.2 68.2L96.0 68.9L96.7 69.6L97.5 70.4L98.2 71.2L98.8 72.0L99.5 72.8L100.2 73.6L100.8 74.5L101.4 75.4L102.0 76.2L102.5 77.2L103.1 78.1L103.6 79.0L104.1 80.0L104.6 80.9L105.0 81.9L105.4 82.9L105.8 83.9L106.2 84.9L106.5 85.9L106.9 86.9L107.2 87.9L107.4 89.0L107.7 90.0L107.9 91.0L108.0 92.1L108.2 93.1L108.3 94.1L108.4 95.2L108.5 96.2L108.5 97.2L108.5 98.2L108.4 99.3L108.4 102.5L33.2 102.5Z" fill="#ff4800"/>
<path d="M8.4 -4.0L8.6 -3.5L8.8 -3.0L8.9 -2.5L8.9 -2.0L9.0 -1.5L9.0 -1.1L8.9 -0.6L8.9 -0.2L8.8 0.3L8.7 0.7L8.5 1.1L8.4 1.5L8.2 1.9L8.0 2.3L7.7 2.6L7.5 3.0L7.2 3.3L6.9 3.6L6.6 3.9L6.3 4.2L5.9 4.5L5.6 4.8L5.2 5.0L4.8 5.2L4.4 5.4L4.0 5.6L3.6 5.8L3.2 6.0L2.8 6.1L2.3 6.3L1.9 6.4L1.4 6.5L1.0 6.6L0.6 6.6L0.1 6.7L-0.3 6.7L-0.7 6.7L-1.2 6.7L-1.6 6.6L-8.0 6.6L-8.0 -8.0L8.4 -8.0Z" fill="#ff4800"/>
<path d="M170.4 -4.3L171.2 -3.8L172.1 -3.3L173.0 -2.8L173.9 -2.3L174.8 -1.8L175.7 -1.3L176.6 -0.9L177.5 -0.4L178.5 0.0L179.4 0.5L180.3 0.9L181.3 1.3L182.2 1.7L183.2 2.1L184.1 2.4L185.1 2.8L186.1 3.2L187.0 3.5L188.0 3.8L189.0 4.1L190.0 4.4L191.0 4.7L192.0 5.0L192.9 5.2L193.9 5.5L194.9 5.7L195.9 5.9L197.0 6.1L198.0 6.3L199.0 6.5L200.0 6.7L201.0 6.8L202.0 7.0L203.0 7.1L204.1 7.2L205.1 7.3L206.1 7.4L207.1 7.4L208.1 7.5L209.2 7.5L210.2 7.5L211.2 7.5L212.2 7.5L213.3 7.5L214.3 7.5L217.2 7.5L217.2 -8.0L170.4 -8.0Z" fill="#ff4800"/>
<path d="M59.6 99.4L59.3 98.0L59.0 96.5L58.8 95.2L58.7 93.8L58.6 92.5L58.6 91.3L58.7 90.0L58.8 88.8L58.9 87.7L59.1 86.5L59.3 85.4L59.6 84.4L59.9 83.4L60.3 82.4L60.7 81.4L61.1 80.5L61.6 79.7L62.1 78.8L62.6 78.0L63.2 77.3L63.8 76.5L64.5 75.8L65.1 75.2L65.8 74.6L66.6 74.0L67.3 73.5L68.1 72.9L68.9 72.5L69.7 72.0L70.5 71.7L71.4 71.3L72.2 71.0L73.1 70.7L74.0 70.5L74.9 70.2L75.8 70.1L76.7 69.9L77.6 69.9L78.6 69.8L79.5 69.8L80.5 69.8L81.4 69.9L82.3 70.0L83.3 70.1L84.2 70.3L85.1 70.5L86.0 70.7L87.0 71.0L87.9 71.4L88.8 71.7L89.6 72.1L90.5 72.6L91.4 73.0L92.2 73.6L93.0 74.1L93.8 74.7L94.6 75.3L95.4 75.9L96.1 76.6L96.8 77.3L97.5 78.1L98.1 78.9L98.8 79.7L99.4 80.5L100.0 81.4L100.5 82.3L101.0 83.3L101.5 84.2L101.9 85.2L102.3 86.3L102.6 87.3L103.0 88.4L103.2 89.5L103.4 90.7L103.6 91.8L103.8 93.0L103.9 94.2L103.9 95.5L103.9 96.8L103.8 98.1L103.7 99.4L103.7 102.5L59.6 102.5Z" fill="#ff0000"/>
<path d="M70.1 98.8L69.8 97.3L69.7 95.9L69.6 94.6L69.6 93.3L69.8 92.1L70.0 91.0L70.2 90.0L70.6 89.0L71.0 88.1L71.5 87.2L72.1 86.4L72.7 85.7L73.4 85.0L74.1 84.4L74.8 83.9L75.6 83.4L76.5 83.0L77.4 82.7L78.3 82.4L79.2 82.2L80.1 82.0L81.1 81.9L82.1 81.8L83.1 81.9L84.0 81.9L85.0 82.1L86.0 82.2L87.0 82.5L87.9 82.8L88.9 83.2L89.8 83.6L90.7 84.0L91.6 84.6L92.4 85.1L93.2 85.8L93.9 86.5L94.6 87.2L95.3 88.0L95.8 88.9L96.4 89.8L96.8 90.7L97.2 91.7L97.6 92.8L97.8 93.9L98.0 95.0L98.1 96.2L98.1 97.5L98.0 98.8L98.0 102.5L70.1 102.5Z" fill="#8c0000"/>
</g>

<g transform="translate(35.00 216.25)" clip-path="url(#pc)">
<rect x="-5" y="-5" width="219.25" height="104.50" fill="#00008f"/>
<path d="M50.5 -3.2L51.1 -2.5L51.7 -1.8L52.4 -1.1L53.0 -0.4L53.7 0.3L54.3 1.0L55.0 1.6L55.7 2.2L56.4 2.9L57.2 3.5L57.9 4.1L58.7 4.7L59.4 5.3L60.2 5.9L61.0 6.5L61.7 7.0L62.5 7.6L63.3 8.2L64.2 8.7L65.0 9.3L65.8 9.9L66.6 10.4L67.4 11.0L68.3 11.5L69.1 12.0L70.0 12.6L70.8 13.1L71.7 13.7L72.5 14.2L73.4 14.8L74.2 15.3L75.1 15.9L75.9 16.4L76.8 17.0L77.6 17.5L78.5 18.1L79.3 18.7L80.2 19.2L81.0 19.8L81.8 20.4L82.7 20.9L83.5 21.5L84.3 22.1L85.2 22.7L86.0 23.3L86.8 23.9L87.6 24.5L88.4 25.1L89.2 25.7L90.0 26.3L90.8 27.0L91.6 27.6L92.4 28.2L93.2 28.9L94.0 29.5L94.7 30.2L95.5 30.8L96.2 31.5L97.0 32.2L97.7 32.9L98.4 33.6L99.1 34.3L99.8 35.0L100.5 35.7L101.2 36.4L101.9 37.1L102.6 37.9L103.2 38.6L103.9 39.4L104.5 40.2L105.1 41.0L105.7 41.7L106.3 42.5L106.9 43.3L107.5 44.2L108.0 45.0L108.6 45.8L109.1 46.7L109.7 47.5L110.2 48.4L110.7 49.2L111.2 50.1L111.7 51.0L112.1 51.9L112.6 52.8L113.0 53.7L113.5 54.6L113.9 55.5L114.3 56.4L114.7 57.3L115.1 58.3L115.5 59.2L115.8 60.1L116.2 61.1L116.5 62.0L116.8 63.0L117.2 64.0L117.5 64.9L117.8 65.9L118.0 66.9L118.3 67.8L118.6 68.8L118.8 69.8L119.0 70.8L119.3 71.8L119.5 72.8L119.7 73.8L119.9 74.8L120.0 75.8L120.2 76.8L120.3 77.8L120.5 78.8L120.6 79.8L120.7 80.8L120.8 81.9L120.9 82.9L121.0 83.9L121.1 84.9L121.1 85.9L121.2 86.9L121.2 87.9L121.2 89.0L121.2 90.0L121.2 91.0L121.2 92.0L121.2 93.0L121.1 94.0L121.1 95.0L121.0 96.1L120.9 97.1L120.8 98.1L120.7 99.1L60.0 102.5L10.6 98.6L10.0 91.1L8.2 82.3L4.4 69.6L0.0 58.2L-1.0 56.0L-8.0 -8.0Z" fill="#0010e8"/>
<path d="M142.9 -5.1L143.2 -4.0L143.6 -3.0L144.0 -2.0L144.4 -1.0L144.8 -0.1L145.3 0.9L145.7 1.8L146.3 2.7L146.8 3.5L147.3 4.4L147.9 5.2L148.5 6.0L149.1 6.8L149.7 7.5L150.4 8.3L151.1 9.0L151.8 9.7L152.5 10.4L153.2 11.0L153.9 11.7L154.7 12.3L155.4 13.0L156.2 13.6L157.0 14.2L157.8 14.8L158.6 15.3L159.5 15.9L160.3 16.5L161.1 17.0L162.0 17.5L162.9 18.1L163.7 18.6L164.6 19.1L165.5 19.6L166.4 20.1L167.3 20.6L168.2 21.1L169.1 21.6L170.0 22.1L170.9 22.5L171.9 23.0L172.8 23.5L173.7 24.0L174.6 24.4L175.5 24.9L176.4 25.4L177.3 25.8L178.3 26.3L179.2 26.8L180.1 27.3L181.0 27.8L181.9 28.3L182.8 28.8L183.6 29.3L184.5 29.8L185.4 30.3L186.3 30.8L187.1 31.3L188.0 31.8L188.9 32.4L189.7 32.9L190.6 33.4L191.4 34.0L192.2 34.6L193.0 35.1L193.9 35.7L194.7 36.3L195.5 36.9L196.3 37.5L197.1 38.1L197.8 38.7L198.6 39.3L199.4 40.0L200.1 40.6L200.8 41.3L201.6 42.0L202.3 42.7L203.0 43.4L203.7 44.1L204.4 44.8L205.1 45.5L205.8 46.3L206.4 47.0L207.1 47.8L207.7 48.6L208.3 49.4L208.9 50.2L209.5 51.1L210.1 51.9L210.7 52.8L211.3 53.7L211.8 54.6L212.4 55.5L212.9 56.4L213.4 57.4L213.9 58.3L217.2 58.3L217.2 -8.0L142.9 -8.0Z" fill="#0010e8"/>
<path d="M45.9 -3.6L46.3 -2.7L46.8 -1.8L47.3 -1.0L47.8 -0.1L48.4 0.7L48.9 1.5L49.5 2.2L50.1 3.0L50.7 3.7L51.3 4.5L52.0 5.2L52.6 5.9L53.3 6.6L54.0 7.3L54.6 7.9L55.4 8.6L56.1 9.2L56.8 9.9L57.5 10.5L58.3 11.1L59.1 11.7L59.8 12.3L60.6 12.9L61.4 13.5L62.2 14.1L63.0 14.7L63.8 15.3L64.6 15.8L65.5 16.4L66.3 17.0L67.1 17.5L68.0 18.1L68.8 18.6L69.6 19.2L70.5 19.7L71.3 20.3L72.2 20.8L73.0 21.4L73.9 22.0L74.7 22.5L75.6 23.1L76.4 23.6L77.3 24.2L78.1 24.8L79.0 25.4L79.8 25.9L80.6 26.5L81.5 27.1L82.3 27.7L83.1 28.3L84.0 28.9L84.8 29.5L85.6 30.1L86.4 30.7L87.2 31.3L88.0 31.9L88.8 32.5L89.6 33.2L90.4 33.8L91.2 34.5L92.0 35.1L92.8 35.7L93.5 36.4L94.3 37.1L95.1 37.7L95.8 38.4L96.5 39.1L97.3 39.8L98.0 40.5L98.7 41.2L99.4 41.9L100.1 42.6L100.8 43.4L101.5 44.1L102.1 44.8L102.8 45.6L103.4 46.4L104.1 47.1L104.7 47.9L105.3 48.7L105.9 49.5L106.5 50.3L107.1 51.1L107.7 51.9L108.2 52.8L108.8 53.6L109.3 54.5L109.8 55.3L110.3 56.2L110.8 57.0L111.3 57.9L111.8 58.8L112.3 59.7L112.7 60.6L113.1 61.5L113.6 62.4L114.0 63.3L114.4 64.2L114.8 65.2L115.1 66.1L115.5 67.0L115.8 68.0L116.2 68.9L116.5 69.9L116.8 70.9L117.1 71.8L117.4 72.8L117.6 73.8L117.9 74.7L118.1 75.7L118.3 76.7L118.6 77.7L118.8 78.7L118.9 79.7L119.1 80.7L119.2 81.7L119.4 82.7L119.5 83.7L119.6 84.7L119.7 85.8L119.8 86.8L119.8 87.8L119.9 88.8L119.9 89.9L119.9 90.9L119.9 91.9L119.9 93.0L119.9 94.0L119.8 95.0L119.7 96.1L119.7 97.1L119.6 98.1L119.5 99.2L60.0 102.5L12.7 98.6L11.6 87.1L9.0 74.1L5.0 62.0L-1.0 51.0L-8.0 -8.0Z" fill="#0058ff"/>
<path d="M147.9 -4.9L148.3 -3.9L148.7 -2.9L149.1 -1.9L149.6 -1.0L150.1 -0.1L150.6 0.8L151.1 1.7L151.7 2.6L152.2 3.4L152.8 4.2L153.4 5.0L154.1 5.8L154.7 6.5L155.4 7.3L156.1 8.0L156.8 8.7L157.5 9.4L158.2 10.1L159.0 10.7L159.7 11.4L160.5 12.0L161.3 12.6L162.1 13.2L162.9 13.8L163.7 14.4L164.6 14.9L165.4 15.5L166.3 16.0L167.1 16.6L168.0 17.1L168.9 17.6L169.8 18.1L170.7 18.6L171.6 19.1L172.5 19.6L173.4 20.1L174.3 20.6L175.2 21.1L176.1 21.5L177.1 22.0L178.0 22.5L178.9 23.0L179.8 23.4L180.8 23.9L181.7 24.4L182.6 24.9L183.5 25.3L184.4 25.8L185.4 26.3L186.3 26.8L187.2 27.3L188.1 27.8L189.0 28.3L189.9 28.8L190.8 29.3L191.7 29.8L192.5 30.3L193.4 30.9L194.3 31.4L195.1 32.0L196.0 32.5L196.8 33.1L197.7 33.7L198.5 34.3L199.3 34.9L200.1 35.5L200.9 36.1L201.7 36.7L202.5 37.4L203.2 38.0L204.0 38.7L204.7 39.4L205.4 40.1L206.1 40.8L206.8 41.6L207.5 42.3L208.2 43.1L208.8 43.9L209.4 44.7L210.0 45.5L210.6 46.4L211.2 47.3L211.8 48.2L212.3 49.1L212.8 50.0L213.3 51.0L213.8 51.9L217.2 51.9L217.2 -8.0L147.9 -8.0Z" fill="#0058ff"/>
<path d="M40.8 -3.6L41.1 -2.6L41.4 -1.6L41.7 -0.6L42.1 0.3L42.5 1.2L42.9 2.1L43.3 3.0L43.8 3.9L44.3 4.7L44.8 5.6L45.3 6.4L45.8 7.2L46.3 8.0L46.9 8.7L47.5 9.5L48.1 10.2L48.7 11.0L49.4 11.7L50.0 12.4L50.7 13.1L51.3 13.7L52.0 14.4L52.7 15.1L53.5 15.7L54.2 16.3L54.9 16.9L55.7 17.6L56.5 18.2L57.2 18.8L58.0 19.3L58.8 19.9L59.6 20.5L60.5 21.1L61.3 21.6L62.1 22.2L63.0 22.7L63.8 23.3L64.7 23.8L65.5 24.3L66.4 24.9L67.3 25.4L68.1 25.9L69.0 26.4L69.9 27.0L70.8 27.5L71.7 28.0L72.5 28.5L73.4 29.0L74.3 29.5L75.2 30.1L76.1 30.6L77.0 31.1L77.9 31.6L78.8 32.1L79.7 32.7L80.6 33.2L81.4 33.7L82.3 34.3L83.2 34.8L84.1 35.4L84.9 35.9L85.8 36.5L86.7 37.0L87.5 37.6L88.3 38.2L89.2 38.8L90.0 39.4L90.8 40.0L91.6 40.6L92.5 41.2L93.2 41.9L94.0 42.5L94.8 43.2L95.6 43.8L96.3 44.5L97.1 45.2L97.8 45.9L98.5 46.6L99.2 47.3L99.9 48.1L100.6 48.8L101.3 49.5L102.0 50.3L102.6 51.1L103.3 51.8L103.9 52.6L104.5 53.4L105.1 54.2L105.7 55.0L106.3 55.8L106.9 56.6L107.4 57.5L108.0 58.3L108.5 59.2L109.0 60.0L109.6 60.9L110.0 61.8L110.5 62.6L111.0 63.5L111.5 64.4L111.9 65.3L112.3 66.2L112.8 67.1L113.2 68.1L113.5 69.0L113.9 69.9L114.3 70.9L114.6 71.8L115.0 72.8L115.3 73.7L115.6 74.7L115.9 75.7L116.1 76.6L116.4 77.6L116.7 78.6L116.9 79.6L117.1 80.6L117.3 81.6L117.5 82.6L117.6 83.6L117.8 84.6L117.9 85.6L118.1 86.7L118.2 87.7L118.3 88.7L118.3 89.8L118.4 90.8L118.4 91.9L118.4 92.9L118.5 94.0L118.4 95.0L118.4 96.1L118.4 97.2L118.3 98.2L118.2 99.3L60.0 102.5L14.5 98.6L13.7 83.1L11.0 67.0L6.4 53.4L-1.0 45.0L-8.0 -8.0Z" fill="#00a8ff"/>
<path d="M151.4 -4.9L151.9 -3.9L152.3 -3.0L152.8 -2.0L153.3 -1.1L153.8 -0.2L154.3 0.6L154.9 1.5L155.5 2.3L156.1 3.1L156.8 3.8L157.4 4.6L158.1 5.3L158.8 6.0L159.5 6.7L160.3 7.3L161.0 8.0L161.8 8.6L162.6 9.2L163.4 9.8L164.2 10.4L165.0 10.9L165.9 11.5L166.7 12.0L167.6 12.5L168.4 13.1L169.3 13.6L170.2 14.1L171.1 14.5L172.0 15.0L172.9 15.5L173.8 16.0L174.8 16.4L175.7 16.9L176.6 17.3L177.5 17.8L178.5 18.2L179.4 18.7L180.3 19.1L181.3 19.6L182.2 20.0L183.1 20.5L184.0 20.9L185.0 21.4L185.9 21.9L186.8 22.3L187.7 22.8L188.6 23.3L189.5 23.8L190.4 24.2L191.3 24.7L192.2 25.2L193.0 25.8L193.9 26.3L194.8 26.8L195.6 27.3L196.5 27.9L197.3 28.4L198.1 29.0L199.0 29.6L199.8 30.2L200.6 30.8L201.3 31.4L202.1 32.0L202.9 32.7L203.6 33.3L204.4 34.0L205.1 34.7L205.8 35.4L206.5 36.1L207.2 36.8L207.9 37.6L208.6 38.4L209.2 39.2L209.9 40.0L210.5 40.8L211.1 41.6L211.7 42.5L212.2 43.4L212.8 44.3L213.3 45.2L213.9 46.2L217.2 46.2L217.2 -8.0L151.4 -8.0Z" fill="#00a8ff"/>
<path d="M35.4 -4.0L35.5 -2.8L35.6 -1.7L35.7 -0.6L35.9 0.5L36.1 1.6L36.4 2.6L36.7 3.6L37.0 4.6L37.3 5.6L37.6 6.5L38.0 7.4L38.4 8.3L38.8 9.2L39.3 10.0L39.7 10.8L40.2 11.6L40.7 12.4L41.3 13.2L41.8 13.9L42.4 14.7L43.0 15.4L43.6 16.1L44.2 16.8L44.8 17.4L45.5 18.1L46.2 18.7L46.9 19.3L47.6 20.0L48.3 20.5L49.1 21.1L49.8 21.7L50.6 22.3L51.4 22.8L52.2 23.4L53.0 23.9L53.8 24.4L54.6 24.9L55.4 25.4L56.3 25.9L57.1 26.4L58.0 26.9L58.9 27.4L59.8 27.8L60.6 28.3L61.5 28.8L62.4 29.2L63.3 29.7L64.2 30.1L65.2 30.6L66.1 31.0L67.0 31.5L67.9 31.9L68.8 32.4L69.8 32.8L70.7 33.3L71.6 33.7L72.5 34.2L73.5 34.6L74.4 35.1L75.3 35.5L76.2 36.0L77.1 36.5L78.0 37.0L79.0 37.4L79.9 37.9L80.8 38.4L81.7 38.9L82.5 39.4L83.4 40.0L84.3 40.5L85.2 41.0L86.0 41.6L86.9 42.1L87.7 42.7L88.5 43.3L89.4 43.9L90.2 44.5L91.0 45.1L91.8 45.7L92.6 46.3L93.3 46.9L94.1 47.6L94.9 48.2L95.6 48.9L96.4 49.6L97.1 50.2L97.8 50.9L98.5 51.6L99.2 52.3L99.9 53.0L100.6 53.8L101.2 54.5L101.9 55.2L102.5 56.0L103.2 56.7L103.8 57.5L104.4 58.3L105.0 59.1L105.6 59.9L106.1 60.7L106.7 61.5L107.2 62.3L107.8 63.1L108.3 64.0L108.8 64.8L109.3 65.7L109.8 66.5L110.2 67.4L110.7 68.3L111.1 69.2L111.5 70.1L111.9 71.0L112.3 71.9L112.7 72.8L113.1 73.8L113.4 74.7L113.7 75.6L114.1 76.6L114.4 77.6L114.7 78.5L114.9 79.5L115.2 80.5L115.4 81.5L115.6 82.5L115.8 83.5L116.0 84.5L116.2 85.5L116.4 86.6L116.5 87.6L116.6 88.7L116.7 89.7L116.8 90.8L116.9 91.9L116.9 92.9L117.0 94.0L117.0 95.1L117.0 96.2L116.9 97.3L116.9 98.4L116.8 99.6L60.0 102.5L16.5 98.6L15.3 75.1L12.0 55.0L6.6 42.9L-1.0 37.3L-8.0 -8.0Z" fill="#20fbde"/>
<path d="M154.8 -4.9L155.3 -3.9L155.9 -3.0L156.4 -2.1L157.0 -1.3L157.6 -0.4L158.2 0.4L158.8 1.2L159.5 1.9L160.1 2.7L160.8 3.4L161.5 4.1L162.3 4.8L163.0 5.4L163.8 6.1L164.6 6.7L165.3 7.3L166.1 7.9L167.0 8.4L167.8 9.0L168.6 9.5L169.5 10.1L170.4 10.6L171.2 11.1L172.1 11.6L173.0 12.1L173.9 12.5L174.8 13.0L175.7 13.5L176.7 13.9L177.6 14.4L178.5 14.8L179.4 15.3L180.4 15.7L181.3 16.1L182.3 16.6L183.2 17.0L184.1 17.4L185.1 17.8L186.0 18.3L187.0 18.7L187.9 19.1L188.8 19.6L189.8 20.0L190.7 20.5L191.6 20.9L192.5 21.4L193.4 21.9L194.3 22.3L195.2 22.8L196.1 23.3L197.0 23.8L197.8 24.4L198.7 24.9L199.5 25.4L200.4 26.0L201.2 26.6L202.0 27.1L202.8 27.7L203.6 28.4L204.4 29.0L205.1 29.6L205.9 30.3L206.6 31.0L207.3 31.7L208.0 32.5L208.7 33.2L209.3 34.0L210.0 34.8L210.6 35.6L211.2 36.4L211.8 37.3L212.3 38.2L212.9 39.1L213.4 40.1L213.9 41.1L217.2 41.1L217.2 -8.0L154.8 -8.0Z" fill="#20fbde"/>
<path d="M31.1 -4.2L31.0 -3.2L30.9 -2.2L30.8 -1.2L30.8 -0.1L30.8 0.9L30.8 2.0L30.8 3.0L30.9 4.0L31.0 5.1L31.1 6.1L31.3 7.2L31.4 8.2L31.7 9.2L31.9 10.2L32.2 11.2L32.5 12.3L32.8 13.3L33.1 14.2L33.5 15.2L33.9 16.2L34.3 17.1L34.8 18.1L35.3 19.0L35.8 19.9L36.3 20.8L36.8 21.7L37.4 22.6L38.0 23.4L38.6 24.2L39.3 25.0L40.0 25.8L40.7 26.6L41.4 27.3L42.1 28.0L42.9 28.7L43.7 29.3L44.5 30.0L45.3 30.6L46.2 31.1L47.1 31.7L48.0 32.2L48.9 32.7L49.9 33.1L50.8 33.5L51.8 33.9L52.8 34.3L53.8 34.6L53.8 34.1L54.8 34.2L55.8 34.4L56.8 34.5L57.8 34.6L58.8 34.8L59.9 35.0L60.9 35.2L61.9 35.4L62.9 35.6L63.8 35.8L64.8 36.1L65.8 36.4L66.8 36.7L67.8 37.0L68.7 37.3L69.7 37.6L70.6 37.9L71.6 38.3L72.5 38.7L73.5 39.1L74.4 39.5L75.3 39.9L76.3 40.3L77.2 40.8L78.1 41.2L79.0 41.7L79.9 42.2L80.7 42.7L81.6 43.2L82.5 43.7L83.4 44.2L84.2 44.8L85.1 45.3L85.9 45.9L86.7 46.5L87.5 47.1L88.4 47.7L89.2 48.3L90.0 48.9L90.7 49.6L91.5 50.2L92.3 50.9L93.1 51.6L93.8 52.3L94.5 52.9L95.3 53.7L96.0 54.4L96.7 55.1L97.4 55.8L98.1 56.6L98.8 57.3L99.4 58.1L100.1 58.9L100.7 59.7L101.4 60.4L102.0 61.3L102.6 62.1L103.2 62.9L103.8 63.7L104.3 64.5L104.9 65.4L105.5 66.2L106.0 67.1L106.5 68.0L107.0 68.9L107.5 69.7L108.0 70.6L108.5 71.5L108.9 72.4L109.4 73.3L109.8 74.3L110.2 75.2L110.6 76.1L111.0 77.1L111.4 78.0L111.8 79.0L112.1 79.9L112.4 80.9L112.8 81.9L113.1 82.8L113.3 83.8L113.6 84.8L113.9 85.8L114.1 86.8L114.3 87.8L114.5 88.8L114.7 89.8L114.9 90.8L115.0 91.9L115.2 92.9L115.3 93.9L115.4 94.9L115.5 96.0L115.6 97.0L115.6 98.1L115.7 99.1L60.0 102.5L19.1 98.6L18.7 75.1L17.3 54.0L13.5 41.3L7.0 34.1L-1.0 30.1L-8.0 -8.0Z" fill="#30ff60"/>
<path d="M157.9 -4.9L158.5 -4.0L159.1 -3.1L159.7 -2.3L160.4 -1.5L161.1 -0.8L161.8 -0.0L162.5 0.7L163.2 1.4L164.0 2.1L164.7 2.7L165.5 3.4L166.3 4.0L167.1 4.6L167.9 5.2L168.8 5.7L169.6 6.3L170.5 6.8L171.3 7.4L172.2 7.9L173.1 8.4L174.0 8.9L174.9 9.3L175.8 9.8L176.7 10.3L177.7 10.7L178.6 11.1L179.5 11.6L180.5 12.0L181.4 12.4L182.3 12.9L183.3 13.3L184.2 13.7L185.2 14.1L186.1 14.5L187.1 14.9L188.0 15.4L189.0 15.8L189.9 16.2L190.9 16.6L191.8 17.1L192.8 17.5L193.7 17.9L194.6 18.4L195.6 18.8L196.5 19.3L197.4 19.8L198.3 20.3L199.2 20.8L200.1 21.3L201.0 21.8L201.8 22.3L202.7 22.9L203.5 23.4L204.4 24.0L205.2 24.6L206.0 25.2L206.8 25.9L207.6 26.5L208.4 27.2L209.1 27.9L209.9 28.6L210.6 29.3L211.3 30.1L212.0 30.9L212.6 31.7L213.3 32.5L213.9 33.4L217.2 33.4L217.2 -8.0L157.9 -8.0Z" fill="#30ff60"/>
<path d="M24.2 -4.3L24.1 -3.3L23.9 -2.3L23.8 -1.3L23.7 -0.3L23.6 0.8L23.5 1.8L23.5 2.8L23.4 3.8L23.4 4.9L23.4 5.9L23.4 7.0L23.4 8.0L23.5 9.0L23.5 10.1L23.6 11.1L23.7 12.2L23.8 13.2L24.0 14.3L24.1 15.3L24.3 16.3L24.5 17.3L24.7 18.4L24.9 19.4L25.2 20.4L25.4 21.4L25.7 22.4L26.0 23.4L26.4 24.3L26.7 25.3L27.1 26.2L27.5 27.2L27.9 28.1L28.3 29.0L28.7 29.9L29.2 30.8L29.7 31.7L30.2 32.5L30.7 33.4L31.3 34.2L31.9 35.0L32.5 35.8L33.1 36.6L33.7 37.3L34.4 38.1L35.1 38.8L35.8 39.5L36.5 40.1L37.3 40.8L38.0 41.4L38.8 42.0L39.7 42.5L40.5 43.1L41.4 43.6L42.3 44.1L43.2 44.5L44.1 45.0L45.1 45.4L46.1 45.7L47.1 46.1L48.1 46.4L49.2 46.7L50.3 46.9L51.4 47.1L52.5 47.3L53.7 47.5L52.9 46.8L53.9 46.4L55.0 46.1L56.0 45.8L57.0 45.5L58.0 45.3L59.1 45.1L60.1 45.0L61.1 44.8L62.1 44.7L63.1 44.7L64.1 44.6L65.1 44.6L66.1 44.6L67.0 44.7L68.0 44.8L69.0 44.9L69.9 45.0L70.9 45.2L71.8 45.4L72.7 45.6L73.7 45.9L74.6 46.1L75.5 46.4L76.4 46.7L77.3 47.1L78.2 47.5L79.1 47.9L79.9 48.3L80.8 48.7L81.6 49.2L82.5 49.7L83.3 50.2L84.2 50.7L85.0 51.2L85.8 51.8L86.6 52.4L87.4 53.0L88.2 53.6L89.0 54.3L89.7 54.9L90.5 55.6L91.2 56.3L92.0 57.0L92.7 57.7L93.4 58.4L94.1 59.2L94.8 59.9L95.5 60.7L96.2 61.5L96.9 62.3L97.5 63.1L98.2 63.9L98.8 64.8L99.4 65.6L100.0 66.5L100.6 67.3L101.2 68.2L101.8 69.1L102.4 70.0L102.9 70.9L103.5 71.8L104.0 72.7L104.5 73.6L105.0 74.5L105.5 75.4L106.0 76.4L106.5 77.3L106.9 78.2L107.4 79.2L107.8 80.1L108.2 81.1L108.6 82.0L109.0 83.0L109.4 83.9L109.8 84.9L110.1 85.8L110.5 86.8L110.8 87.7L111.1 88.7L111.4 89.6L111.7 90.5L112.0 91.5L112.2 92.4L112.4 93.3L112.7 94.3L112.9 95.2L113.1 96.1L113.3 97.0L113.4 97.9L113.6 98.8L60.0 102.5L22.5 98.6L22.1 75.1L21.5 55.0L19.9 40.9L15.5 31.9L7.0 25.3L-1.0 21.9L-8.0 -8.0Z" fill="#fbff10"/>
<path d="M161.8 -4.9L162.5 -4.1L163.2 -3.4L163.9 -2.6L164.7 -1.9L165.4 -1.2L166.2 -0.6L167.0 0.1L167.8 0.7L168.6 1.3L169.4 1.9L170.3 2.5L171.1 3.1L172.0 3.6L172.9 4.1L173.7 4.7L174.6 5.2L175.5 5.7L176.4 6.1L177.3 6.6L178.2 7.1L179.1 7.5L180.1 8.0L181.0 8.4L181.9 8.8L182.9 9.3L183.8 9.7L184.7 10.1L185.7 10.5L186.6 10.9L187.6 11.3L188.5 11.7L189.5 12.1L190.5 12.5L191.4 12.9L192.4 13.3L193.3 13.7L194.3 14.1L195.2 14.5L196.2 14.9L197.1 15.4L198.1 15.8L199.0 16.2L199.9 16.6L200.9 17.1L201.8 17.5L202.7 18.0L203.6 18.4L204.5 18.9L205.4 19.4L206.3 19.9L207.2 20.4L208.1 20.9L209.0 21.5L209.8 22.0L210.7 22.6L211.5 23.2L212.4 23.8L213.2 24.4L214.0 25.0L217.2 25.0L217.2 -8.0L161.8 -8.0Z" fill="#fbff10"/>
<path d="M28.2 98.5L28.2 97.8L28.1 97.1L28.0 96.3L28.0 95.4L27.9 94.6L27.9 93.6L27.9 92.7L27.8 91.7L27.8 90.7L27.8 89.7L27.8 88.6L27.9 87.5L27.9 86.4L28.0 85.3L28.0 84.2L28.1 83.0L28.2 81.9L28.3 80.7L28.5 79.6L28.6 78.4L28.8 77.2L29.0 76.1L29.2 75.0L29.4 73.8L29.6 72.7L29.9 71.6L30.2 70.5L30.5 69.5L30.8 68.4L31.2 67.4L31.5 66.4L31.9 65.5L32.4 64.5L32.8 63.6L33.3 62.8L33.8 62.0L34.3 61.2L34.9 60.5L35.5 59.9L36.1 59.3L36.7 58.7L37.4 58.2L38.1 57.8L38.9 57.4L39.6 57.1L40.4 56.8L41.2 56.7L42.1 56.6L43.0 56.6L43.8 56.6L44.8 56.8L45.7 57.0L46.7 57.3L47.7 57.7L48.7 58.2L49.7 58.8L50.7 59.5L51.8 60.3L52.9 61.2L53.9 62.2L52.9 62.7L53.7 61.7L54.6 60.7L55.5 59.9L56.3 59.0L57.2 58.2L58.1 57.5L59.0 56.8L60.0 56.1L60.9 55.5L61.8 55.0L62.7 54.4L63.6 54.0L64.6 53.5L65.5 53.1L66.5 52.8L67.4 52.5L68.3 52.2L69.3 52.0L70.2 51.8L71.2 51.7L72.1 51.6L73.0 51.5L74.0 51.5L74.9 51.5L75.8 51.5L76.7 51.6L77.7 51.7L78.6 51.9L79.5 52.1L80.4 52.3L81.3 52.6L82.1 52.9L83.0 53.2L83.9 53.6L84.7 54.0L85.6 54.4L86.4 54.8L87.2 55.3L88.0 55.8L88.8 56.4L89.6 57.0L90.4 57.6L91.1 58.2L91.9 58.8L92.6 59.5L93.3 60.2L94.0 60.9L94.7 61.7L95.4 62.4L96.1 63.2L96.8 64.0L97.4 64.8L98.1 65.6L98.7 66.5L99.3 67.4L99.9 68.2L100.5 69.1L101.0 70.0L101.6 71.0L102.1 71.9L102.7 72.8L103.2 73.8L103.7 74.7L104.2 75.7L104.6 76.7L105.1 77.7L105.5 78.6L106.0 79.6L106.4 80.6L106.8 81.6L107.2 82.6L107.5 83.6L107.9 84.6L108.2 85.6L108.5 86.6L108.8 87.6L109.1 88.6L109.4 89.6L109.7 90.5L109.9 91.5L110.1 92.5L110.3 93.4L110.5 94.4L110.7 95.3L110.9 96.3L111.0 97.2L111.1 98.1L111.2 99.0L111.2 102.5L28.2 102.5Z" fill="#ffa818"/>
<path d="M17.1 -4.3L17.3 -3.4L17.5 -2.5L17.6 -1.6L17.7 -0.8L17.8 0.1L17.7 0.9L17.7 1.8L17.6 2.6L17.4 3.4L17.2 4.2L17.0 5.0L16.7 5.7L16.4 6.4L16.1 7.2L15.7 7.9L15.3 8.5L14.8 9.2L14.3 9.8L13.8 10.4L13.3 11.0L12.7 11.5L12.1 12.0L11.5 12.5L10.8 12.9L10.1 13.3L9.4 13.7L8.7 14.1L8.0 14.4L7.2 14.6L6.4 14.9L5.7 15.1L4.8 15.2L4.0 15.3L3.2 15.4L2.4 15.4L1.5 15.4L0.7 15.3L-0.2 15.2L-1.0 15.0L-8.0 15.0L-8.0 -8.0L17.1 -8.0Z" fill="#ffa818"/>
<path d="M165.0 -4.3L165.9 -3.7L166.7 -3.1L167.6 -2.6L168.5 -2.0L169.4 -1.5L170.2 -1.0L171.1 -0.5L172.0 0.0L172.9 0.5L173.8 1.0L174.7 1.5L175.6 1.9L176.6 2.4L177.5 2.8L178.4 3.3L179.4 3.7L180.3 4.1L181.2 4.5L182.2 4.9L183.1 5.3L184.1 5.7L185.0 6.1L186.0 6.5L186.9 6.8L187.9 7.2L188.9 7.6L189.8 7.9L190.8 8.3L191.8 8.6L192.7 9.0L193.7 9.3L194.7 9.6L195.7 10.0L196.6 10.3L197.6 10.7L198.6 11.0L199.5 11.3L200.5 11.7L201.5 12.0L202.5 12.3L203.4 12.7L204.4 13.0L205.4 13.3L206.4 13.7L207.3 14.0L208.3 14.4L209.3 14.7L210.2 15.0L211.2 15.4L212.1 15.8L213.1 16.1L214.0 16.5L217.2 16.5L217.2 -8.0L165.0 -8.0Z" fill="#ffa818"/>
<path d="M32.2 98.7L31.8 97.6L31.5 96.5L31.3 95.4L31.2 94.3L31.2 93.2L31.3 92.1L31.5 91.0L31.7 89.9L32.0 88.9L32.4 87.9L32.8 86.9L33.3 85.9L33.8 85.0L34.4 84.2L35.1 83.3L35.7 82.5L36.4 81.8L37.2 81.1L37.9 80.5L38.7 80.0L39.5 79.5L40.4 79.1L41.2 78.8L42.0 78.6L42.8 78.4L43.7 78.4L44.5 78.4L45.3 78.6L46.1 78.8L46.8 79.2L47.6 79.7L48.3 80.3L48.9 81.0L49.5 81.8L50.1 82.8L50.7 83.9L51.1 85.1L51.6 86.5L51.9 88.0L51.7 88.2L51.7 86.9L51.8 85.6L51.9 84.4L52.1 83.2L52.3 82.1L52.5 80.9L52.8 79.8L53.1 78.7L53.5 77.7L53.9 76.7L54.3 75.7L54.8 74.7L55.3 73.8L55.8 72.9L56.4 72.0L57.0 71.2L57.6 70.4L58.2 69.6L58.9 68.8L59.6 68.1L60.3 67.4L61.1 66.8L61.8 66.2L62.6 65.6L63.4 65.0L64.2 64.5L65.1 64.0L65.9 63.5L66.8 63.1L67.7 62.7L68.6 62.4L69.5 62.0L70.4 61.8L71.3 61.5L72.2 61.3L73.2 61.1L74.1 61.0L75.0 60.8L76.0 60.8L76.9 60.7L77.9 60.7L78.8 60.7L79.8 60.8L80.7 60.9L81.7 61.0L82.6 61.2L83.5 61.4L84.4 61.7L85.3 62.0L86.2 62.3L87.1 62.7L88.0 63.1L88.9 63.5L89.7 64.0L90.6 64.5L91.4 65.0L92.2 65.6L93.0 66.2L93.8 66.8L94.6 67.4L95.3 68.1L96.1 68.8L96.8 69.6L97.5 70.3L98.2 71.1L98.9 71.9L99.5 72.7L100.1 73.6L100.8 74.5L101.3 75.3L101.9 76.2L102.5 77.2L103.0 78.1L103.5 79.0L104.0 80.0L104.5 81.0L104.9 81.9L105.3 82.9L105.7 83.9L106.1 84.9L106.5 86.0L106.8 87.0L107.1 88.0L107.3 89.0L107.6 90.1L107.8 91.1L108.0 92.1L108.2 93.2L108.3 94.2L108.4 95.2L108.5 96.3L108.5 97.3L108.5 98.3L108.5 99.3L108.5 102.5L32.2 102.5Z" fill="#ff4800"/>
<path d="M8.8 -4.2L9.0 -3.7L9.1 -3.2L9.2 -2.8L9.2 -2.3L9.2 -1.8L9.2 -1.4L9.2 -0.9L9.1 -0.5L9.0 -0.1L8.9 0.4L8.8 0.8L8.6 1.2L8.4 1.5L8.2 1.9L8.0 2.3L7.8 2.6L7.5 3.0L7.2 3.3L6.9 3.6L6.6 3.9L6.3 4.2L5.9 4.4L5.6 4.7L5.2 4.9L4.8 5.2L4.4 5.4L4.0 5.6L3.6 5.8L3.2 5.9L2.8 6.1L2.4 6.2L2.0 6.4L1.5 6.5L1.1 6.6L0.7 6.6L0.3 6.7L-0.2 6.8L-0.6 6.8L-1.0 6.8L-8.0 6.8L-8.0 -8.0L8.8 -8.0Z" fill="#ff4800"/>
<path d="M170.2 -4.3L171.0 -3.8L171.9 -3.3L172.8 -2.8L173.7 -2.3L174.6 -1.8L175.5 -1.3L176.4 -0.9L177.3 -0.4L178.3 0.0L179.2 0.5L180.1 0.9L181.1 1.3L182.0 1.7L183.0 2.1L183.9 2.4L184.9 2.8L185.9 3.2L186.8 3.5L187.8 3.8L188.8 4.1L189.8 4.4L190.8 4.7L191.8 5.0L192.7 5.2L193.7 5.5L194.7 5.7L195.7 5.9L196.8 6.1L197.8 6.3L198.8 6.5L199.8 6.7L200.8 6.8L201.8 7.0L202.8 7.1L203.9 7.2L204.9 7.3L205.9 7.4L206.9 7.4L207.9 7.5L209.0 7.5L210.0 7.5L211.0 7.5L212.0 7.5L213.1 7.5L214.1 7.5L217.2 7.5L217.2 -8.0L170.2 -8.0Z" fill="#ff4800"/>
<path d="M59.6 99.7L59.3 98.3L59.1 96.9L58.9 95.6L58.7 94.3L58.7 93.0L58.6 91.8L58.6 90.6L58.7 89.4L58.8 88.2L59.0 87.0L59.1 85.9L59.4 84.8L59.6 83.8L60.0 82.7L60.3 81.7L60.7 80.7L61.1 79.8L61.6 78.9L62.0 78.0L62.5 77.2L63.1 76.3L63.7 75.6L64.3 74.8L64.9 74.1L65.5 73.4L66.2 72.8L66.9 72.2L67.6 71.6L68.4 71.0L69.1 70.5L69.9 70.1L70.7 69.6L71.5 69.2L72.3 68.9L73.2 68.6L74.0 68.3L74.9 68.1L75.7 67.9L76.6 67.7L77.5 67.6L78.4 67.6L79.3 67.5L80.2 67.6L81.1 67.6L82.0 67.7L82.9 67.9L83.8 68.1L84.7 68.3L85.5 68.6L86.4 68.9L87.3 69.3L88.2 69.7L89.0 70.2L89.9 70.7L90.7 71.2L91.5 71.7L92.4 72.3L93.1 73.0L93.9 73.6L94.7 74.3L95.4 75.1L96.1 75.8L96.8 76.6L97.5 77.4L98.2 78.3L98.8 79.2L99.4 80.0L99.9 81.0L100.5 81.9L101.0 82.9L101.4 83.9L101.9 84.9L102.3 85.9L102.6 86.9L103.0 88.0L103.3 89.0L103.5 90.1L103.7 91.2L103.9 92.3L104.0 93.5L104.1 94.6L104.1 95.7L104.1 96.9L104.0 98.0L103.9 99.2L103.9 102.5L59.6 102.5Z" fill="#ff0000"/>
<path d="M68.7 98.9L68.5 97.5L68.4 96.1L68.4 94.8L68.4 93.6L68.6 92.4L68.8 91.3L69.1 90.3L69.5 89.3L69.9 88.4L70.4 87.5L71.0 86.7L71.6 85.9L72.2 85.3L73.0 84.6L73.7 84.1L74.5 83.5L75.3 83.1L76.2 82.7L77.1 82.4L78.0 82.1L78.9 81.9L79.9 81.7L80.8 81.6L81.8 81.5L82.8 81.5L83.8 81.6L84.7 81.7L85.7 81.9L86.7 82.1L87.6 82.4L88.6 82.7L89.5 83.1L90.4 83.6L91.2 84.0L92.0 84.6L92.8 85.2L93.6 85.8L94.3 86.5L94.9 87.3L95.6 88.1L96.1 89.0L96.6 89.9L97.0 90.8L97.4 91.8L97.7 92.9L97.9 94.0L98.0 95.2L98.1 96.4L98.1 97.6L98.0 99.0L98.0 102.5L68.7 102.5Z" fill="#8c0000"/>
</g>

<g transform="translate(273.80 216.25)" clip-path="url(#pc)">
<rect x="-5" y="-5" width="219.25" height="104.50" fill="#00008f"/>
<path d="M51.0 -3.0L51.6 -2.2L52.2 -1.5L52.8 -0.8L53.4 -0.1L54.1 0.6L54.7 1.2L55.4 1.9L56.1 2.5L56.8 3.2L57.5 3.8L58.3 4.4L59.0 5.0L59.8 5.6L60.5 6.2L61.3 6.8L62.1 7.4L62.9 7.9L63.7 8.5L64.5 9.1L65.3 9.6L66.2 10.2L67.0 10.7L67.8 11.3L68.7 11.8L69.5 12.3L70.4 12.9L71.2 13.4L72.1 14.0L72.9 14.5L73.8 15.1L74.6 15.6L75.5 16.2L76.4 16.7L77.2 17.3L78.1 17.8L78.9 18.4L79.8 19.0L80.6 19.5L81.5 20.1L82.3 20.7L83.2 21.3L84.0 21.8L84.8 22.4L85.7 23.0L86.5 23.6L87.3 24.2L88.1 24.8L89.0 25.4L89.8 26.1L90.6 26.7L91.4 27.3L92.2 27.9L92.9 28.6L93.7 29.2L94.5 29.9L95.3 30.6L96.0 31.2L96.8 31.9L97.5 32.6L98.2 33.3L98.9 34.0L99.7 34.7L100.4 35.4L101.1 36.1L101.7 36.9L102.4 37.6L103.1 38.4L103.7 39.1L104.4 39.9L105.0 40.7L105.6 41.5L106.2 42.3L106.8 43.1L107.4 43.9L107.9 44.8L108.5 45.6L109.0 46.4L109.6 47.3L110.1 48.1L110.6 49.0L111.1 49.9L111.6 50.8L112.0 51.7L112.5 52.6L112.9 53.5L113.4 54.4L113.8 55.3L114.2 56.2L114.6 57.2L115.0 58.1L115.4 59.0L115.7 60.0L116.1 61.0L116.4 61.9L116.8 62.9L117.1 63.8L117.4 64.8L117.7 65.8L118.0 66.8L118.2 67.8L118.5 68.7L118.7 69.7L119.0 70.7L119.2 71.7L119.4 72.7L119.6 73.7L119.8 74.7L120.0 75.7L120.1 76.7L120.3 77.8L120.4 78.8L120.6 79.8L120.7 80.8L120.8 81.8L120.9 82.8L120.9 83.9L121.0 84.9L121.1 85.9L121.1 86.9L121.2 87.9L121.2 88.9L121.2 90.0L121.2 91.0L121.2 92.0L121.2 93.0L121.1 94.0L121.1 95.0L121.0 96.0L121.0 97.0L120.9 98.0L120.8 99.0L60.0 102.5L10.8 98.8L10.0 91.4L8.2 81.3L4.4 67.3L0.2 54.6L-1.6 52.2L-8.0 -8.0Z" fill="#0010e8"/>
<path d="M143.1 -5.1L143.4 -4.0L143.8 -3.0L144.2 -2.0L144.6 -1.0L145.0 -0.1L145.5 0.9L145.9 1.8L146.5 2.7L147.0 3.5L147.5 4.4L148.1 5.2L148.7 6.0L149.3 6.8L149.9 7.5L150.6 8.3L151.3 9.0L152.0 9.7L152.7 10.4L153.4 11.0L154.1 11.7L154.9 12.3L155.6 13.0L156.4 13.6L157.2 14.2L158.0 14.8L158.8 15.3L159.7 15.9L160.5 16.5L161.3 17.0L162.2 17.5L163.1 18.1L163.9 18.6L164.8 19.1L165.7 19.6L166.6 20.1L167.5 20.6L168.4 21.1L169.3 21.6L170.2 22.1L171.1 22.5L172.1 23.0L173.0 23.5L173.9 24.0L174.8 24.4L175.7 24.9L176.6 25.4L177.5 25.8L178.5 26.3L179.4 26.8L180.3 27.3L181.2 27.8L182.1 28.3L183.0 28.8L183.8 29.3L184.7 29.8L185.6 30.3L186.5 30.8L187.3 31.3L188.2 31.8L189.1 32.4L189.9 32.9L190.8 33.4L191.6 34.0L192.4 34.6L193.2 35.1L194.1 35.7L194.9 36.3L195.7 36.9L196.5 37.5L197.3 38.1L198.0 38.7L198.8 39.3L199.6 40.0L200.3 40.6L201.0 41.3L201.8 42.0L202.5 42.7L203.2 43.4L203.9 44.1L204.6 44.8L205.3 45.5L206.0 46.3L206.6 47.0L207.3 47.8L207.9 48.6L208.5 49.4L209.1 50.2L209.7 51.1L210.3 51.9L210.9 52.8L211.5 53.7L212.0 54.6L212.6 55.5L213.1 56.4L213.6 57.4L214.1 58.3L217.2 58.3L217.2 -8.0L143.1 -8.0Z" fill="#0010e8"/>
<path d="M46.7 -3.3L47.1 -2.4L47.6 -1.5L48.1 -0.7L48.6 0.2L49.1 1.0L49.6 1.8L50.2 2.6L50.8 3.3L51.4 4.1L52.0 4.8L52.6 5.6L53.2 6.3L53.9 7.0L54.6 7.7L55.3 8.3L56.0 9.0L56.7 9.6L57.4 10.3L58.2 10.9L58.9 11.5L59.7 12.2L60.4 12.8L61.2 13.4L62.0 13.9L62.8 14.5L63.6 15.1L64.4 15.7L65.3 16.3L66.1 16.8L66.9 17.4L67.7 17.9L68.6 18.5L69.4 19.1L70.3 19.6L71.1 20.2L72.0 20.7L72.8 21.3L73.7 21.8L74.5 22.4L75.4 23.0L76.2 23.5L77.1 24.1L77.9 24.7L78.8 25.2L79.6 25.8L80.5 26.4L81.3 27.0L82.1 27.6L83.0 28.2L83.8 28.8L84.6 29.4L85.4 30.0L86.3 30.6L87.1 31.2L87.9 31.8L88.7 32.4L89.5 33.1L90.3 33.7L91.1 34.3L91.9 35.0L92.6 35.6L93.4 36.3L94.2 36.9L94.9 37.6L95.7 38.3L96.4 39.0L97.2 39.7L97.9 40.4L98.6 41.1L99.3 41.8L100.0 42.5L100.7 43.2L101.4 44.0L102.1 44.7L102.7 45.5L103.4 46.2L104.0 47.0L104.6 47.8L105.2 48.6L105.9 49.4L106.4 50.2L107.0 51.0L107.6 51.8L108.2 52.7L108.7 53.5L109.2 54.4L109.8 55.2L110.3 56.1L110.8 56.9L111.3 57.8L111.8 58.7L112.2 59.6L112.7 60.5L113.1 61.4L113.5 62.3L113.9 63.2L114.3 64.2L114.7 65.1L115.1 66.0L115.5 67.0L115.8 67.9L116.1 68.9L116.5 69.8L116.8 70.8L117.1 71.8L117.3 72.8L117.6 73.7L117.9 74.7L118.1 75.7L118.3 76.7L118.5 77.7L118.7 78.7L118.9 79.7L119.1 80.7L119.2 81.7L119.4 82.7L119.5 83.7L119.6 84.7L119.7 85.8L119.8 86.8L119.8 87.8L119.9 88.8L119.9 89.9L119.9 90.9L119.9 91.9L119.9 92.9L119.9 94.0L119.8 95.0L119.8 96.0L119.7 97.1L119.6 98.1L119.5 99.2L60.0 102.5L12.7 98.8L11.6 87.4L9.0 74.3L5.0 62.3L-1.6 49.6L-8.0 -8.0Z" fill="#0058ff"/>
<path d="M148.1 -4.9L148.5 -3.9L148.9 -2.9L149.3 -1.9L149.8 -1.0L150.3 -0.1L150.8 0.8L151.3 1.7L151.9 2.6L152.4 3.4L153.0 4.2L153.6 5.0L154.3 5.8L154.9 6.5L155.6 7.3L156.3 8.0L157.0 8.7L157.7 9.4L158.4 10.1L159.2 10.7L159.9 11.4L160.7 12.0L161.5 12.6L162.3 13.2L163.1 13.8L163.9 14.4L164.8 14.9L165.6 15.5L166.5 16.0L167.3 16.6L168.2 17.1L169.1 17.6L170.0 18.1L170.9 18.6L171.8 19.1L172.7 19.6L173.6 20.1L174.5 20.6L175.4 21.1L176.3 21.5L177.3 22.0L178.2 22.5L179.1 23.0L180.0 23.4L181.0 23.9L181.9 24.4L182.8 24.9L183.7 25.3L184.6 25.8L185.6 26.3L186.5 26.8L187.4 27.3L188.3 27.8L189.2 28.3L190.1 28.8L191.0 29.3L191.9 29.8L192.7 30.3L193.6 30.9L194.5 31.4L195.3 32.0L196.2 32.5L197.0 33.1L197.9 33.7L198.7 34.3L199.5 34.9L200.3 35.5L201.1 36.1L201.9 36.7L202.7 37.4L203.4 38.0L204.2 38.7L204.9 39.4L205.6 40.1L206.3 40.8L207.0 41.6L207.7 42.3L208.4 43.1L209.0 43.9L209.6 44.7L210.2 45.5L210.8 46.4L211.4 47.3L212.0 48.2L212.5 49.1L213.0 50.0L213.5 51.0L214.0 51.9L217.2 51.9L217.2 -8.0L148.1 -8.0Z" fill="#0058ff"/>
<path d="M41.6 -3.4L41.9 -2.4L42.2 -1.4L42.5 -0.4L42.8 0.5L43.2 1.5L43.5 2.4L43.9 3.3L44.4 4.2L44.8 5.0L45.3 5.9L45.8 6.7L46.3 7.5L46.8 8.3L47.4 9.1L47.9 9.9L48.5 10.6L49.1 11.3L49.7 12.1L50.4 12.8L51.0 13.4L51.7 14.1L52.4 14.8L53.1 15.4L53.8 16.1L54.5 16.7L55.2 17.3L56.0 17.9L56.7 18.5L57.5 19.1L58.3 19.7L59.1 20.3L59.9 20.8L60.7 21.4L61.5 21.9L62.4 22.5L63.2 23.0L64.0 23.6L64.9 24.1L65.8 24.6L66.6 25.1L67.5 25.6L68.4 26.2L69.2 26.7L70.1 27.2L71.0 27.7L71.9 28.2L72.8 28.7L73.7 29.2L74.6 29.7L75.5 30.2L76.4 30.7L77.3 31.2L78.1 31.7L79.0 32.3L79.9 32.8L80.8 33.3L81.7 33.8L82.6 34.3L83.5 34.9L84.3 35.4L85.2 36.0L86.1 36.5L86.9 37.1L87.8 37.7L88.6 38.2L89.4 38.8L90.3 39.4L91.1 40.0L91.9 40.6L92.7 41.3L93.5 41.9L94.3 42.5L95.0 43.2L95.8 43.9L96.5 44.5L97.3 45.2L98.0 45.9L98.7 46.6L99.4 47.4L100.1 48.1L100.8 48.8L101.5 49.6L102.1 50.4L102.8 51.1L103.4 51.9L104.0 52.7L104.6 53.5L105.2 54.3L105.8 55.1L106.4 55.9L107.0 56.8L107.5 57.6L108.1 58.5L108.6 59.3L109.1 60.2L109.6 61.0L110.1 61.9L110.6 62.8L111.0 63.7L111.5 64.6L111.9 65.5L112.3 66.4L112.7 67.3L113.1 68.3L113.5 69.2L113.9 70.1L114.2 71.1L114.6 72.0L114.9 73.0L115.2 73.9L115.5 74.9L115.8 75.9L116.1 76.8L116.3 77.8L116.6 78.8L116.8 79.8L117.0 80.8L117.2 81.8L117.4 82.8L117.6 83.8L117.7 84.8L117.9 85.8L118.0 86.8L118.1 87.8L118.2 88.8L118.3 89.9L118.4 90.9L118.4 91.9L118.4 92.9L118.5 94.0L118.5 95.0L118.5 96.0L118.4 97.1L118.4 98.1L118.3 99.1L60.0 102.5L14.7 98.8L13.7 83.4L11.0 67.3L6.4 53.6L-1.6 44.4L-8.0 -8.0Z" fill="#00a8ff"/>
<path d="M151.6 -4.9L152.1 -3.9L152.5 -3.0L153.0 -2.0L153.5 -1.1L154.0 -0.2L154.5 0.6L155.1 1.5L155.7 2.3L156.3 3.1L157.0 3.8L157.6 4.6L158.3 5.3L159.0 6.0L159.7 6.7L160.5 7.3L161.2 8.0L162.0 8.6L162.8 9.2L163.6 9.8L164.4 10.4L165.2 10.9L166.1 11.5L166.9 12.0L167.8 12.5L168.6 13.1L169.5 13.6L170.4 14.1L171.3 14.5L172.2 15.0L173.1 15.5L174.0 16.0L175.0 16.4L175.9 16.9L176.8 17.3L177.7 17.8L178.7 18.2L179.6 18.7L180.5 19.1L181.5 19.6L182.4 20.0L183.3 20.5L184.2 20.9L185.2 21.4L186.1 21.9L187.0 22.3L187.9 22.8L188.8 23.3L189.7 23.8L190.6 24.2L191.5 24.7L192.4 25.2L193.2 25.8L194.1 26.3L195.0 26.8L195.8 27.3L196.7 27.9L197.5 28.4L198.3 29.0L199.2 29.6L200.0 30.2L200.8 30.8L201.5 31.4L202.3 32.0L203.1 32.7L203.8 33.3L204.6 34.0L205.3 34.7L206.0 35.4L206.7 36.1L207.4 36.8L208.1 37.6L208.8 38.4L209.4 39.2L210.1 40.0L210.7 40.8L211.3 41.6L211.9 42.5L212.4 43.4L213.0 44.3L213.5 45.2L214.1 46.2L217.2 46.2L217.2 -8.0L151.6 -8.0Z" fill="#00a8ff"/>
<path d="M36.5 -3.9L36.5 -2.7L36.6 -1.5L36.7 -0.3L36.8 0.8L37.0 1.9L37.2 3.0L37.4 4.0L37.7 5.1L38.0 6.1L38.3 7.0L38.6 8.0L39.0 8.9L39.4 9.8L39.8 10.7L40.2 11.5L40.7 12.3L41.2 13.1L41.7 13.9L42.2 14.7L42.8 15.4L43.4 16.2L44.0 16.9L44.6 17.5L45.2 18.2L45.9 18.9L46.6 19.5L47.2 20.1L48.0 20.7L48.7 21.3L49.4 21.9L50.2 22.5L50.9 23.0L51.7 23.5L52.5 24.1L53.3 24.6L54.2 25.1L55.0 25.6L55.8 26.1L56.7 26.5L57.5 27.0L58.4 27.5L59.3 27.9L60.2 28.4L61.1 28.8L62.0 29.3L62.9 29.7L63.8 30.1L64.7 30.6L65.7 31.0L66.6 31.4L67.5 31.9L68.4 32.3L69.4 32.7L70.3 33.1L71.3 33.6L72.2 34.0L73.1 34.4L74.1 34.9L75.0 35.3L75.9 35.8L76.8 36.2L77.8 36.7L78.7 37.2L79.6 37.6L80.5 38.1L81.4 38.6L82.3 39.1L83.2 39.6L84.1 40.1L85.0 40.7L85.8 41.2L86.7 41.8L87.5 42.3L88.4 42.9L89.2 43.5L90.0 44.1L90.8 44.7L91.6 45.3L92.4 45.9L93.2 46.6L94.0 47.2L94.7 47.9L95.5 48.5L96.2 49.2L96.9 49.9L97.7 50.6L98.4 51.3L99.1 52.0L99.7 52.8L100.4 53.5L101.1 54.2L101.7 55.0L102.4 55.8L103.0 56.5L103.6 57.3L104.2 58.1L104.8 58.9L105.4 59.7L106.0 60.6L106.5 61.4L107.1 62.2L107.6 63.1L108.1 63.9L108.6 64.8L109.1 65.6L109.6 66.5L110.0 67.4L110.5 68.3L110.9 69.2L111.3 70.1L111.7 71.0L112.1 71.9L112.5 72.9L112.9 73.8L113.2 74.8L113.6 75.7L113.9 76.7L114.2 77.6L114.5 78.6L114.8 79.6L115.0 80.6L115.3 81.6L115.5 82.6L115.7 83.6L115.9 84.6L116.1 85.6L116.3 86.6L116.4 87.7L116.6 88.7L116.7 89.7L116.8 90.8L116.9 91.8L116.9 92.9L117.0 94.0L117.0 95.0L117.0 96.1L117.0 97.2L117.0 98.3L117.0 99.4L60.0 102.5L16.5 98.8L15.3 75.3L12.1 55.2L6.6 44.2L-1.6 39.2L-8.0 -8.0Z" fill="#20fbde"/>
<path d="M155.0 -4.9L155.5 -3.9L156.1 -3.0L156.6 -2.1L157.2 -1.3L157.8 -0.4L158.4 0.4L159.0 1.2L159.7 1.9L160.3 2.7L161.0 3.4L161.7 4.1L162.5 4.8L163.2 5.4L164.0 6.1L164.8 6.7L165.5 7.3L166.3 7.9L167.2 8.4L168.0 9.0L168.8 9.5L169.7 10.1L170.6 10.6L171.4 11.1L172.3 11.6L173.2 12.1L174.1 12.5L175.0 13.0L175.9 13.5L176.9 13.9L177.8 14.4L178.7 14.8L179.6 15.3L180.6 15.7L181.5 16.1L182.5 16.6L183.4 17.0L184.3 17.4L185.3 17.8L186.2 18.3L187.2 18.7L188.1 19.1L189.0 19.6L190.0 20.0L190.9 20.5L191.8 20.9L192.7 21.4L193.6 21.9L194.5 22.3L195.4 22.8L196.3 23.3L197.2 23.8L198.0 24.4L198.9 24.9L199.7 25.4L200.6 26.0L201.4 26.6L202.2 27.1L203.0 27.7L203.8 28.4L204.6 29.0L205.3 29.6L206.1 30.3L206.8 31.0L207.5 31.7L208.2 32.5L208.9 33.2L209.5 34.0L210.2 34.8L210.8 35.6L211.4 36.4L212.0 37.3L212.5 38.2L213.1 39.1L213.6 40.1L214.1 41.1L217.2 41.1L217.2 -8.0L155.0 -8.0Z" fill="#20fbde"/>
<path d="M158.1 -4.9L158.7 -4.0L159.3 -3.1L159.9 -2.3L160.6 -1.5L161.3 -0.8L162.0 -0.0L162.7 0.7L163.4 1.4L164.2 2.1L164.9 2.7L165.7 3.4L166.5 4.0L167.3 4.6L168.1 5.2L169.0 5.7L169.8 6.3L170.7 6.8L171.5 7.4L172.4 7.9L173.3 8.4L174.2 8.9L175.1 9.3L176.0 9.8L176.9 10.3L177.9 10.7L178.8 11.1L179.7 11.6L180.7 12.0L181.6 12.4L182.5 12.9L183.5 13.3L184.4 13.7L185.4 14.1L186.3 14.5L187.3 14.9L188.2 15.4L189.2 15.8L190.1 16.2L191.1 16.6L192.0 17.1L193.0 17.5L193.9 17.9L194.8 18.4L195.8 18.8L196.7 19.3L197.6 19.8L198.5 20.3L199.4 20.8L200.3 21.3L201.2 21.8L202.0 22.3L202.9 22.9L203.7 23.4L204.6 24.0L205.4 24.6L206.2 25.2L207.0 25.9L207.8 26.5L208.6 27.2L209.3 27.9L210.1 28.6L210.8 29.3L211.5 30.1L212.2 30.9L212.8 31.7L213.5 32.5L214.1 33.4L217.2 33.4L217.2 -8.0L158.1 -8.0Z" fill="#30ff60"/>
<path d="M32.5 -4.2L32.4 -3.2L32.3 -2.2L32.3 -1.2L32.2 -0.1L32.2 0.9L32.2 2.0L32.3 3.0L32.3 4.1L32.4 5.1L32.6 6.2L32.7 7.2L32.9 8.2L33.1 9.3L33.3 10.3L33.6 11.3L33.9 12.3L34.2 13.3L34.5 14.3L34.9 15.3L35.3 16.3L35.7 17.3L36.1 18.2L36.6 19.1L37.1 20.1L37.6 21.0L38.2 21.8L38.7 22.7L39.3 23.6L39.9 24.4L40.6 25.2L41.3 26.0L42.0 26.7L42.7 27.5L43.4 28.2L44.2 28.9L45.0 29.5L45.8 30.2L46.7 30.8L47.5 31.3L48.4 31.9L49.3 32.4L50.3 32.9L51.3 33.3L52.3 33.7L53.3 34.1L53.2 33.9L54.2 34.0L55.2 34.1L56.2 34.2L57.2 34.4L58.2 34.5L59.2 34.7L60.2 34.9L61.2 35.1L62.2 35.3L63.2 35.6L64.2 35.8L65.2 36.1L66.2 36.4L67.1 36.7L68.1 37.0L69.1 37.3L70.0 37.7L71.0 38.0L71.9 38.4L72.8 38.8L73.8 39.2L74.7 39.6L75.6 40.0L76.5 40.5L77.4 40.9L78.3 41.4L79.2 41.8L80.1 42.3L81.0 42.8L81.9 43.3L82.7 43.9L83.6 44.4L84.4 45.0L85.3 45.5L86.1 46.1L86.9 46.7L87.7 47.3L88.6 47.9L89.4 48.5L90.1 49.1L90.9 49.8L91.7 50.4L92.5 51.1L93.2 51.7L94.0 52.4L94.7 53.1L95.4 53.8L96.1 54.5L96.8 55.3L97.5 56.0L98.2 56.7L98.9 57.5L99.5 58.3L100.2 59.0L100.8 59.8L101.5 60.6L102.1 61.4L102.7 62.2L103.3 63.0L103.9 63.8L104.4 64.7L105.0 65.5L105.5 66.4L106.1 67.2L106.6 68.1L107.1 69.0L107.6 69.8L108.1 70.7L108.5 71.6L109.0 72.5L109.4 73.4L109.9 74.3L110.3 75.3L110.7 76.2L111.1 77.1L111.4 78.1L111.8 79.0L112.1 80.0L112.5 80.9L112.8 81.9L113.1 82.9L113.4 83.9L113.6 84.8L113.9 85.8L114.1 86.8L114.3 87.8L114.5 88.8L114.7 89.8L114.9 90.9L115.1 91.9L115.2 92.9L115.3 93.9L115.4 95.0L115.5 96.0L115.6 97.0L115.6 98.1L115.7 99.1L60.0 102.5L18.9 98.2L18.1 75.1L16.7 55.0L13.5 42.9L7.4 35.9L-1.6 31.5L-8.0 -8.0Z" fill="#30ff60"/>
<path d="M162.0 -4.9L162.7 -4.1L163.4 -3.4L164.1 -2.6L164.9 -1.9L165.6 -1.2L166.4 -0.6L167.2 0.1L168.0 0.7L168.8 1.3L169.6 1.9L170.5 2.5L171.3 3.1L172.2 3.6L173.1 4.1L173.9 4.7L174.8 5.2L175.7 5.7L176.6 6.1L177.5 6.6L178.4 7.1L179.3 7.5L180.3 8.0L181.2 8.4L182.1 8.8L183.1 9.3L184.0 9.7L184.9 10.1L185.9 10.5L186.8 10.9L187.8 11.3L188.7 11.7L189.7 12.1L190.7 12.5L191.6 12.9L192.6 13.3L193.5 13.7L194.5 14.1L195.4 14.5L196.4 14.9L197.3 15.4L198.3 15.8L199.2 16.2L200.1 16.6L201.1 17.1L202.0 17.5L202.9 18.0L203.8 18.4L204.7 18.9L205.6 19.4L206.5 19.9L207.4 20.4L208.3 20.9L209.2 21.5L210.0 22.0L210.9 22.6L211.7 23.2L212.6 23.8L213.4 24.4L214.2 25.0L217.2 25.0L217.2 -8.0L162.0 -8.0Z" fill="#fbff10"/>
<path d="M24.7 -4.3L24.5 -3.3L24.3 -2.2L24.2 -1.2L24.1 -0.2L23.9 0.9L23.9 1.9L23.8 3.0L23.7 4.0L23.7 5.1L23.7 6.1L23.7 7.2L23.7 8.2L23.8 9.3L23.8 10.3L23.9 11.4L24.0 12.4L24.1 13.4L24.3 14.5L24.4 15.5L24.6 16.5L24.8 17.5L25.1 18.5L25.3 19.5L25.6 20.5L25.9 21.5L26.2 22.5L26.5 23.5L26.9 24.4L27.2 25.4L27.6 26.3L28.0 27.2L28.5 28.1L28.9 29.0L29.4 29.9L29.9 30.8L30.4 31.6L31.0 32.5L31.5 33.3L32.1 34.1L32.7 34.9L33.4 35.6L34.0 36.4L34.7 37.1L35.4 37.8L36.1 38.5L36.9 39.2L37.7 39.8L38.4 40.5L39.3 41.1L40.1 41.6L41.0 42.2L41.8 42.7L42.8 43.2L43.7 43.7L44.6 44.2L45.6 44.6L46.6 45.0L47.7 45.4L48.7 45.7L49.8 46.0L50.9 46.3L52.0 46.6L53.2 46.8L52.3 46.4L53.4 46.0L54.5 45.7L55.5 45.5L56.6 45.2L57.6 45.0L58.7 44.8L59.7 44.7L60.7 44.6L61.7 44.5L62.8 44.5L63.8 44.4L64.8 44.5L65.8 44.5L66.7 44.6L67.7 44.7L68.7 44.8L69.7 44.9L70.6 45.1L71.6 45.3L72.5 45.5L73.5 45.8L74.4 46.1L75.3 46.4L76.2 46.7L77.1 47.1L78.0 47.4L78.9 47.8L79.8 48.3L80.6 48.7L81.5 49.2L82.4 49.7L83.2 50.2L84.0 50.7L84.9 51.2L85.7 51.8L86.5 52.4L87.3 53.0L88.1 53.6L88.9 54.2L89.6 54.9L90.4 55.5L91.1 56.2L91.9 56.9L92.6 57.6L93.3 58.4L94.1 59.1L94.8 59.9L95.4 60.6L96.1 61.4L96.8 62.2L97.4 63.0L98.1 63.8L98.7 64.7L99.4 65.5L100.0 66.4L100.6 67.2L101.2 68.1L101.7 69.0L102.3 69.9L102.9 70.7L103.4 71.6L103.9 72.6L104.5 73.5L105.0 74.4L105.5 75.3L105.9 76.2L106.4 77.2L106.9 78.1L107.3 79.1L107.8 80.0L108.2 80.9L108.6 81.9L109.0 82.8L109.4 83.8L109.7 84.8L110.1 85.7L110.4 86.7L110.8 87.6L111.1 88.6L111.4 89.5L111.7 90.5L111.9 91.4L112.2 92.4L112.4 93.3L112.7 94.2L112.9 95.2L113.1 96.1L113.3 97.0L113.4 97.9L113.6 98.9L60.0 102.5L22.1 98.2L21.5 75.1L20.7 55.0L19.1 42.9L15.5 33.9L7.4 26.9L-1.6 22.5L-8.0 -8.0Z" fill="#fbff10"/>
<path d="M16.5 -4.0L16.7 -3.1L16.9 -2.2L17.1 -1.3L17.2 -0.5L17.2 0.4L17.2 1.2L17.2 2.1L17.1 2.9L16.9 3.6L16.7 4.4L16.5 5.2L16.2 5.9L15.9 6.6L15.5 7.3L15.1 8.0L14.7 8.6L14.2 9.2L13.7 9.8L13.2 10.4L12.6 10.9L12.0 11.4L11.4 11.9L10.8 12.3L10.1 12.7L9.4 13.1L8.7 13.5L8.0 13.8L7.3 14.1L6.5 14.3L5.7 14.5L4.9 14.7L4.1 14.8L3.3 14.9L2.5 15.0L1.7 15.0L0.9 15.0L0.0 14.9L-0.8 14.8L-1.6 14.6L-8.0 14.6L-8.0 -8.0L16.5 -8.0Z" fill="#ffa818"/>
<path d="M165.2 -4.3L166.1 -3.7L166.9 -3.1L167.8 -2.6L168.7 -2.0L169.6 -1.5L170.4 -1.0L171.3 -0.5L172.2 0.0L173.1 0.5L174.0 1.0L174.9 1.5L175.8 1.9L176.8 2.4L177.7 2.8L178.6 3.3L179.6 3.7L180.5 4.1L181.4 4.5L182.4 4.9L183.3 5.3L184.3 5.7L185.2 6.1L186.2 6.5L187.1 6.8L188.1 7.2L189.1 7.6L190.0 7.9L191.0 8.3L192.0 8.6L192.9 9.0L193.9 9.3L194.9 9.6L195.9 10.0L196.8 10.3L197.8 10.7L198.8 11.0L199.7 11.3L200.7 11.7L201.7 12.0L202.7 12.3L203.6 12.7L204.6 13.0L205.6 13.3L206.6 13.7L207.5 14.0L208.5 14.4L209.5 14.7L210.4 15.0L211.4 15.4L212.3 15.8L213.3 16.1L214.2 16.5L217.2 16.5L217.2 -8.0L165.2 -8.0Z" fill="#ffa818"/>
<path d="M29.2 98.1L29.2 97.4L29.1 96.6L29.0 95.8L29.0 95.0L28.9 94.1L28.9 93.1L28.8 92.2L28.8 91.2L28.8 90.1L28.8 89.1L28.8 88.0L28.8 86.9L28.9 85.8L28.9 84.7L29.0 83.5L29.1 82.4L29.2 81.2L29.3 80.0L29.4 78.9L29.6 77.7L29.7 76.5L29.9 75.4L30.1 74.2L30.3 73.1L30.6 72.0L30.8 70.9L31.1 69.8L31.4 68.7L31.8 67.7L32.1 66.7L32.5 65.7L32.9 64.7L33.3 63.8L33.8 63.0L34.3 62.1L34.8 61.3L35.3 60.6L35.9 59.9L36.5 59.2L37.1 58.7L37.7 58.1L38.4 57.6L39.1 57.2L39.9 56.9L40.7 56.6L41.5 56.4L42.3 56.3L43.2 56.2L44.1 56.2L45.0 56.3L46.0 56.5L47.0 56.8L48.0 57.1L49.0 57.6L50.1 58.1L51.2 58.7L52.3 59.5L53.5 60.3L54.7 61.3L53.7 61.7L54.6 60.8L55.5 59.8L56.4 59.0L57.3 58.2L58.2 57.4L59.1 56.7L60.1 56.1L61.0 55.4L61.9 54.9L62.9 54.3L63.8 53.9L64.8 53.4L65.7 53.0L66.6 52.7L67.6 52.4L68.5 52.1L69.5 51.9L70.4 51.7L71.4 51.6L72.3 51.5L73.2 51.4L74.2 51.4L75.1 51.4L76.0 51.5L76.9 51.6L77.8 51.7L78.7 51.9L79.6 52.1L80.5 52.3L81.4 52.6L82.3 52.9L83.1 53.2L84.0 53.6L84.8 54.0L85.7 54.4L86.5 54.9L87.3 55.4L88.1 55.9L88.9 56.5L89.7 57.0L90.4 57.6L91.2 58.3L91.9 58.9L92.7 59.6L93.4 60.3L94.1 61.0L94.8 61.8L95.5 62.5L96.1 63.3L96.8 64.1L97.5 64.9L98.1 65.7L98.7 66.6L99.3 67.5L99.9 68.3L100.5 69.2L101.1 70.1L101.6 71.0L102.2 72.0L102.7 72.9L103.2 73.9L103.7 74.8L104.2 75.8L104.7 76.7L105.1 77.7L105.6 78.7L106.0 79.7L106.4 80.7L106.8 81.7L107.2 82.7L107.5 83.7L107.9 84.6L108.2 85.6L108.6 86.6L108.9 87.6L109.1 88.6L109.4 89.6L109.7 90.6L109.9 91.5L110.1 92.5L110.3 93.4L110.5 94.4L110.7 95.3L110.9 96.3L111.0 97.2L111.1 98.1L111.2 99.0L111.2 102.5L29.2 102.5Z" fill="#ffa818"/>
<path d="M8.4 -4.0L8.6 -3.5L8.8 -3.0L8.9 -2.5L8.9 -2.0L9.0 -1.5L9.0 -1.1L8.9 -0.6L8.9 -0.2L8.8 0.3L8.7 0.7L8.5 1.1L8.4 1.5L8.2 1.9L8.0 2.3L7.7 2.6L7.5 3.0L7.2 3.3L6.9 3.6L6.6 3.9L6.3 4.2L5.9 4.5L5.6 4.8L5.2 5.0L4.8 5.2L4.4 5.4L4.0 5.6L3.6 5.8L3.2 6.0L2.8 6.1L2.3 6.3L1.9 6.4L1.4 6.5L1.0 6.6L0.6 6.6L0.1 6.7L-0.3 6.7L-0.7 6.7L-1.2 6.7L-1.6 6.6L-8.0 6.6L-8.0 -8.0L8.4 -8.0Z" fill="#ff4800"/>
<path d="M170.4 -4.3L171.2 -3.8L172.1 -3.3L173.0 -2.8L173.9 -2.3L174.8 -1.8L175.7 -1.3L176.6 -0.9L177.5 -0.4L178.5 0.0L179.4 0.5L180.3 0.9L181.3 1.3L182.2 1.7L183.2 2.1L184.1 2.4L185.1 2.8L186.1 3.2L187.0 3.5L188.0 3.8L189.0 4.1L190.0 4.4L191.0 4.7L192.0 5.0L192.9 5.2L193.9 5.5L194.9 5.7L195.9 5.9L197.0 6.1L198.0 6.3L199.0 6.5L200.0 6.7L201.0 6.8L202.0 7.0L203.0 7.1L204.1 7.2L205.1 7.3L206.1 7.4L207.1 7.4L208.1 7.5L209.2 7.5L210.2 7.5L211.2 7.5L212.2 7.5L213.3 7.5L214.3 7.5L217.2 7.5L217.2 -8.0L170.4 -8.0Z" fill="#ff4800"/>
<path d="M33.6 98.3L33.2 97.1L32.9 95.9L32.6 94.8L32.5 93.6L32.4 92.5L32.5 91.4L32.6 90.3L32.8 89.2L33.0 88.2L33.3 87.1L33.7 86.2L34.1 85.2L34.6 84.3L35.1 83.5L35.7 82.7L36.3 81.9L37.0 81.2L37.7 80.6L38.4 80.0L39.2 79.5L40.0 79.0L40.8 78.7L41.6 78.4L42.4 78.2L43.2 78.0L44.1 78.0L44.9 78.0L45.8 78.1L46.6 78.4L47.4 78.7L48.2 79.1L49.0 79.7L49.8 80.3L50.5 81.1L51.2 82.0L51.9 83.0L52.6 84.1L53.2 85.4L53.7 86.8L53.5 87.0L53.6 85.7L53.6 84.4L53.7 83.2L53.9 82.0L54.1 80.8L54.3 79.6L54.6 78.5L54.9 77.4L55.3 76.4L55.7 75.3L56.1 74.4L56.6 73.4L57.1 72.5L57.6 71.6L58.2 70.7L58.8 69.9L59.4 69.1L60.0 68.4L60.7 67.6L61.4 67.0L62.1 66.3L62.9 65.7L63.7 65.1L64.5 64.5L65.3 64.0L66.1 63.6L66.9 63.1L67.8 62.7L68.7 62.3L69.6 62.0L70.5 61.7L71.4 61.4L72.3 61.2L73.2 61.0L74.1 60.9L75.1 60.7L76.0 60.7L77.0 60.6L77.9 60.6L78.8 60.6L79.8 60.7L80.7 60.8L81.7 60.9L82.6 61.1L83.5 61.3L84.4 61.6L85.3 61.9L86.2 62.2L87.1 62.6L88.0 63.0L88.9 63.4L89.7 63.9L90.6 64.4L91.4 65.0L92.2 65.6L93.0 66.2L93.8 66.8L94.6 67.5L95.3 68.2L96.1 68.9L96.8 69.6L97.5 70.4L98.2 71.2L98.9 72.0L99.5 72.8L100.1 73.7L100.8 74.5L101.4 75.4L101.9 76.3L102.5 77.3L103.0 78.2L103.5 79.1L104.0 80.1L104.5 81.1L104.9 82.1L105.4 83.0L105.8 84.0L106.1 85.1L106.5 86.1L106.8 87.1L107.1 88.1L107.4 89.1L107.6 90.1L107.8 91.2L108.0 92.2L108.2 93.2L108.3 94.2L108.4 95.2L108.5 96.3L108.5 97.3L108.5 98.3L108.5 99.2L108.5 102.5L33.6 102.5Z" fill="#ff4800"/>
<path d="M59.6 99.4L59.3 98.0L59.0 96.5L58.8 95.2L58.7 93.8L58.6 92.5L58.6 91.3L58.7 90.0L58.8 88.8L58.9 87.7L59.1 86.5L59.3 85.4L59.6 84.4L59.9 83.4L60.3 82.4L60.7 81.4L61.1 80.5L61.6 79.7L62.1 78.8L62.6 78.0L63.2 77.3L63.8 76.5L64.5 75.8L65.1 75.2L65.8 74.6L66.6 74.0L67.3 73.5L68.1 72.9L68.9 72.5L69.7 72.0L70.5 71.7L71.4 71.3L72.2 71.0L73.1 70.7L74.0 70.5L74.9 70.2L75.8 70.1L76.7 69.9L77.6 69.9L78.6 69.8L79.5 69.8L80.5 69.8L81.4 69.9L82.3 70.0L83.3 70.1L84.2 70.3L85.1 70.5L86.0 70.7L87.0 71.0L87.9 71.4L88.8 71.7L89.6 72.1L90.5 72.6L91.4 73.0L92.2 73.6L93.0 74.1L93.8 74.7L94.6 75.3L95.4 75.9L96.1 76.6L96.8 77.3L97.5 78.1L98.1 78.9L98.8 79.7L99.4 80.5L100.0 81.4L100.5 82.3L101.0 83.3L101.5 84.2L101.9 85.2L102.3 86.3L102.6 87.3L103.0 88.4L103.2 89.5L103.4 90.7L103.6 91.8L103.8 93.0L103.9 94.2L103.9 95.5L103.9 96.8L103.8 98.1L103.7 99.4L103.7 102.5L59.6 102.5Z" fill="#ff0000"/>
<path d="M70.1 98.8L69.8 97.3L69.7 95.9L69.6 94.6L69.6 93.3L69.8 92.1L70.0 91.0L70.2 90.0L70.6 89.0L71.0 88.1L71.5 87.2L72.1 86.4L72.7 85.7L73.4 85.0L74.1 84.4L74.8 83.9L75.6 83.4L76.5 83.0L77.4 82.7L78.3 82.4L79.2 82.2L80.1 82.0L81.1 81.9L82.1 81.8L83.1 81.9L84.0 81.9L85.0 82.1L86.0 82.2L87.0 82.5L87.9 82.8L88.9 83.2L89.8 83.6L90.7 84.0L91.6 84.6L92.4 85.1L93.2 85.8L93.9 86.5L94.6 87.2L95.3 88.0L95.8 88.9L96.4 89.8L96.8 90.7L97.2 91.7L97.6 92.8L97.8 93.9L98.0 95.0L98.1 96.2L98.1 97.5L98.0 98.8L98.0 102.5L70.1 102.5Z" fill="#8c0000"/>
</g>

<g transform="translate(35.00 383.00)" clip-path="url(#pc)">
<rect x="-5" y="-5" width="219.25" height="104.50" fill="#00008f"/>
<path d="M53.5 -3.4L53.7 -2.3L54.0 -1.4L54.2 -0.4L54.5 0.5L54.9 1.5L55.2 2.3L55.6 3.2L56.0 4.1L56.5 4.9L56.9 5.7L57.4 6.5L57.9 7.3L58.4 8.0L59.0 8.8L59.6 9.5L60.2 10.2L60.8 10.9L61.4 11.6L62.1 12.2L62.7 12.9L63.4 13.5L64.1 14.2L64.9 14.8L65.6 15.4L66.3 16.0L67.1 16.6L67.9 17.1L68.7 17.7L69.5 18.3L70.3 18.8L71.1 19.4L71.9 19.9L72.8 20.4L73.6 21.0L74.5 21.5L75.4 22.0L76.2 22.5L77.1 23.0L78.0 23.5L78.9 24.1L79.7 24.6L80.6 25.1L81.5 25.6L82.4 26.1L83.3 26.6L84.2 27.1L85.1 27.7L86.0 28.2L86.9 28.7L87.8 29.2L88.6 29.8L89.5 30.3L90.4 30.9L91.3 31.4L92.1 32.0L93.0 32.6L93.8 33.2L94.7 33.7L95.5 34.3L96.4 34.9L97.2 35.5L98.0 36.1L98.8 36.8L99.6 37.4L100.4 38.0L101.2 38.7L102.0 39.3L102.8 40.0L103.6 40.6L104.3 41.3L105.1 42.0L105.8 42.6L106.6 43.3L107.3 44.0L108.0 44.7L108.7 45.4L109.5 46.1L110.2 46.8L110.8 47.6L111.5 48.3L112.2 49.0L112.9 49.8L113.5 50.5L114.1 51.3L114.8 52.1L115.4 52.8L116.0 53.6L116.6 54.4L117.2 55.2L117.8 56.0L118.3 56.8L118.9 57.6L119.4 58.4L120.0 59.3L120.5 60.1L121.0 61.0L121.5 61.8L122.0 62.7L122.4 63.5L122.9 64.4L123.3 65.3L123.8 66.1L124.2 67.0L124.6 67.9L125.0 68.8L125.4 69.7L125.7 70.7L126.1 71.6L126.4 72.5L126.8 73.5L127.1 74.4L127.4 75.4L127.6 76.3L127.9 77.3L128.2 78.2L128.4 79.2L128.6 80.2L128.8 81.2L129.0 82.2L129.2 83.2L129.3 84.2L129.5 85.2L129.6 86.3L129.7 87.3L129.8 88.4L129.9 89.4L129.9 90.5L130.0 91.5L130.0 92.6L130.0 93.7L130.0 94.8L129.9 95.8L129.9 96.9L129.8 98.0L129.7 99.2L60.0 102.5L19.0 99.0L18.9 98.0L18.8 97.0L18.6 96.1L18.5 95.1L18.3 94.1L18.2 93.1L18.0 92.1L17.9 91.1L17.7 90.1L17.5 89.1L17.4 88.0L17.2 87.0L17.0 86.0L16.8 85.0L16.6 83.9L16.4 82.9L16.2 81.9L16.0 80.9L15.7 79.8L15.5 78.8L15.2 77.8L15.0 76.8L14.7 75.8L14.4 74.8L14.1 73.8L13.8 72.8L13.4 71.8L13.1 70.8L12.7 69.9L12.3 68.9L12.0 68.0L11.5 67.0L11.1 66.1L10.7 65.2L10.2 64.3L9.7 63.4L9.2 62.5L8.7 61.7L8.1 60.8L7.5 60.0L7.0 59.2L6.3 58.4L5.7 57.6L5.0 56.9L4.4 56.1L3.6 55.4L2.9 54.7L2.1 54.0L1.3 53.4L0.5 52.7L-0.3 52.1L-1.2 51.6L-2.1 51.0L-3.0 50.5L-8.0 -8.0Z" fill="#0010e8"/>
<path d="M149.8 -6.5L150.0 -5.4L150.1 -4.3L150.3 -3.2L150.5 -2.2L150.7 -1.1L151.0 -0.1L151.3 0.9L151.6 1.8L152.0 2.8L152.3 3.8L152.7 4.7L153.2 5.6L153.6 6.5L154.1 7.4L154.5 8.3L155.0 9.1L155.6 10.0L156.1 10.8L156.7 11.6L157.3 12.5L157.9 13.2L158.5 14.0L159.1 14.8L159.8 15.5L160.5 16.3L161.1 17.0L161.8 17.7L162.5 18.4L163.3 19.1L164.0 19.8L164.8 20.5L165.5 21.2L166.3 21.8L167.1 22.5L167.9 23.1L168.7 23.7L169.5 24.3L170.3 24.9L171.2 25.5L172.0 26.1L172.8 26.7L173.7 27.3L174.5 27.8L175.4 28.4L176.3 28.9L177.1 29.5L178.0 30.0L178.9 30.6L179.7 31.1L180.6 31.6L181.5 32.1L182.4 32.6L183.3 33.1L184.1 33.6L185.0 34.1L185.9 34.6L186.8 35.1L187.7 35.7L188.5 36.2L189.4 36.7L190.3 37.2L191.2 37.7L192.0 38.2L192.9 38.7L193.8 39.2L194.6 39.7L195.5 40.3L196.4 40.8L197.2 41.4L198.1 41.9L198.9 42.5L199.7 43.0L200.5 43.6L201.4 44.2L202.2 44.8L203.0 45.4L203.8 46.0L204.6 46.6L205.4 47.3L206.1 47.9L206.9 48.6L207.7 49.3L208.4 50.0L209.1 50.7L209.9 51.4L210.6 52.1L211.3 52.9L212.0 53.7L212.6 54.5L213.3 55.3L214.0 56.1L214.6 57.0L217.2 57.0L217.2 -8.0L149.8 -8.0Z" fill="#0010e8"/>
<path d="M50.0 -3.5L50.0 -2.4L50.1 -1.3L50.2 -0.2L50.4 0.9L50.6 1.9L50.8 2.9L51.1 3.9L51.4 4.9L51.7 5.8L52.0 6.7L52.4 7.6L52.8 8.4L53.2 9.3L53.7 10.1L54.2 10.9L54.7 11.7L55.2 12.4L55.7 13.1L56.3 13.9L56.9 14.6L57.5 15.2L58.2 15.9L58.8 16.5L59.5 17.2L60.2 17.8L60.9 18.4L61.6 19.0L62.4 19.6L63.1 20.1L63.9 20.7L64.7 21.2L65.5 21.8L66.3 22.3L67.2 22.8L68.0 23.3L68.8 23.8L69.7 24.3L70.6 24.8L71.5 25.3L72.3 25.7L73.2 26.2L74.1 26.7L75.0 27.1L75.9 27.6L76.9 28.1L77.8 28.5L78.7 29.0L79.6 29.5L80.5 29.9L81.5 30.4L82.4 30.9L83.3 31.4L84.2 31.8L85.2 32.3L86.1 32.8L87.0 33.3L87.9 33.8L88.8 34.3L89.7 34.8L90.6 35.3L91.5 35.9L92.4 36.4L93.2 37.0L94.1 37.5L95.0 38.1L95.8 38.7L96.7 39.2L97.5 39.8L98.3 40.4L99.1 41.0L100.0 41.6L100.8 42.3L101.6 42.9L102.4 43.5L103.1 44.2L103.9 44.8L104.7 45.5L105.4 46.2L106.2 46.8L106.9 47.5L107.7 48.2L108.4 48.9L109.1 49.6L109.8 50.4L110.5 51.1L111.2 51.8L111.9 52.6L112.5 53.3L113.2 54.1L113.8 54.8L114.4 55.6L115.1 56.4L115.7 57.2L116.3 58.0L116.9 58.8L117.5 59.6L118.0 60.4L118.6 61.2L119.1 62.0L119.7 62.9L120.2 63.7L120.7 64.6L121.2 65.5L121.7 66.3L122.1 67.2L122.6 68.1L123.0 69.0L123.5 69.9L123.9 70.8L124.3 71.7L124.7 72.6L125.1 73.6L125.4 74.5L125.8 75.5L126.1 76.4L126.5 77.4L126.8 78.3L127.1 79.3L127.3 80.3L127.6 81.3L127.9 82.3L128.1 83.3L128.3 84.3L128.5 85.3L128.7 86.4L128.9 87.4L129.1 88.4L129.2 89.5L129.4 90.5L129.5 91.6L129.6 92.7L129.7 93.8L129.7 94.8L129.8 95.9L129.8 97.0L129.8 98.1L129.8 99.3L60.0 102.5L22.2 98.9L22.1 98.0L22.0 97.0L21.9 96.1L21.8 95.1L21.7 94.1L21.5 93.1L21.4 92.1L21.3 91.1L21.2 90.1L21.0 89.1L20.9 88.0L20.7 87.0L20.6 86.0L20.4 84.9L20.2 83.9L20.1 82.8L19.9 81.8L19.7 80.7L19.5 79.7L19.2 78.7L19.0 77.6L18.8 76.6L18.5 75.5L18.2 74.5L18.0 73.5L17.7 72.5L17.3 71.5L17.0 70.5L16.7 69.5L16.3 68.5L15.9 67.6L15.5 66.6L15.1 65.7L14.7 64.7L14.2 63.8L13.7 62.9L13.2 62.1L12.7 61.2L12.2 60.4L11.6 59.5L11.0 58.7L10.4 58.0L9.8 57.2L9.1 56.5L8.4 55.8L7.7 55.1L6.9 54.4L6.2 53.8L5.4 53.2L4.6 52.6L3.7 52.0L2.8 51.5L1.9 51.0L1.0 50.5L-0.0 50.1L-1.0 49.7L-2.1 49.4L-3.2 49.0L-8.0 -8.0Z" fill="#0058ff"/>
<path d="M152.8 -6.6L153.0 -5.5L153.3 -4.3L153.5 -3.2L153.8 -2.2L154.1 -1.1L154.4 -0.1L154.7 0.9L155.1 1.9L155.5 2.9L155.9 3.8L156.4 4.7L156.8 5.6L157.3 6.5L157.8 7.4L158.3 8.2L158.9 9.1L159.4 9.9L160.0 10.7L160.6 11.4L161.2 12.2L161.9 13.0L162.5 13.7L163.2 14.4L163.9 15.1L164.6 15.8L165.3 16.5L166.0 17.2L166.8 17.8L167.5 18.4L168.3 19.1L169.1 19.7L169.8 20.3L170.6 20.9L171.5 21.5L172.3 22.1L173.1 22.7L173.9 23.2L174.8 23.8L175.6 24.3L176.5 24.9L177.4 25.4L178.2 25.9L179.1 26.5L180.0 27.0L180.9 27.5L181.8 28.0L182.7 28.5L183.6 29.1L184.5 29.6L185.4 30.1L186.3 30.6L187.2 31.1L188.1 31.6L189.0 32.1L189.9 32.6L190.8 33.1L191.7 33.6L192.6 34.1L193.5 34.6L194.4 35.2L195.2 35.7L196.1 36.2L197.0 36.8L197.9 37.3L198.7 37.8L199.6 38.4L200.4 38.9L201.3 39.5L202.1 40.1L202.9 40.7L203.8 41.3L204.6 41.9L205.4 42.5L206.1 43.1L206.9 43.7L207.7 44.4L208.4 45.1L209.2 45.7L209.9 46.4L210.6 47.1L211.3 47.8L212.0 48.6L212.7 49.3L213.3 50.1L213.9 50.8L214.6 51.6L217.2 51.6L217.2 -8.0L152.8 -8.0Z" fill="#0058ff"/>
<path d="M46.8 -4.5L46.6 -3.1L46.4 -1.8L46.3 -0.5L46.2 0.7L46.1 2.0L46.1 3.2L46.1 4.3L46.2 5.5L46.3 6.6L46.4 7.7L46.6 8.7L46.8 9.7L47.1 10.7L47.4 11.6L47.7 12.6L48.0 13.5L48.4 14.3L48.8 15.2L49.3 16.0L49.8 16.8L50.3 17.6L50.8 18.3L51.4 19.0L52.0 19.7L52.6 20.4L53.2 21.0L53.9 21.6L54.6 22.2L55.3 22.8L56.0 23.3L56.8 23.9L57.6 24.4L58.4 24.8L59.2 25.3L60.0 25.8L60.8 26.2L61.7 26.6L62.6 27.0L63.5 27.4L64.4 27.8L65.3 28.2L66.2 28.6L67.1 29.0L68.1 29.3L69.0 29.7L70.0 30.0L70.9 30.4L71.9 30.8L72.8 31.1L73.8 31.5L74.7 31.9L75.7 32.2L76.6 32.6L77.6 33.0L78.5 33.4L79.4 33.8L80.4 34.2L81.3 34.7L82.2 35.1L83.2 35.5L84.1 36.0L85.0 36.5L85.9 36.9L86.8 37.4L87.7 37.9L88.6 38.4L89.4 38.9L90.3 39.4L91.2 40.0L92.0 40.5L92.9 41.0L93.8 41.6L94.6 42.1L95.4 42.7L96.3 43.3L97.1 43.9L97.9 44.5L98.7 45.1L99.5 45.7L100.3 46.3L101.1 46.9L101.9 47.5L102.6 48.2L103.4 48.8L104.1 49.5L104.9 50.2L105.6 50.9L106.4 51.5L107.1 52.2L107.8 52.9L108.5 53.6L109.2 54.4L109.8 55.1L110.5 55.8L111.2 56.6L111.8 57.3L112.5 58.1L113.1 58.8L113.7 59.6L114.3 60.4L114.9 61.2L115.5 62.0L116.1 62.8L116.7 63.6L117.2 64.4L117.8 65.3L118.3 66.1L118.8 67.0L119.3 67.8L119.8 68.7L120.3 69.5L120.8 70.4L121.3 71.3L121.7 72.2L122.1 73.1L122.6 74.0L123.0 74.9L123.4 75.9L123.8 76.8L124.1 77.7L124.5 78.7L124.8 79.6L125.2 80.6L125.5 81.6L125.8 82.5L126.1 83.5L126.4 84.5L126.6 85.5L126.9 86.5L127.1 87.5L127.3 88.6L127.5 89.6L127.7 90.6L127.9 91.7L128.0 92.7L128.2 93.8L128.3 94.9L128.4 95.9L128.5 97.0L128.6 98.1L128.6 99.2L60.0 102.5L24.7 98.9L24.7 98.0L24.6 97.0L24.6 96.1L24.5 95.1L24.4 94.1L24.4 93.1L24.3 92.1L24.2 91.1L24.1 90.1L24.0 89.1L23.9 88.1L23.8 87.0L23.7 86.0L23.6 85.0L23.5 83.9L23.3 82.9L23.2 81.8L23.0 80.8L22.8 79.7L22.7 78.7L22.5 77.6L22.3 76.6L22.0 75.6L21.8 74.5L21.6 73.5L21.3 72.5L21.0 71.5L20.7 70.4L20.4 69.4L20.1 68.4L19.8 67.5L19.4 66.5L19.1 65.5L18.7 64.6L18.3 63.6L17.9 62.7L17.4 61.8L17.0 60.9L16.5 60.0L16.0 59.2L15.5 58.3L14.9 57.5L14.4 56.7L13.8 55.9L13.2 55.1L12.5 54.4L11.9 53.6L11.2 52.9L10.5 52.2L9.8 51.6L9.0 50.9L8.3 50.3L7.5 49.8L6.6 49.2L5.8 48.7L4.9 48.2L4.0 47.7L3.0 47.3L2.0 46.9L1.0 46.5L0.0 46.2L-1.1 45.8L-2.1 45.6L-3.3 45.3L-8.0 -8.0Z" fill="#00a8ff"/>
<path d="M155.9 -6.5L156.1 -5.4L156.4 -4.3L156.7 -3.2L157.0 -2.2L157.3 -1.1L157.7 -0.1L158.1 0.8L158.5 1.8L158.9 2.7L159.4 3.6L159.8 4.5L160.3 5.4L160.9 6.2L161.4 7.1L162.0 7.9L162.6 8.7L163.2 9.5L163.8 10.2L164.4 11.0L165.1 11.7L165.8 12.4L166.5 13.1L167.2 13.8L167.9 14.4L168.6 15.1L169.4 15.7L170.1 16.4L170.9 17.0L171.7 17.6L172.5 18.2L173.3 18.8L174.1 19.4L175.0 19.9L175.8 20.5L176.7 21.0L177.5 21.6L178.4 22.1L179.3 22.7L180.2 23.2L181.0 23.7L181.9 24.2L182.8 24.7L183.7 25.2L184.6 25.7L185.5 26.2L186.5 26.8L187.4 27.3L188.3 27.8L189.2 28.3L190.1 28.8L191.0 29.3L191.9 29.8L192.8 30.3L193.7 30.8L194.6 31.3L195.5 31.8L196.4 32.3L197.3 32.8L198.2 33.4L199.1 33.9L200.0 34.4L200.8 35.0L201.7 35.5L202.5 36.1L203.4 36.7L204.2 37.2L205.0 37.8L205.8 38.4L206.6 39.0L207.4 39.7L208.2 40.3L209.0 40.9L209.7 41.6L210.4 42.3L211.2 43.0L211.9 43.7L212.5 44.4L213.2 45.1L213.9 45.8L214.5 46.6L217.2 46.6L217.2 -8.0L155.9 -8.0Z" fill="#00a8ff"/>
<path d="M42.5 -4.6L42.2 -3.4L42.0 -2.1L41.9 -0.9L41.8 0.3L41.7 1.5L41.6 2.7L41.6 3.8L41.6 5.0L41.6 6.1L41.6 7.2L41.7 8.3L41.8 9.4L42.0 10.4L42.2 11.4L42.4 12.5L42.6 13.5L42.8 14.4L43.1 15.4L43.4 16.3L43.8 17.3L44.1 18.2L44.5 19.0L45.0 19.9L45.4 20.7L45.9 21.5L46.3 22.3L46.9 23.1L47.4 23.9L48.0 24.6L48.6 25.3L49.2 26.0L49.8 26.6L50.4 27.3L51.1 27.9L51.8 28.5L52.5 29.0L53.3 29.6L54.0 30.1L54.8 30.6L55.6 31.0L56.5 31.5L57.3 31.9L58.2 32.3L59.0 32.6L59.9 33.0L60.8 33.3L61.7 33.6L62.7 33.9L63.6 34.2L64.6 34.5L65.5 34.8L66.5 35.1L67.5 35.3L68.4 35.6L69.4 35.8L70.4 36.1L71.4 36.3L72.4 36.6L73.4 36.8L74.4 37.1L75.4 37.3L76.4 37.6L77.4 37.9L78.3 38.2L79.3 38.5L80.3 38.8L81.2 39.2L82.2 39.5L83.1 39.9L84.1 40.2L85.0 40.6L85.9 41.0L86.9 41.4L87.8 41.9L88.7 42.3L89.6 42.7L90.5 43.2L91.4 43.7L92.2 44.2L93.1 44.7L94.0 45.2L94.8 45.7L95.6 46.2L96.5 46.8L97.3 47.3L98.1 47.9L98.9 48.5L99.7 49.1L100.5 49.7L101.3 50.3L102.1 50.9L102.8 51.6L103.6 52.2L104.3 52.9L105.1 53.5L105.8 54.2L106.5 54.9L107.2 55.6L107.9 56.3L108.6 57.0L109.2 57.7L109.9 58.5L110.6 59.2L111.2 60.0L111.8 60.8L112.5 61.5L113.1 62.3L113.7 63.1L114.2 63.9L114.8 64.7L115.4 65.6L115.9 66.4L116.5 67.2L117.0 68.1L117.5 68.9L118.0 69.8L118.5 70.7L119.0 71.5L119.5 72.4L119.9 73.3L120.4 74.2L120.8 75.2L121.2 76.1L121.6 77.0L122.0 77.9L122.4 78.9L122.7 79.8L123.1 80.8L123.4 81.8L123.8 82.7L124.1 83.7L124.4 84.7L124.7 85.7L124.9 86.7L125.2 87.7L125.4 88.7L125.6 89.7L125.9 90.8L126.0 91.8L126.2 92.8L126.4 93.9L126.5 94.9L126.7 96.0L126.8 97.1L126.9 98.1L127.0 99.2L60.0 102.5L27.3 98.9L27.2 98.0L27.2 97.1L27.1 96.2L27.0 95.2L26.9 94.3L26.9 93.3L26.8 92.3L26.7 91.3L26.7 90.3L26.6 89.3L26.5 88.3L26.5 87.3L26.4 86.2L26.3 85.2L26.2 84.2L26.1 83.1L26.0 82.1L25.9 81.0L25.8 79.9L25.7 78.9L25.6 77.8L25.5 76.8L25.3 75.7L25.2 74.6L25.0 73.6L24.8 72.5L24.6 71.5L24.4 70.5L24.2 69.4L24.0 68.4L23.8 67.4L23.5 66.3L23.2 65.3L22.9 64.3L22.6 63.4L22.3 62.4L22.0 61.4L21.6 60.5L21.2 59.5L20.8 58.6L20.4 57.7L19.9 56.8L19.5 55.9L19.0 55.1L18.5 54.2L17.9 53.4L17.4 52.6L16.8 51.8L16.2 51.0L15.5 50.3L14.9 49.6L14.2 48.9L13.4 48.2L12.7 47.6L11.9 47.0L11.1 46.4L10.3 45.8L9.4 45.2L8.5 44.7L7.6 44.2L6.7 43.8L5.8 43.3L4.9 42.9L3.9 42.5L2.9 42.1L1.9 41.8L0.9 41.5L-0.1 41.2L-1.1 40.9L-2.1 40.7L-3.1 40.5L-8.0 -8.0Z" fill="#20fbde"/>
<path d="M158.8 -6.4L159.1 -5.3L159.4 -4.2L159.7 -3.2L160.1 -2.2L160.4 -1.1L160.9 -0.2L161.3 0.8L161.7 1.7L162.2 2.6L162.7 3.5L163.3 4.4L163.8 5.2L164.4 6.0L165.0 6.8L165.6 7.6L166.2 8.3L166.9 9.1L167.6 9.8L168.3 10.5L169.0 11.2L169.7 11.8L170.5 12.5L171.2 13.1L172.0 13.8L172.8 14.4L173.6 15.0L174.4 15.6L175.2 16.1L176.1 16.7L176.9 17.3L177.8 17.8L178.7 18.3L179.5 18.9L180.4 19.4L181.3 19.9L182.2 20.4L183.1 20.9L184.0 21.4L184.9 21.9L185.9 22.4L186.8 22.9L187.7 23.4L188.6 23.9L189.5 24.4L190.5 24.9L191.4 25.4L192.3 25.9L193.2 26.4L194.1 26.9L195.0 27.4L195.9 27.9L196.8 28.4L197.7 29.0L198.6 29.5L199.5 30.0L200.4 30.6L201.2 31.1L202.1 31.7L202.9 32.3L203.8 32.9L204.6 33.5L205.4 34.1L206.2 34.7L207.0 35.3L207.8 36.0L208.5 36.6L209.3 37.3L210.0 38.0L210.7 38.7L211.4 39.5L212.0 40.2L212.7 41.0L213.3 41.8L213.9 42.6L214.5 43.4L217.2 43.4L217.2 -8.0L158.8 -8.0Z" fill="#20fbde"/>
<path d="M37.2 -4.0L37.1 -3.0L37.1 -2.0L37.1 -1.0L37.1 0.0L37.1 1.0L37.1 2.0L37.2 3.1L37.2 4.1L37.3 5.1L37.3 6.2L37.4 7.2L37.5 8.2L37.6 9.3L37.7 10.3L37.8 11.4L37.9 12.4L38.1 13.4L38.2 14.5L38.4 15.5L38.6 16.5L38.8 17.6L39.0 18.6L39.3 19.6L39.6 20.6L39.8 21.6L40.1 22.6L40.5 23.6L40.8 24.5L41.1 25.5L41.5 26.5L41.9 27.4L42.3 28.3L42.8 29.2L43.3 30.1L43.8 31.0L44.3 31.9L44.8 32.8L45.4 33.6L46.0 34.4L46.6 35.2L47.2 36.0L47.9 36.8L48.6 37.6L49.3 38.3L50.0 39.0L50.8 39.7L51.6 40.4L52.5 41.0L53.3 41.6L54.2 42.2L54.0 42.4L55.1 42.2L56.1 42.0L57.2 41.8L58.2 41.6L59.3 41.4L60.3 41.3L61.4 41.2L62.4 41.1L63.4 41.0L64.5 41.0L65.5 40.9L66.5 40.9L67.5 40.9L68.5 41.0L69.6 41.0L70.6 41.1L71.6 41.2L72.6 41.3L73.6 41.5L74.5 41.6L75.5 41.8L76.5 42.0L77.5 42.2L78.4 42.5L79.4 42.7L80.4 43.0L81.3 43.3L82.3 43.6L83.2 43.9L84.1 44.2L85.1 44.6L86.0 45.0L86.9 45.4L87.8 45.8L88.7 46.2L89.6 46.6L90.5 47.1L91.4 47.6L92.2 48.1L93.1 48.6L94.0 49.1L94.8 49.6L95.7 50.2L96.5 50.7L97.3 51.3L98.1 51.9L98.9 52.5L99.7 53.1L100.5 53.7L101.3 54.4L102.1 55.0L102.8 55.7L103.6 56.4L104.3 57.1L105.0 57.8L105.8 58.5L106.5 59.2L107.2 59.9L107.9 60.7L108.5 61.4L109.2 62.2L109.9 63.0L110.5 63.8L111.1 64.6L111.8 65.4L112.4 66.2L113.0 67.0L113.6 67.8L114.1 68.7L114.7 69.5L115.3 70.4L115.8 71.3L116.3 72.1L116.8 73.0L117.3 73.9L117.8 74.8L118.3 75.7L118.7 76.6L119.2 77.5L119.6 78.5L120.0 79.4L120.4 80.3L120.8 81.3L121.2 82.2L121.6 83.2L121.9 84.1L122.3 85.1L122.6 86.0L122.9 87.0L123.2 88.0L123.4 88.9L123.7 89.9L123.9 90.9L124.1 91.9L124.4 92.9L124.5 93.9L124.7 94.8L124.9 95.8L125.0 96.8L125.2 97.8L125.3 98.8L60.0 102.5L30.6 98.9L30.5 98.0L30.4 97.0L30.4 96.1L30.3 95.1L30.3 94.1L30.2 93.1L30.2 92.1L30.1 91.1L30.1 90.1L30.0 89.1L30.0 88.1L29.9 87.1L29.9 86.0L29.8 85.0L29.8 83.9L29.7 82.9L29.7 81.8L29.6 80.8L29.5 79.7L29.5 78.7L29.4 77.6L29.3 76.5L29.2 75.5L29.1 74.4L29.0 73.4L28.8 72.3L28.7 71.3L28.5 70.2L28.4 69.2L28.2 68.2L28.0 67.1L27.8 66.1L27.6 65.1L27.4 64.1L27.1 63.1L26.8 62.1L26.6 61.1L26.3 60.1L25.9 59.2L25.6 58.2L25.2 57.3L24.9 56.3L24.4 55.4L24.0 54.5L23.6 53.6L23.1 52.8L22.6 51.9L22.1 51.1L21.5 50.3L21.0 49.5L20.4 48.7L19.7 47.9L19.1 47.2L18.4 46.4L17.7 45.7L17.0 45.0L16.2 44.4L15.4 43.7L14.6 43.1L13.8 42.5L13.0 41.9L12.1 41.3L11.3 40.8L10.4 40.2L9.5 39.7L8.6 39.2L7.6 38.8L6.7 38.3L5.8 37.9L4.8 37.5L3.8 37.1L2.9 36.7L1.9 36.4L0.9 36.1L-0.1 35.8L-1.1 35.5L-2.1 35.2L-3.1 35.0L-8.0 -8.0Z" fill="#30ff60"/>
<path d="M161.7 -6.4L162.0 -5.3L162.3 -4.2L162.7 -3.2L163.1 -2.2L163.5 -1.3L164.0 -0.3L164.4 0.6L165.0 1.5L165.5 2.3L166.0 3.2L166.6 4.0L167.2 4.8L167.9 5.5L168.5 6.3L169.2 7.0L169.9 7.7L170.6 8.4L171.3 9.1L172.0 9.7L172.8 10.4L173.6 11.0L174.3 11.6L175.2 12.2L176.0 12.8L176.8 13.3L177.6 13.9L178.5 14.4L179.3 15.0L180.2 15.5L181.1 16.0L182.0 16.5L182.9 17.0L183.8 17.5L184.7 18.0L185.6 18.5L186.5 19.0L187.4 19.5L188.4 20.0L189.3 20.4L190.2 20.9L191.1 21.4L192.0 21.9L193.0 22.4L193.9 22.8L194.8 23.3L195.7 23.8L196.6 24.3L197.5 24.8L198.4 25.3L199.3 25.9L200.2 26.4L201.1 26.9L202.0 27.5L202.8 28.0L203.7 28.6L204.5 29.2L205.3 29.7L206.1 30.4L206.9 31.0L207.7 31.6L208.5 32.3L209.2 32.9L209.9 33.6L210.7 34.3L211.4 35.0L212.0 35.8L212.7 36.5L213.3 37.3L213.9 38.1L214.5 39.0L217.2 39.0L217.2 -8.0L161.7 -8.0Z" fill="#30ff60"/>
<path d="M35.1 98.6L35.2 98.0L35.2 97.3L35.3 96.5L35.3 95.7L35.3 94.8L35.3 94.0L35.3 93.0L35.3 92.0L35.3 91.0L35.3 90.0L35.3 88.9L35.3 87.8L35.3 86.7L35.3 85.5L35.2 84.4L35.2 83.2L35.2 82.0L35.3 80.8L35.3 79.6L35.3 78.4L35.3 77.2L35.4 76.0L35.4 74.8L35.5 73.6L35.6 72.4L35.7 71.3L35.9 70.1L36.0 69.0L36.2 67.9L36.4 66.8L36.6 65.8L36.9 64.8L37.1 63.8L37.4 62.9L37.8 62.0L38.1 61.1L38.5 60.3L38.9 59.5L39.4 58.8L39.9 58.2L40.4 57.6L41.0 57.1L41.6 56.7L42.2 56.4L42.9 56.2L43.6 56.0L44.4 56.0L45.2 56.2L46.0 56.4L46.9 56.8L47.8 57.3L48.8 58.0L49.8 58.9L49.4 60.5L50.3 59.7L51.2 58.9L52.1 58.1L53.0 57.3L53.9 56.6L54.8 55.9L55.8 55.3L56.7 54.7L57.6 54.1L58.6 53.6L59.5 53.1L60.5 52.6L61.4 52.1L62.4 51.7L63.3 51.3L64.3 51.0L65.3 50.7L66.2 50.4L67.2 50.1L68.2 49.9L69.1 49.7L70.1 49.5L71.1 49.3L72.1 49.2L73.0 49.1L74.0 49.1L75.0 49.0L75.9 49.0L76.9 49.0L77.9 49.1L78.8 49.2L79.8 49.2L80.8 49.4L81.7 49.5L82.7 49.7L83.6 49.9L84.6 50.1L85.5 50.3L86.4 50.6L87.4 50.9L88.3 51.2L89.2 51.5L90.1 51.9L91.0 52.2L91.9 52.6L92.8 53.1L93.7 53.5L94.6 53.9L95.5 54.4L96.3 54.9L97.2 55.4L98.0 56.0L98.9 56.5L99.7 57.1L100.5 57.7L101.3 58.3L102.1 58.9L102.9 59.5L103.7 60.2L104.5 60.9L105.2 61.6L106.0 62.3L106.7 63.0L107.4 63.7L108.1 64.4L108.8 65.2L109.5 66.0L110.2 66.8L110.8 67.6L111.5 68.4L112.1 69.2L112.7 70.0L113.3 70.9L113.9 71.7L114.4 72.6L115.0 73.5L115.5 74.4L116.0 75.3L116.5 76.2L117.0 77.1L117.5 78.1L117.9 79.0L118.3 79.9L118.7 80.9L119.1 81.9L119.5 82.8L119.9 83.8L120.2 84.8L120.5 85.8L120.8 86.8L121.1 87.8L121.3 88.8L121.5 89.8L121.8 90.8L121.9 91.8L122.1 92.8L122.2 93.9L122.4 94.9L122.5 95.9L122.5 97.0L122.6 98.0L122.6 99.0L122.6 102.5L35.1 102.5Z" fill="#fbff10"/>
<path d="M32.1 -4.0L32.1 -3.0L32.0 -2.1L31.9 -1.1L31.9 -0.1L31.9 0.9L31.8 1.9L31.8 2.9L31.8 4.0L31.8 5.0L31.7 6.0L31.7 7.1L31.7 8.2L31.7 9.2L31.6 10.3L31.6 11.4L31.5 12.4L31.5 13.5L31.4 14.5L31.3 15.6L31.2 16.6L31.0 17.7L30.9 18.7L30.7 19.7L30.5 20.8L30.3 21.8L30.0 22.8L29.7 23.7L29.4 24.7L29.1 25.6L28.7 26.6L28.3 27.5L27.8 28.4L27.3 29.2L26.8 30.1L26.2 30.9L25.6 31.7L24.9 32.5L24.2 33.2L23.4 33.9L22.6 34.6L22.5 34.6L21.9 34.6L21.2 34.7L20.6 34.7L20.0 34.7L19.4 34.7L18.8 34.7L18.1 34.7L17.5 34.7L16.9 34.7L16.3 34.7L15.7 34.6L15.1 34.6L14.4 34.5L13.8 34.4L13.2 34.3L12.6 34.2L12.0 34.1L11.4 34.0L10.8 33.9L10.2 33.8L9.6 33.7L9.0 33.5L8.4 33.4L7.8 33.2L7.2 33.1L6.6 32.9L6.0 32.8L5.4 32.6L4.8 32.4L4.2 32.2L3.6 32.0L3.0 31.8L2.5 31.6L1.9 31.4L1.3 31.2L0.7 31.0L0.1 30.8L-0.4 30.6L-1.0 30.3L-8.0 30.3L-8.0 -8.0L32.1 -8.0Z" fill="#fbff10"/>
<path d="M164.2 -6.3L164.6 -5.2L165.0 -4.2L165.5 -3.3L166.0 -2.3L166.5 -1.4L167.0 -0.5L167.5 0.3L168.1 1.2L168.7 2.0L169.3 2.7L170.0 3.5L170.6 4.2L171.3 5.0L172.0 5.7L172.7 6.3L173.5 7.0L174.2 7.6L175.0 8.3L175.8 8.9L176.6 9.5L177.4 10.0L178.3 10.6L179.1 11.2L180.0 11.7L180.8 12.2L181.7 12.7L182.6 13.3L183.5 13.8L184.4 14.2L185.3 14.7L186.2 15.2L187.1 15.7L188.1 16.2L189.0 16.6L189.9 17.1L190.9 17.6L191.8 18.0L192.7 18.5L193.7 18.9L194.6 19.4L195.5 19.9L196.4 20.3L197.4 20.8L198.3 21.3L199.2 21.8L200.1 22.3L201.0 22.8L201.9 23.3L202.8 23.8L203.7 24.3L204.5 24.9L205.4 25.4L206.3 26.0L207.1 26.6L207.9 27.2L208.7 27.8L209.5 28.4L210.3 29.0L211.0 29.7L211.8 30.4L212.5 31.1L213.2 31.8L213.9 32.5L214.6 33.3L217.2 33.3L217.2 -8.0L164.2 -8.0Z" fill="#fbff10"/>
<path d="M42.2 98.9L41.8 98.0L41.5 97.1L41.2 96.2L41.1 95.3L41.0 94.4L41.0 93.5L41.0 92.6L41.1 91.8L41.3 90.9L41.5 90.1L41.8 89.3L42.1 88.5L42.4 87.7L42.9 87.0L43.3 86.3L43.8 85.7L44.3 85.0L44.9 84.5L45.4 84.0L46.0 83.5L46.7 83.1L47.3 82.7L48.0 82.4L48.6 82.2L49.3 82.0L50.0 81.9L50.7 81.9L51.4 82.0L52.1 82.1L52.7 82.3L53.4 82.6L54.0 83.0L54.7 83.5L55.3 84.1L55.9 84.8L56.4 85.6L57.0 86.5L57.5 87.5L58.0 88.6L58.2 89.3L58.2 88.1L58.3 86.8L58.4 85.6L58.5 84.4L58.6 83.2L58.8 82.0L59.0 80.9L59.3 79.7L59.6 78.6L59.9 77.5L60.2 76.4L60.6 75.4L61.0 74.3L61.4 73.3L61.9 72.3L62.4 71.3L62.9 70.4L63.4 69.4L63.9 68.5L64.5 67.6L65.1 66.8L65.7 65.9L66.4 65.1L67.0 64.4L67.7 63.6L68.4 62.9L69.1 62.2L69.8 61.5L70.5 60.9L71.3 60.2L72.1 59.7L72.8 59.1L73.6 58.6L74.4 58.1L75.3 57.7L76.1 57.2L76.9 56.9L77.8 56.5L78.6 56.2L79.5 55.9L80.3 55.7L81.2 55.5L82.0 55.3L82.9 55.2L83.8 55.1L84.7 55.0L85.6 55.0L86.4 55.0L87.3 55.1L88.2 55.2L89.1 55.3L89.9 55.5L90.8 55.7L91.7 55.9L92.5 56.2L93.4 56.5L94.3 56.9L95.1 57.2L96.0 57.6L96.8 58.1L97.6 58.5L98.5 59.0L99.3 59.5L100.1 60.1L100.9 60.6L101.7 61.2L102.5 61.8L103.2 62.5L104.0 63.2L104.8 63.8L105.5 64.6L106.2 65.3L106.9 66.1L107.6 66.8L108.3 67.6L109.0 68.4L109.6 69.3L110.3 70.1L110.9 71.0L111.5 71.9L112.1 72.8L112.6 73.7L113.2 74.6L113.7 75.6L114.2 76.5L114.7 77.5L115.1 78.5L115.6 79.5L116.0 80.5L116.4 81.5L116.8 82.5L117.1 83.5L117.4 84.5L117.7 85.6L118.0 86.6L118.3 87.7L118.5 88.7L118.7 89.8L118.8 90.9L119.0 91.9L119.1 93.0L119.2 94.1L119.2 95.1L119.2 96.2L119.2 97.3L119.1 98.3L119.1 99.4L119.1 102.5L42.2 102.5Z" fill="#ffa818"/>
<path d="M26.1 -4.0L26.2 -2.9L26.3 -1.8L26.4 -0.8L26.4 0.3L26.4 1.3L26.3 2.4L26.2 3.4L26.0 4.4L25.8 5.5L25.6 6.4L25.3 7.4L24.9 8.4L24.6 9.3L24.2 10.3L23.7 11.2L23.3 12.1L22.8 13.0L22.2 13.8L21.7 14.6L21.1 15.5L20.4 16.3L19.8 17.0L19.1 17.8L18.4 18.5L17.6 19.2L16.9 19.9L16.1 20.5L15.3 21.1L14.4 21.7L13.6 22.3L12.7 22.8L11.8 23.3L10.9 23.8L10.0 24.3L9.0 24.7L8.1 25.0L7.1 25.4L6.1 25.7L5.1 26.0L4.1 26.2L3.1 26.4L2.1 26.6L1.0 26.7L-0.0 26.8L-1.1 26.9L-8.0 26.9L-8.0 -8.0L26.1 -8.0Z" fill="#ffa818"/>
<path d="M166.2 -6.3L166.7 -5.3L167.3 -4.3L167.8 -3.4L168.4 -2.6L169.0 -1.7L169.7 -0.9L170.3 -0.1L171.0 0.7L171.7 1.4L172.4 2.2L173.1 2.9L173.9 3.6L174.6 4.2L175.4 4.9L176.2 5.5L177.0 6.1L177.8 6.7L178.7 7.3L179.5 7.8L180.4 8.4L181.2 8.9L182.1 9.4L183.0 10.0L183.9 10.5L184.8 10.9L185.7 11.4L186.7 11.9L187.6 12.4L188.5 12.8L189.5 13.3L190.4 13.7L191.3 14.2L192.3 14.6L193.2 15.1L194.2 15.5L195.1 16.0L196.1 16.4L197.0 16.9L198.0 17.3L198.9 17.8L199.9 18.2L200.8 18.7L201.7 19.2L202.7 19.6L203.6 20.1L204.5 20.6L205.4 21.1L206.3 21.6L207.2 22.2L208.0 22.7L208.9 23.3L209.8 23.8L210.6 24.4L211.4 25.0L212.2 25.6L213.0 26.3L213.8 26.9L214.6 27.6L217.2 27.6L217.2 -8.0L166.2 -8.0Z" fill="#ffa818"/>
<path d="M60.2 99.8L60.0 98.5L59.8 97.3L59.7 96.0L59.7 94.8L59.7 93.6L59.7 92.4L59.8 91.2L59.9 90.0L60.0 88.9L60.2 87.8L60.4 86.7L60.7 85.6L60.9 84.5L61.3 83.5L61.6 82.4L62.0 81.5L62.4 80.5L62.8 79.5L63.3 78.6L63.8 77.7L64.3 76.8L64.9 75.9L65.5 75.1L66.1 74.3L66.7 73.5L67.3 72.8L68.0 72.0L68.7 71.3L69.4 70.6L70.2 70.0L70.9 69.4L71.7 68.8L72.4 68.2L73.2 67.6L74.1 67.1L74.9 66.6L75.7 66.2L76.6 65.8L77.4 65.4L78.3 65.0L79.2 64.7L80.1 64.4L81.0 64.1L81.9 63.9L82.8 63.7L83.7 63.5L84.6 63.3L85.5 63.2L86.5 63.2L87.4 63.1L88.3 63.1L89.2 63.1L90.2 63.2L91.1 63.3L92.0 63.4L92.9 63.6L93.8 63.8L94.7 64.1L95.6 64.3L96.5 64.6L97.4 65.0L98.3 65.3L99.1 65.7L100.0 66.2L100.8 66.6L101.6 67.1L102.5 67.7L103.3 68.2L104.1 68.8L104.8 69.4L105.6 70.0L106.3 70.7L107.1 71.4L107.8 72.1L108.5 72.9L109.1 73.6L109.8 74.4L110.4 75.2L111.0 76.1L111.6 76.9L112.2 77.8L112.7 78.7L113.2 79.7L113.7 80.6L114.1 81.6L114.6 82.6L115.0 83.6L115.4 84.7L115.7 85.7L116.0 86.8L116.3 87.9L116.5 89.0L116.8 90.2L116.9 91.3L117.1 92.5L117.2 93.6L117.3 94.8L117.3 96.1L117.3 97.3L117.3 98.5L117.2 99.8L117.2 102.5L60.2 102.5Z" fill="#ff4800"/>
<path d="M20.1 -4.0L20.2 -3.1L20.2 -2.1L20.2 -1.2L20.1 -0.2L20.0 0.7L19.9 1.6L19.7 2.5L19.5 3.4L19.3 4.2L19.0 5.1L18.7 5.9L18.3 6.8L17.9 7.6L17.5 8.4L17.0 9.1L16.5 9.9L16.0 10.6L15.4 11.3L14.9 12.0L14.3 12.7L13.6 13.3L13.0 13.9L12.3 14.5L11.6 15.1L10.9 15.6L10.1 16.1L9.3 16.6L8.6 17.0L7.8 17.5L6.9 17.8L6.1 18.2L5.3 18.5L4.4 18.8L3.5 19.0L2.6 19.2L1.7 19.4L0.8 19.5L-0.1 19.6L-1.0 19.7L-8.0 19.7L-8.0 -8.0L20.1 -8.0Z" fill="#ff4800"/>
<path d="M167.6 -6.2L168.2 -5.4L168.9 -4.6L169.6 -3.8L170.3 -3.0L171.0 -2.3L171.8 -1.5L172.5 -0.8L173.3 -0.2L174.1 0.5L174.9 1.1L175.7 1.8L176.5 2.4L177.3 3.0L178.2 3.5L179.0 4.1L179.9 4.6L180.8 5.2L181.7 5.7L182.6 6.2L183.5 6.7L184.4 7.1L185.3 7.6L186.2 8.1L187.2 8.5L188.1 9.0L189.0 9.4L190.0 9.8L190.9 10.2L191.9 10.6L192.8 11.0L193.8 11.4L194.8 11.8L195.7 12.2L196.7 12.6L197.7 13.0L198.6 13.4L199.6 13.8L200.6 14.2L201.5 14.6L202.5 15.0L203.5 15.4L204.4 15.7L205.4 16.2L206.3 16.6L207.3 17.0L208.2 17.4L209.2 17.8L210.1 18.2L211.0 18.7L211.9 19.1L212.8 19.6L213.7 20.1L214.6 20.6L217.2 20.6L217.2 -8.0L167.6 -8.0Z" fill="#ff4800"/>
<path d="M68.0 99.4L67.9 98.1L67.8 96.8L67.8 95.5L67.9 94.3L68.0 93.1L68.1 91.9L68.3 90.8L68.6 89.7L68.9 88.6L69.2 87.6L69.6 86.6L70.0 85.6L70.5 84.7L71.0 83.8L71.6 83.0L72.1 82.2L72.7 81.4L73.4 80.6L74.1 79.9L74.8 79.2L75.5 78.6L76.2 78.0L77.0 77.4L77.8 76.9L78.6 76.4L79.5 75.9L80.4 75.5L81.2 75.1L82.1 74.7L83.0 74.4L84.0 74.1L84.9 73.9L85.9 73.6L86.8 73.5L87.8 73.3L88.7 73.2L89.7 73.1L90.7 73.1L91.6 73.1L92.6 73.1L93.6 73.2L94.5 73.3L95.5 73.4L96.4 73.6L97.4 73.8L98.3 74.1L99.2 74.3L100.2 74.7L101.0 75.0L101.9 75.4L102.8 75.8L103.6 76.3L104.4 76.8L105.2 77.3L106.0 77.9L106.8 78.5L107.5 79.1L108.2 79.8L108.8 80.5L109.5 81.3L110.1 82.1L110.6 82.9L111.2 83.8L111.7 84.7L112.1 85.6L112.5 86.6L112.9 87.6L113.2 88.6L113.5 89.7L113.8 90.8L114.0 92.0L114.1 93.2L114.2 94.4L114.2 95.6L114.2 96.9L114.2 98.3L114.0 99.6L114.0 102.5L68.0 102.5Z" fill="#ff0000"/>
<path d="M11.6 -4.0L11.7 -3.4L11.8 -2.8L11.8 -2.2L11.8 -1.6L11.7 -1.0L11.7 -0.4L11.6 0.2L11.5 0.8L11.4 1.4L11.2 2.0L11.0 2.6L10.9 3.2L10.6 3.7L10.4 4.3L10.1 4.8L9.9 5.4L9.6 5.9L9.3 6.4L8.9 6.9L8.6 7.4L8.2 7.9L7.8 8.3L7.4 8.8L7.0 9.2L6.6 9.6L6.1 10.0L5.6 10.4L5.2 10.7L4.7 11.1L4.1 11.4L3.6 11.6L3.1 11.9L2.5 12.2L2.0 12.4L1.4 12.6L0.8 12.7L0.2 12.9L-0.4 13.0L-1.0 13.1L-8.0 13.1L-8.0 -8.0L11.6 -8.0Z" fill="#ff0000"/>
<path d="M168.9 -6.2L169.6 -5.5L170.4 -4.8L171.2 -4.2L172.0 -3.5L172.8 -2.8L173.6 -2.2L174.4 -1.6L175.3 -1.0L176.1 -0.4L177.0 0.2L177.8 0.7L178.7 1.3L179.6 1.8L180.4 2.3L181.3 2.8L182.2 3.3L183.2 3.8L184.1 4.3L185.0 4.7L185.9 5.2L186.9 5.6L187.8 6.0L188.8 6.4L189.7 6.8L190.7 7.2L191.7 7.5L192.6 7.9L193.6 8.2L194.6 8.6L195.6 8.9L196.6 9.2L197.6 9.5L198.5 9.8L199.5 10.0L200.5 10.3L201.6 10.6L202.6 10.8L203.6 11.0L204.6 11.2L205.6 11.5L206.6 11.7L207.6 11.8L208.6 12.0L209.6 12.2L210.6 12.3L211.7 12.5L212.7 12.6L213.7 12.8L214.7 12.9L217.2 12.9L217.2 -8.0L168.9 -8.0Z" fill="#ff0000"/>
<path d="M82.0 98.9L81.8 97.6L81.7 96.3L81.8 95.1L82.0 94.0L82.3 92.9L82.7 91.9L83.1 90.9L83.7 90.0L84.3 89.2L85.0 88.5L85.7 87.8L86.5 87.2L87.4 86.6L88.3 86.1L89.2 85.7L90.2 85.4L91.2 85.1L92.2 84.9L93.3 84.7L94.3 84.7L95.3 84.6L96.4 84.7L97.4 84.8L98.4 85.0L99.4 85.3L100.3 85.6L101.2 86.0L102.1 86.5L102.9 87.0L103.6 87.7L104.3 88.3L104.9 89.1L105.5 89.9L105.9 90.8L106.3 91.8L106.6 92.8L106.8 93.9L106.9 95.1L106.8 96.3L106.6 97.7L106.4 99.1L106.4 102.5L82.0 102.5Z" fill="#8c0000"/>
<path d="M173.3 -5.0L174.1 -4.3L174.9 -3.6L175.7 -2.9L176.5 -2.3L177.3 -1.7L178.2 -1.1L179.1 -0.6L179.9 -0.0L180.8 0.5L181.7 1.0L182.6 1.4L183.6 1.8L184.5 2.3L185.5 2.6L186.4 3.0L187.4 3.3L188.4 3.6L189.4 3.9L190.4 4.2L191.4 4.4L192.4 4.6L193.4 4.8L194.4 5.0L195.4 5.1L196.4 5.2L197.5 5.3L198.5 5.4L199.5 5.4L200.5 5.5L201.6 5.5L202.6 5.4L203.6 5.4L204.7 5.3L205.7 5.2L206.7 5.1L207.7 4.9L208.7 4.7L209.8 4.5L210.8 4.3L211.8 4.1L212.7 3.8L213.7 3.5L214.7 3.2L217.2 3.2L217.2 -8.0L173.3 -8.0Z" fill="#8c0000"/>
</g>

<g transform="translate(273.80 383.00)" clip-path="url(#pc)">
<rect x="-5" y="-5" width="219.25" height="104.50" fill="#00008f"/>
<path d="M52.4 -3.3L52.6 -2.3L52.9 -1.3L53.3 -0.4L53.6 0.5L54.0 1.4L54.4 2.2L54.8 3.1L55.3 3.9L55.8 4.7L56.3 5.5L56.8 6.3L57.3 7.0L57.9 7.8L58.5 8.5L59.1 9.2L59.7 9.9L60.4 10.6L61.0 11.3L61.7 11.9L62.4 12.6L63.1 13.2L63.9 13.8L64.6 14.4L65.3 15.0L66.1 15.6L66.9 16.2L67.7 16.8L68.5 17.3L69.3 17.9L70.1 18.4L71.0 19.0L71.8 19.5L72.6 20.1L73.5 20.6L74.4 21.1L75.2 21.6L76.1 22.2L77.0 22.7L77.9 23.2L78.7 23.7L79.6 24.2L80.5 24.8L81.4 25.3L82.3 25.8L83.2 26.3L84.1 26.8L85.0 27.4L85.9 27.9L86.7 28.4L87.6 29.0L88.5 29.5L89.4 30.1L90.2 30.6L91.1 31.2L92.0 31.8L92.8 32.4L93.7 32.9L94.5 33.5L95.4 34.1L96.2 34.7L97.0 35.4L97.8 36.0L98.6 36.6L99.4 37.2L100.2 37.9L101.0 38.5L101.8 39.1L102.6 39.8L103.4 40.5L104.1 41.1L104.9 41.8L105.6 42.5L106.3 43.2L107.1 43.9L107.8 44.6L108.5 45.3L109.2 46.0L109.9 46.7L110.6 47.4L111.3 48.2L111.9 48.9L112.6 49.7L113.2 50.4L113.9 51.2L114.5 52.0L115.1 52.7L115.7 53.5L116.3 54.3L116.9 55.1L117.5 55.9L118.0 56.7L118.6 57.5L119.1 58.3L119.6 59.2L120.1 60.0L120.6 60.8L121.1 61.7L121.6 62.6L122.1 63.4L122.5 64.3L123.0 65.2L123.4 66.0L123.8 66.9L124.2 67.8L124.6 68.7L125.0 69.7L125.3 70.6L125.7 71.5L126.0 72.4L126.3 73.4L126.6 74.3L126.9 75.3L127.2 76.2L127.4 77.2L127.7 78.2L127.9 79.2L128.1 80.1L128.3 81.1L128.5 82.1L128.7 83.2L128.8 84.2L128.9 85.2L129.1 86.2L129.2 87.3L129.2 88.3L129.3 89.4L129.4 90.4L129.4 91.5L129.4 92.6L129.4 93.7L129.4 94.7L129.3 95.8L129.3 97.0L129.2 98.1L129.1 99.2L60.0 102.5L19.0 99.0L18.9 98.0L18.8 97.0L18.6 96.1L18.5 95.1L18.3 94.1L18.2 93.1L18.0 92.1L17.9 91.1L17.7 90.1L17.5 89.1L17.4 88.0L17.2 87.0L17.0 86.0L16.8 85.0L16.6 83.9L16.4 82.9L16.2 81.9L16.0 80.9L15.7 79.8L15.5 78.8L15.2 77.8L15.0 76.8L14.7 75.8L14.4 74.8L14.1 73.8L13.8 72.8L13.4 71.8L13.1 70.8L12.7 69.9L12.3 68.9L12.0 68.0L11.5 67.0L11.1 66.1L10.7 65.2L10.2 64.3L9.7 63.4L9.2 62.5L8.7 61.7L8.1 60.8L7.5 60.0L7.0 59.2L6.3 58.4L5.7 57.6L5.0 56.9L4.4 56.1L3.6 55.4L2.9 54.7L2.1 54.0L1.3 53.4L0.5 52.7L-0.3 52.1L-1.2 51.6L-2.1 51.0L-3.0 50.5L-8.0 -8.0Z" fill="#0010e8"/>
<path d="M150.0 -6.5L150.2 -5.4L150.3 -4.3L150.5 -3.2L150.7 -2.2L150.9 -1.1L151.2 -0.1L151.5 0.9L151.8 1.8L152.2 2.8L152.5 3.8L152.9 4.7L153.4 5.6L153.8 6.5L154.3 7.4L154.7 8.3L155.2 9.1L155.8 10.0L156.3 10.8L156.9 11.6L157.5 12.5L158.1 13.2L158.7 14.0L159.3 14.8L160.0 15.5L160.7 16.3L161.3 17.0L162.0 17.7L162.7 18.4L163.5 19.1L164.2 19.8L165.0 20.5L165.7 21.2L166.5 21.8L167.3 22.5L168.1 23.1L168.9 23.7L169.7 24.3L170.5 24.9L171.4 25.5L172.2 26.1L173.0 26.7L173.9 27.3L174.7 27.8L175.6 28.4L176.5 28.9L177.3 29.5L178.2 30.0L179.1 30.6L179.9 31.1L180.8 31.6L181.7 32.1L182.6 32.6L183.5 33.1L184.3 33.6L185.2 34.1L186.1 34.6L187.0 35.1L187.9 35.7L188.7 36.2L189.6 36.7L190.5 37.2L191.4 37.7L192.2 38.2L193.1 38.7L194.0 39.2L194.8 39.7L195.7 40.3L196.6 40.8L197.4 41.4L198.3 41.9L199.1 42.5L199.9 43.0L200.7 43.6L201.6 44.2L202.4 44.8L203.2 45.4L204.0 46.0L204.8 46.6L205.6 47.3L206.3 47.9L207.1 48.6L207.9 49.3L208.6 50.0L209.3 50.7L210.1 51.4L210.8 52.1L211.5 52.9L212.2 53.7L212.8 54.5L213.5 55.3L214.2 56.1L214.8 57.0L217.2 57.0L217.2 -8.0L150.0 -8.0Z" fill="#0010e8"/>
<path d="M48.8 -3.4L48.9 -2.3L49.0 -1.2L49.2 -0.1L49.4 0.9L49.6 1.9L49.9 2.9L50.2 3.8L50.5 4.7L50.9 5.6L51.3 6.5L51.7 7.4L52.1 8.2L52.6 9.0L53.1 9.8L53.6 10.6L54.1 11.3L54.7 12.0L55.3 12.7L55.9 13.4L56.5 14.1L57.1 14.8L57.8 15.4L58.5 16.1L59.2 16.7L59.9 17.3L60.7 17.9L61.4 18.4L62.2 19.0L63.0 19.6L63.8 20.1L64.6 20.6L65.4 21.2L66.2 21.7L67.1 22.2L67.9 22.7L68.8 23.2L69.7 23.7L70.5 24.2L71.4 24.7L72.3 25.1L73.2 25.6L74.1 26.1L75.0 26.6L76.0 27.0L76.9 27.5L77.8 28.0L78.7 28.4L79.6 28.9L80.6 29.4L81.5 29.9L82.4 30.3L83.3 30.8L84.3 31.3L85.2 31.8L86.1 32.3L87.0 32.8L87.9 33.3L88.8 33.8L89.7 34.4L90.6 34.9L91.4 35.4L92.3 36.0L93.2 36.6L94.0 37.1L94.9 37.7L95.7 38.3L96.6 38.9L97.4 39.5L98.2 40.1L99.0 40.7L99.8 41.3L100.6 42.0L101.4 42.6L102.2 43.3L103.0 43.9L103.7 44.6L104.5 45.3L105.2 45.9L106.0 46.6L106.7 47.3L107.4 48.0L108.1 48.7L108.8 49.5L109.5 50.2L110.2 50.9L110.9 51.7L111.5 52.4L112.2 53.2L112.8 53.9L113.4 54.7L114.1 55.5L114.7 56.3L115.3 57.1L115.9 57.9L116.4 58.7L117.0 59.5L117.6 60.3L118.1 61.2L118.6 62.0L119.2 62.9L119.7 63.7L120.2 64.6L120.7 65.4L121.1 66.3L121.6 67.2L122.0 68.1L122.5 69.0L122.9 69.9L123.3 70.8L123.7 71.7L124.1 72.7L124.5 73.6L124.8 74.5L125.2 75.5L125.5 76.5L125.8 77.4L126.2 78.4L126.4 79.4L126.7 80.3L127.0 81.3L127.2 82.3L127.5 83.3L127.7 84.4L127.9 85.4L128.1 86.4L128.3 87.4L128.4 88.5L128.6 89.5L128.7 90.6L128.8 91.6L128.9 92.7L129.0 93.8L129.1 94.9L129.2 95.9L129.2 97.0L129.2 98.1L129.2 99.2L60.0 102.5L22.2 98.9L22.1 98.0L22.0 97.0L21.9 96.1L21.8 95.1L21.7 94.1L21.5 93.1L21.4 92.1L21.3 91.1L21.2 90.1L21.0 89.1L20.9 88.0L20.7 87.0L20.6 86.0L20.4 84.9L20.2 83.9L20.1 82.8L19.9 81.8L19.7 80.7L19.5 79.7L19.2 78.7L19.0 77.6L18.8 76.6L18.5 75.5L18.2 74.5L18.0 73.5L17.7 72.5L17.3 71.5L17.0 70.5L16.7 69.5L16.3 68.5L15.9 67.6L15.5 66.6L15.1 65.7L14.7 64.7L14.2 63.8L13.7 62.9L13.2 62.1L12.7 61.2L12.2 60.4L11.6 59.5L11.0 58.7L10.4 58.0L9.8 57.2L9.1 56.5L8.4 55.8L7.7 55.1L6.9 54.4L6.2 53.8L5.4 53.2L4.6 52.6L3.7 52.0L2.8 51.5L1.9 51.0L1.0 50.5L-0.0 50.1L-1.0 49.7L-2.1 49.4L-3.2 49.0L-8.0 -8.0Z" fill="#0058ff"/>
<path d="M153.0 -6.6L153.2 -5.5L153.5 -4.3L153.7 -3.2L154.0 -2.2L154.3 -1.1L154.6 -0.1L154.9 0.9L155.3 1.9L155.7 2.9L156.1 3.8L156.6 4.7L157.0 5.6L157.5 6.5L158.0 7.4L158.5 8.2L159.1 9.1L159.6 9.9L160.2 10.7L160.8 11.4L161.4 12.2L162.1 13.0L162.7 13.7L163.4 14.4L164.1 15.1L164.8 15.8L165.5 16.5L166.2 17.2L167.0 17.8L167.7 18.4L168.5 19.1L169.3 19.7L170.0 20.3L170.8 20.9L171.7 21.5L172.5 22.1L173.3 22.7L174.1 23.2L175.0 23.8L175.8 24.3L176.7 24.9L177.6 25.4L178.4 25.9L179.3 26.5L180.2 27.0L181.1 27.5L182.0 28.0L182.9 28.5L183.8 29.1L184.7 29.6L185.6 30.1L186.5 30.6L187.4 31.1L188.3 31.6L189.2 32.1L190.1 32.6L191.0 33.1L191.9 33.6L192.8 34.1L193.7 34.6L194.6 35.2L195.4 35.7L196.3 36.2L197.2 36.8L198.1 37.3L198.9 37.8L199.8 38.4L200.6 38.9L201.5 39.5L202.3 40.1L203.1 40.7L204.0 41.3L204.8 41.9L205.6 42.5L206.3 43.1L207.1 43.7L207.9 44.4L208.6 45.1L209.4 45.7L210.1 46.4L210.8 47.1L211.5 47.8L212.2 48.6L212.9 49.3L213.5 50.1L214.1 50.8L214.8 51.6L217.2 51.6L217.2 -8.0L153.0 -8.0Z" fill="#0058ff"/>
<path d="M45.8 -4.2L45.7 -2.8L45.5 -1.4L45.4 -0.1L45.4 1.1L45.4 2.3L45.4 3.5L45.5 4.7L45.6 5.8L45.7 6.8L45.9 7.9L46.2 8.9L46.4 9.8L46.7 10.8L47.1 11.7L47.5 12.5L47.9 13.3L48.3 14.2L48.8 14.9L49.3 15.7L49.8 16.4L50.4 17.1L51.0 17.8L51.6 18.4L52.2 19.1L52.9 19.7L53.6 20.3L54.3 20.8L55.0 21.4L55.7 21.9L56.5 22.4L57.3 22.9L58.1 23.4L58.9 23.9L59.7 24.4L60.6 24.8L61.5 25.3L62.3 25.7L63.2 26.1L64.1 26.6L65.0 27.0L65.9 27.4L66.9 27.8L67.8 28.2L68.7 28.6L69.7 29.0L70.6 29.4L71.5 29.8L72.5 30.2L73.4 30.6L74.4 31.0L75.3 31.4L76.3 31.9L77.2 32.3L78.1 32.7L79.1 33.2L80.0 33.6L80.9 34.1L81.8 34.6L82.8 35.0L83.7 35.5L84.6 36.0L85.5 36.5L86.4 37.0L87.3 37.5L88.1 38.0L89.0 38.5L89.9 39.1L90.8 39.6L91.6 40.2L92.5 40.7L93.3 41.3L94.2 41.8L95.0 42.4L95.9 43.0L96.7 43.6L97.5 44.2L98.3 44.8L99.1 45.4L99.9 46.0L100.7 46.7L101.5 47.3L102.3 47.9L103.0 48.6L103.8 49.2L104.5 49.9L105.3 50.6L106.0 51.3L106.7 52.0L107.4 52.7L108.1 53.4L108.8 54.1L109.5 54.8L110.2 55.5L110.9 56.3L111.5 57.0L112.2 57.8L112.8 58.5L113.4 59.3L114.0 60.1L114.6 60.9L115.2 61.7L115.8 62.5L116.4 63.3L116.9 64.1L117.5 64.9L118.0 65.8L118.5 66.6L119.0 67.5L119.5 68.3L120.0 69.2L120.5 70.1L120.9 71.0L121.4 71.9L121.8 72.8L122.2 73.7L122.7 74.6L123.0 75.5L123.4 76.5L123.8 77.4L124.1 78.4L124.5 79.3L124.8 80.3L125.1 81.3L125.4 82.3L125.7 83.3L125.9 84.3L126.2 85.3L126.4 86.3L126.6 87.4L126.8 88.4L127.0 89.5L127.2 90.5L127.3 91.6L127.5 92.7L127.6 93.8L127.7 94.9L127.8 96.0L127.9 97.1L127.9 98.2L127.9 99.4L60.0 102.5L24.7 98.9L24.7 98.0L24.6 97.0L24.6 96.1L24.5 95.1L24.4 94.1L24.4 93.1L24.3 92.1L24.2 91.1L24.1 90.1L24.0 89.1L23.9 88.1L23.8 87.0L23.7 86.0L23.6 85.0L23.5 83.9L23.3 82.9L23.2 81.8L23.0 80.8L22.8 79.7L22.7 78.7L22.5 77.6L22.3 76.6L22.0 75.6L21.8 74.5L21.6 73.5L21.3 72.5L21.0 71.5L20.7 70.4L20.4 69.4L20.1 68.4L19.8 67.5L19.4 66.5L19.1 65.5L18.7 64.6L18.3 63.6L17.9 62.7L17.4 61.8L17.0 60.9L16.5 60.0L16.0 59.2L15.5 58.3L14.9 57.5L14.4 56.7L13.8 55.9L13.2 55.1L12.5 54.4L11.9 53.6L11.2 52.9L10.5 52.2L9.8 51.6L9.0 50.9L8.3 50.3L7.5 49.8L6.6 49.2L5.8 48.7L4.9 48.2L4.0 47.7L3.0 47.3L2.0 46.9L1.0 46.5L0.0 46.2L-1.1 45.8L-2.1 45.6L-3.3 45.3L-8.0 -8.0Z" fill="#00a8ff"/>
<path d="M156.1 -6.5L156.3 -5.4L156.6 -4.3L156.9 -3.2L157.2 -2.2L157.5 -1.1L157.9 -0.1L158.3 0.8L158.7 1.8L159.1 2.7L159.6 3.6L160.0 4.5L160.5 5.4L161.1 6.2L161.6 7.1L162.2 7.9L162.8 8.7L163.4 9.5L164.0 10.2L164.6 11.0L165.3 11.7L166.0 12.4L166.7 13.1L167.4 13.8L168.1 14.4L168.8 15.1L169.6 15.7L170.3 16.4L171.1 17.0L171.9 17.6L172.7 18.2L173.5 18.8L174.3 19.4L175.2 19.9L176.0 20.5L176.9 21.0L177.7 21.6L178.6 22.1L179.5 22.7L180.4 23.2L181.2 23.7L182.1 24.2L183.0 24.7L183.9 25.2L184.8 25.7L185.7 26.2L186.7 26.8L187.6 27.3L188.5 27.8L189.4 28.3L190.3 28.8L191.2 29.3L192.1 29.8L193.0 30.3L193.9 30.8L194.8 31.3L195.7 31.8L196.6 32.3L197.5 32.8L198.4 33.4L199.3 33.9L200.2 34.4L201.0 35.0L201.9 35.5L202.7 36.1L203.6 36.7L204.4 37.2L205.2 37.8L206.0 38.4L206.8 39.0L207.6 39.7L208.4 40.3L209.2 40.9L209.9 41.6L210.6 42.3L211.4 43.0L212.1 43.7L212.7 44.4L213.4 45.1L214.1 45.8L214.7 46.6L217.2 46.6L217.2 -8.0L156.1 -8.0Z" fill="#00a8ff"/>
<path d="M42.3 -4.6L42.0 -3.3L41.8 -2.0L41.7 -0.8L41.5 0.5L41.4 1.7L41.4 2.9L41.3 4.0L41.3 5.2L41.4 6.3L41.5 7.4L41.6 8.5L41.7 9.6L41.9 10.6L42.1 11.6L42.3 12.6L42.5 13.6L42.8 14.5L43.1 15.4L43.5 16.3L43.9 17.2L44.3 18.1L44.7 18.9L45.1 19.7L45.6 20.5L46.1 21.3L46.7 22.1L47.2 22.8L47.8 23.5L48.4 24.2L49.0 24.8L49.7 25.5L50.3 26.1L51.0 26.7L51.7 27.2L52.5 27.8L53.2 28.3L54.0 28.8L54.8 29.3L55.6 29.7L56.5 30.2L57.3 30.6L58.2 31.0L59.1 31.3L60.0 31.7L60.9 32.0L61.8 32.4L62.7 32.7L63.7 33.0L64.6 33.3L65.6 33.6L66.6 33.9L67.6 34.1L68.5 34.4L69.5 34.7L70.5 35.0L71.5 35.2L72.5 35.5L73.5 35.8L74.5 36.1L75.4 36.4L76.4 36.7L77.4 37.0L78.4 37.3L79.3 37.7L80.3 38.0L81.3 38.4L82.2 38.8L83.1 39.2L84.1 39.6L85.0 40.0L85.9 40.4L86.8 40.9L87.7 41.3L88.6 41.8L89.5 42.2L90.4 42.7L91.3 43.2L92.1 43.7L93.0 44.3L93.8 44.8L94.7 45.3L95.5 45.9L96.3 46.4L97.1 47.0L98.0 47.6L98.8 48.2L99.5 48.8L100.3 49.4L101.1 50.1L101.9 50.7L102.6 51.3L103.4 52.0L104.1 52.7L104.8 53.3L105.5 54.0L106.2 54.7L106.9 55.4L107.6 56.2L108.3 56.9L109.0 57.6L109.6 58.4L110.2 59.1L110.9 59.9L111.5 60.7L112.1 61.4L112.7 62.2L113.3 63.0L113.9 63.9L114.4 64.7L115.0 65.5L115.5 66.3L116.1 67.2L116.6 68.0L117.1 68.9L117.6 69.8L118.1 70.6L118.6 71.5L119.0 72.4L119.5 73.3L119.9 74.2L120.3 75.1L120.7 76.1L121.1 77.0L121.5 77.9L121.9 78.9L122.2 79.8L122.6 80.8L122.9 81.8L123.2 82.7L123.5 83.7L123.8 84.7L124.1 85.7L124.4 86.7L124.6 87.7L124.9 88.7L125.1 89.7L125.3 90.8L125.5 91.8L125.6 92.8L125.8 93.9L126.0 94.9L126.1 96.0L126.2 97.0L126.3 98.1L126.4 99.2L60.0 102.5L27.3 98.9L27.2 98.0L27.2 97.1L27.1 96.2L27.0 95.2L26.9 94.3L26.9 93.3L26.8 92.3L26.7 91.3L26.7 90.3L26.6 89.3L26.5 88.3L26.5 87.3L26.4 86.2L26.3 85.2L26.2 84.2L26.1 83.1L26.0 82.1L25.9 81.0L25.8 79.9L25.7 78.9L25.6 77.8L25.5 76.8L25.3 75.7L25.2 74.6L25.0 73.6L24.8 72.5L24.6 71.5L24.4 70.5L24.2 69.4L24.0 68.4L23.8 67.4L23.5 66.3L23.2 65.3L22.9 64.3L22.6 63.4L22.3 62.4L22.0 61.4L21.6 60.5L21.2 59.5L20.8 58.6L20.4 57.7L19.9 56.8L19.5 55.9L19.0 55.1L18.5 54.2L17.9 53.4L17.4 52.6L16.8 51.8L16.2 51.0L15.5 50.3L14.9 49.6L14.2 48.9L13.4 48.2L12.7 47.6L11.9 47.0L11.1 46.4L10.3 45.8L9.4 45.2L8.5 44.7L7.6 44.2L6.7 43.8L5.8 43.3L4.9 42.9L3.9 42.5L2.9 42.1L1.9 41.8L0.9 41.5L-0.1 41.2L-1.1 40.9L-2.1 40.7L-3.1 40.5L-8.0 -8.0Z" fill="#20fbde"/>
<path d="M159.0 -6.4L159.3 -5.3L159.6 -4.2L159.9 -3.2L160.3 -2.2L160.6 -1.1L161.1 -0.2L161.5 0.8L161.9 1.7L162.4 2.6L162.9 3.5L163.5 4.4L164.0 5.2L164.6 6.0L165.2 6.8L165.8 7.6L166.4 8.3L167.1 9.1L167.8 9.8L168.5 10.5L169.2 11.2L169.9 11.8L170.7 12.5L171.4 13.1L172.2 13.8L173.0 14.4L173.8 15.0L174.6 15.6L175.4 16.1L176.3 16.7L177.1 17.3L178.0 17.8L178.9 18.3L179.7 18.9L180.6 19.4L181.5 19.9L182.4 20.4L183.3 20.9L184.2 21.4L185.1 21.9L186.1 22.4L187.0 22.9L187.9 23.4L188.8 23.9L189.7 24.4L190.7 24.9L191.6 25.4L192.5 25.9L193.4 26.4L194.3 26.9L195.2 27.4L196.1 27.9L197.0 28.4L197.9 29.0L198.8 29.5L199.7 30.0L200.6 30.6L201.4 31.1L202.3 31.7L203.1 32.3L204.0 32.9L204.8 33.5L205.6 34.1L206.4 34.7L207.2 35.3L208.0 36.0L208.7 36.6L209.5 37.3L210.2 38.0L210.9 38.7L211.6 39.5L212.2 40.2L212.9 41.0L213.5 41.8L214.1 42.6L214.7 43.4L217.2 43.4L217.2 -8.0L159.0 -8.0Z" fill="#20fbde"/>
<path d="M37.6 -4.0L37.5 -3.0L37.5 -2.0L37.5 -1.0L37.5 0.0L37.6 1.0L37.6 2.1L37.6 3.1L37.7 4.1L37.8 5.1L37.9 6.1L38.0 7.2L38.1 8.2L38.3 9.2L38.4 10.2L38.6 11.3L38.8 12.3L39.0 13.3L39.2 14.3L39.4 15.3L39.7 16.3L40.0 17.3L40.3 18.3L40.6 19.3L40.9 20.2L41.2 21.2L41.6 22.2L42.0 23.1L42.3 24.1L42.8 25.0L43.2 25.9L43.6 26.9L44.1 27.8L44.6 28.6L45.1 29.5L45.6 30.4L46.2 31.3L46.7 32.1L47.3 32.9L47.9 33.7L48.6 34.5L49.2 35.3L49.9 36.1L50.6 36.8L51.3 37.6L52.0 38.3L52.8 39.0L53.6 39.7L53.4 39.9L54.5 39.7L55.6 39.6L56.6 39.5L57.7 39.4L58.7 39.3L59.8 39.3L60.8 39.2L61.9 39.2L62.9 39.2L63.9 39.3L65.0 39.3L66.0 39.4L67.0 39.4L68.0 39.5L69.1 39.7L70.1 39.8L71.1 40.0L72.1 40.1L73.1 40.3L74.1 40.5L75.0 40.8L76.0 41.0L77.0 41.3L78.0 41.5L78.9 41.8L79.9 42.1L80.8 42.5L81.8 42.8L82.7 43.2L83.7 43.5L84.6 43.9L85.5 44.3L86.4 44.8L87.3 45.2L88.2 45.6L89.1 46.1L90.0 46.6L90.9 47.1L91.7 47.6L92.6 48.1L93.4 48.6L94.3 49.2L95.1 49.7L95.9 50.3L96.8 50.9L97.6 51.5L98.4 52.1L99.2 52.7L100.0 53.4L100.7 54.0L101.5 54.7L102.2 55.4L103.0 56.1L103.7 56.7L104.4 57.5L105.2 58.2L105.9 58.9L106.6 59.6L107.2 60.4L107.9 61.2L108.6 61.9L109.2 62.7L109.9 63.5L110.5 64.3L111.1 65.1L111.7 65.9L112.3 66.7L112.9 67.6L113.5 68.4L114.0 69.3L114.6 70.1L115.1 71.0L115.6 71.9L116.1 72.8L116.6 73.7L117.1 74.6L117.6 75.5L118.0 76.4L118.5 77.3L118.9 78.2L119.3 79.2L119.7 80.1L120.1 81.1L120.5 82.0L120.8 83.0L121.2 83.9L121.5 84.9L121.8 85.9L122.1 86.9L122.4 87.8L122.7 88.8L122.9 89.8L123.2 90.8L123.4 91.8L123.6 92.8L123.8 93.8L124.0 94.8L124.1 95.9L124.3 96.9L124.4 97.9L124.5 98.9L60.0 102.5L30.6 98.9L30.5 98.0L30.4 97.0L30.4 96.1L30.3 95.1L30.3 94.1L30.2 93.1L30.2 92.1L30.1 91.1L30.1 90.1L30.0 89.1L30.0 88.1L29.9 87.1L29.9 86.0L29.8 85.0L29.8 83.9L29.7 82.9L29.7 81.8L29.6 80.8L29.5 79.7L29.5 78.7L29.4 77.6L29.3 76.5L29.2 75.5L29.1 74.4L29.0 73.4L28.8 72.3L28.7 71.3L28.5 70.2L28.4 69.2L28.2 68.2L28.0 67.1L27.8 66.1L27.6 65.1L27.4 64.1L27.1 63.1L26.8 62.1L26.6 61.1L26.3 60.1L25.9 59.2L25.6 58.2L25.2 57.3L24.9 56.3L24.4 55.4L24.0 54.5L23.6 53.6L23.1 52.8L22.6 51.9L22.1 51.1L21.5 50.3L21.0 49.5L20.4 48.7L19.7 47.9L19.1 47.2L18.4 46.4L17.7 45.7L17.0 45.0L16.2 44.4L15.4 43.7L14.6 43.1L13.8 42.5L13.0 41.9L12.1 41.3L11.3 40.8L10.4 40.2L9.5 39.7L8.6 39.2L7.6 38.8L6.7 38.3L5.8 37.9L4.8 37.5L3.8 37.1L2.9 36.7L1.9 36.4L0.9 36.1L-0.1 35.8L-1.1 35.5L-2.1 35.2L-3.1 35.0L-8.0 -8.0Z" fill="#30ff60"/>
<path d="M161.9 -6.4L162.2 -5.3L162.5 -4.2L162.9 -3.2L163.3 -2.2L163.7 -1.3L164.2 -0.3L164.6 0.6L165.2 1.5L165.7 2.3L166.2 3.2L166.8 4.0L167.4 4.8L168.1 5.5L168.7 6.3L169.4 7.0L170.1 7.7L170.8 8.4L171.5 9.1L172.2 9.7L173.0 10.4L173.8 11.0L174.5 11.6L175.4 12.2L176.2 12.8L177.0 13.3L177.8 13.9L178.7 14.4L179.5 15.0L180.4 15.5L181.3 16.0L182.2 16.5L183.1 17.0L184.0 17.5L184.9 18.0L185.8 18.5L186.7 19.0L187.6 19.5L188.6 20.0L189.5 20.4L190.4 20.9L191.3 21.4L192.2 21.9L193.2 22.4L194.1 22.8L195.0 23.3L195.9 23.8L196.8 24.3L197.7 24.8L198.6 25.3L199.5 25.9L200.4 26.4L201.3 26.9L202.2 27.5L203.0 28.0L203.9 28.6L204.7 29.2L205.5 29.7L206.3 30.4L207.1 31.0L207.9 31.6L208.7 32.3L209.4 32.9L210.1 33.6L210.9 34.3L211.6 35.0L212.2 35.8L212.9 36.5L213.5 37.3L214.1 38.1L214.7 39.0L217.2 39.0L217.2 -8.0L161.9 -8.0Z" fill="#30ff60"/>
<path d="M32.5 98.8L32.5 97.8L32.5 96.8L32.5 95.7L32.5 94.7L32.5 93.7L32.5 92.7L32.5 91.7L32.5 90.6L32.5 89.6L32.5 88.6L32.5 87.6L32.5 86.5L32.5 85.5L32.5 84.5L32.5 83.5L32.5 82.4L32.5 81.4L32.5 80.4L32.5 79.4L32.5 78.3L32.5 77.3L32.5 76.3L32.5 75.3L32.5 74.3L32.5 73.2L32.5 72.2L32.5 71.2L32.5 70.2L32.5 69.1L32.5 68.1L32.5 67.1L32.5 66.1L32.5 65.0L32.5 64.0L32.5 63.0L32.5 62.0L32.5 61.0L32.5 59.9L32.5 58.9L32.5 57.9L32.5 56.9L32.5 55.8L32.5 54.8L32.5 53.8L32.5 52.8L32.5 51.7L32.5 50.7L32.5 49.7L32.5 48.7L32.5 47.6L32.5 46.6L32.5 45.6L32.5 45.6L33.1 45.8L33.7 45.9L34.2 46.1L34.8 46.3L35.3 46.5L35.9 46.7L36.4 46.9L37.0 47.1L37.5 47.3L38.0 47.5L38.6 47.8L39.1 48.0L39.6 48.2L40.1 48.5L40.7 48.7L41.2 49.0L41.7 49.2L42.2 49.5L42.8 49.8L43.3 50.0L43.8 50.3L44.3 50.5L44.8 50.8L45.3 51.1L45.9 51.3L46.4 51.6L46.9 51.9L47.4 52.1L47.9 52.4L48.5 52.7L49.0 52.9L49.5 53.2L50.0 53.4L50.6 53.7L51.1 53.9L51.6 54.2L52.1 54.4L52.7 54.6L53.2 54.8L52.7 55.0L53.7 54.3L54.6 53.6L55.6 52.9L56.5 52.3L57.5 51.7L58.4 51.1L59.4 50.6L60.3 50.1L61.3 49.6L62.3 49.2L63.2 48.8L64.2 48.5L65.2 48.1L66.1 47.9L67.1 47.6L68.1 47.4L69.0 47.2L70.0 47.0L71.0 46.9L71.9 46.8L72.9 46.7L73.9 46.7L74.8 46.7L75.8 46.7L76.7 46.8L77.7 46.8L78.7 46.9L79.6 47.1L80.5 47.2L81.5 47.4L82.4 47.6L83.4 47.8L84.3 48.1L85.2 48.4L86.1 48.7L87.1 49.0L88.0 49.4L88.9 49.8L89.8 50.2L90.6 50.6L91.5 51.0L92.4 51.5L93.3 52.0L94.1 52.5L95.0 53.0L95.8 53.5L96.7 54.1L97.5 54.7L98.3 55.3L99.1 55.9L99.9 56.5L100.7 57.2L101.5 57.8L102.3 58.5L103.1 59.2L103.8 59.9L104.5 60.7L105.3 61.4L106.0 62.2L106.7 62.9L107.4 63.7L108.1 64.5L108.7 65.3L109.4 66.1L110.0 66.9L110.7 67.8L111.3 68.6L111.9 69.5L112.5 70.4L113.0 71.2L113.6 72.1L114.1 73.0L114.6 73.9L115.2 74.8L115.7 75.8L116.1 76.7L116.6 77.6L117.0 78.5L117.5 79.5L117.9 80.4L118.3 81.4L118.6 82.3L119.0 83.3L119.3 84.2L119.6 85.2L119.9 86.2L120.2 87.1L120.5 88.1L120.7 89.1L120.9 90.0L121.1 91.0L121.3 92.0L121.5 93.0L121.6 93.9L121.7 94.9L121.8 95.8L121.9 96.8L122.0 97.8L122.0 98.7L122.0 102.5L32.5 102.5Z" fill="#fbff10"/>
<path d="M32.5 -4.0L32.5 -3.0L32.5 -1.9L32.4 -0.9L32.4 0.1L32.4 1.2L32.4 2.2L32.4 3.3L32.4 4.3L32.4 5.3L32.4 6.4L32.4 7.4L32.4 8.4L32.4 9.5L32.5 10.5L32.5 11.6L32.5 12.6L32.5 13.6L32.5 14.7L32.5 15.7L32.6 16.7L32.6 17.8L32.6 18.8L32.6 19.9L32.6 20.9L32.6 21.9L32.6 23.0L32.6 24.0L32.6 25.0L32.6 26.1L32.6 27.1L32.6 28.2L32.6 29.2L32.6 30.2L32.5 31.3L32.5 32.3L32.4 33.3L32.4 34.4L32.3 35.4L32.3 36.4L32.2 37.5L32.1 38.5L32.0 39.5L31.9 40.6L31.9 40.6L31.1 40.1L30.3 39.7L29.5 39.2L28.8 38.7L28.0 38.3L27.1 37.8L26.3 37.4L25.5 37.0L24.7 36.6L23.9 36.2L23.1 35.8L22.2 35.4L21.4 35.0L20.6 34.6L19.7 34.3L18.9 34.0L18.0 33.6L17.2 33.3L16.3 33.0L15.4 32.7L14.6 32.4L13.7 32.1L12.8 31.9L12.0 31.6L11.1 31.4L10.2 31.2L9.3 31.0L8.4 30.8L7.5 30.6L6.6 30.4L5.7 30.2L4.8 30.1L3.9 29.9L3.0 29.8L2.1 29.7L1.2 29.6L0.2 29.5L-0.7 29.4L-1.6 29.4L-8.0 29.4L-8.0 -8.0L32.5 -8.0Z" fill="#fbff10"/>
<path d="M164.4 -6.3L164.8 -5.2L165.2 -4.2L165.7 -3.3L166.2 -2.3L166.7 -1.4L167.2 -0.5L167.7 0.3L168.3 1.2L168.9 2.0L169.5 2.7L170.2 3.5L170.8 4.2L171.5 5.0L172.2 5.7L172.9 6.3L173.7 7.0L174.4 7.6L175.2 8.3L176.0 8.9L176.8 9.5L177.6 10.0L178.5 10.6L179.3 11.2L180.2 11.7L181.0 12.2L181.9 12.7L182.8 13.3L183.7 13.8L184.6 14.2L185.5 14.7L186.4 15.2L187.3 15.7L188.3 16.2L189.2 16.6L190.1 17.1L191.1 17.6L192.0 18.0L192.9 18.5L193.9 18.9L194.8 19.4L195.7 19.9L196.6 20.3L197.6 20.8L198.5 21.3L199.4 21.8L200.3 22.3L201.2 22.8L202.1 23.3L203.0 23.8L203.9 24.3L204.7 24.9L205.6 25.4L206.5 26.0L207.3 26.6L208.1 27.2L208.9 27.8L209.7 28.4L210.5 29.0L211.2 29.7L212.0 30.4L212.7 31.1L213.4 31.8L214.1 32.5L214.8 33.3L217.2 33.3L217.2 -8.0L164.4 -8.0Z" fill="#fbff10"/>
<path d="M38.6 98.9L38.3 97.8L38.1 96.7L38.0 95.7L37.8 94.7L37.8 93.7L37.7 92.7L37.8 91.7L37.8 90.7L37.9 89.8L38.0 88.9L38.2 88.0L38.4 87.1L38.7 86.3L39.0 85.4L39.3 84.6L39.7 83.8L40.1 83.1L40.5 82.3L41.0 81.6L41.5 80.9L42.0 80.2L42.6 79.6L43.2 79.0L43.8 78.4L44.4 77.9L45.1 77.3L45.8 76.8L46.5 76.4L47.3 75.9L48.1 75.5L48.9 75.1L49.7 74.8L50.5 74.4L51.4 74.2L52.2 73.9L53.1 73.7L54.0 73.5L54.9 73.3L55.9 73.2L55.1 73.9L55.7 72.5L56.3 71.3L56.9 70.0L57.5 68.8L58.1 67.7L58.8 66.6L59.4 65.5L60.1 64.5L60.8 63.6L61.5 62.7L62.2 61.8L63.0 61.0L63.7 60.2L64.5 59.4L65.3 58.7L66.0 58.1L66.8 57.5L67.6 56.9L68.5 56.4L69.3 55.9L70.1 55.4L71.0 55.0L71.8 54.6L72.7 54.3L73.5 54.0L74.4 53.7L75.3 53.5L76.2 53.3L77.0 53.1L77.9 53.0L78.8 52.9L79.7 52.9L80.6 52.8L81.5 52.9L82.4 52.9L83.3 53.0L84.2 53.1L85.1 53.2L86.0 53.4L86.9 53.6L87.8 53.8L88.7 54.1L89.6 54.4L90.5 54.7L91.4 55.0L92.3 55.4L93.2 55.8L94.0 56.2L94.9 56.6L95.7 57.1L96.6 57.6L97.4 58.1L98.3 58.7L99.1 59.2L99.9 59.8L100.7 60.4L101.5 61.1L102.3 61.7L103.1 62.4L103.8 63.1L104.6 63.8L105.3 64.5L106.0 65.3L106.7 66.0L107.4 66.8L108.1 67.6L108.8 68.4L109.4 69.3L110.1 70.1L110.7 71.0L111.3 71.9L111.8 72.8L112.4 73.7L112.9 74.6L113.4 75.5L113.9 76.5L114.4 77.4L114.9 78.4L115.3 79.4L115.7 80.3L116.1 81.3L116.5 82.3L116.8 83.4L117.1 84.4L117.4 85.4L117.7 86.4L117.9 87.5L118.1 88.5L118.3 89.6L118.4 90.6L118.6 91.7L118.6 92.8L118.7 93.8L118.7 94.9L118.8 96.0L118.7 97.1L118.7 98.1L118.6 99.2L118.6 102.5L38.6 102.5Z" fill="#ffa818"/>
<path d="M26.5 -4.0L26.7 -2.9L26.9 -1.8L27.0 -0.7L27.0 0.4L27.0 1.5L27.0 2.5L26.9 3.6L26.8 4.6L26.6 5.7L26.4 6.7L26.1 7.7L25.8 8.7L25.5 9.7L25.1 10.6L24.6 11.6L24.2 12.5L23.7 13.4L23.2 14.3L22.6 15.1L22.0 15.9L21.4 16.8L20.7 17.5L20.0 18.3L19.3 19.0L18.5 19.7L17.8 20.4L17.0 21.1L16.1 21.7L15.3 22.3L14.4 22.8L13.5 23.3L12.6 23.8L11.7 24.3L10.7 24.7L9.8 25.1L8.8 25.5L7.8 25.8L6.8 26.0L5.7 26.3L4.7 26.5L3.7 26.6L2.6 26.7L1.6 26.8L0.5 26.8L-0.6 26.8L-1.7 26.8L-8.0 26.8L-8.0 -8.0L26.5 -8.0Z" fill="#ffa818"/>
<path d="M166.4 -6.3L166.9 -5.3L167.5 -4.3L168.0 -3.4L168.6 -2.6L169.2 -1.7L169.9 -0.9L170.5 -0.1L171.2 0.7L171.9 1.4L172.6 2.2L173.3 2.9L174.1 3.6L174.8 4.2L175.6 4.9L176.4 5.5L177.2 6.1L178.0 6.7L178.9 7.3L179.7 7.8L180.6 8.4L181.4 8.9L182.3 9.4L183.2 10.0L184.1 10.5L185.0 10.9L185.9 11.4L186.9 11.9L187.8 12.4L188.7 12.8L189.7 13.3L190.6 13.7L191.5 14.2L192.5 14.6L193.4 15.1L194.4 15.5L195.3 16.0L196.3 16.4L197.2 16.9L198.2 17.3L199.1 17.8L200.1 18.2L201.0 18.7L201.9 19.2L202.9 19.6L203.8 20.1L204.7 20.6L205.6 21.1L206.5 21.6L207.4 22.2L208.2 22.7L209.1 23.3L210.0 23.8L210.8 24.4L211.6 25.0L212.4 25.6L213.2 26.3L214.0 26.9L214.8 27.6L217.2 27.6L217.2 -8.0L166.4 -8.0Z" fill="#ffa818"/>
<path d="M59.1 99.8L58.9 98.5L58.7 97.3L58.6 96.1L58.5 94.9L58.5 93.7L58.5 92.5L58.6 91.3L58.7 90.2L58.8 89.1L59.0 87.9L59.1 86.8L59.4 85.8L59.6 84.7L59.9 83.6L60.3 82.6L60.6 81.6L61.0 80.6L61.4 79.7L61.9 78.7L62.3 77.8L62.8 76.9L63.4 76.0L63.9 75.1L64.5 74.3L65.1 73.5L65.7 72.7L66.3 71.9L67.0 71.1L67.7 70.4L68.4 69.7L69.1 69.1L69.8 68.4L70.6 67.8L71.4 67.2L72.1 66.6L72.9 66.1L73.8 65.6L74.6 65.1L75.4 64.7L76.3 64.3L77.1 63.9L78.0 63.5L78.8 63.2L79.7 62.9L80.6 62.6L81.5 62.4L82.4 62.2L83.3 62.1L84.2 61.9L85.1 61.8L86.0 61.8L86.9 61.8L87.8 61.8L88.7 61.8L89.6 61.9L90.5 62.0L91.4 62.2L92.3 62.4L93.2 62.6L94.1 62.9L95.0 63.2L95.8 63.5L96.7 63.9L97.5 64.3L98.4 64.7L99.2 65.1L100.0 65.6L100.8 66.1L101.6 66.7L102.4 67.3L103.2 67.9L104.0 68.5L104.7 69.2L105.4 69.8L106.2 70.5L106.9 71.3L107.5 72.0L108.2 72.8L108.8 73.6L109.5 74.4L110.1 75.3L110.6 76.2L111.2 77.1L111.7 78.0L112.2 78.9L112.7 79.9L113.2 80.8L113.6 81.8L114.0 82.8L114.4 83.9L114.8 84.9L115.1 86.0L115.4 87.0L115.7 88.1L115.9 89.2L116.1 90.3L116.3 91.5L116.4 92.6L116.5 93.8L116.6 94.9L116.7 96.1L116.7 97.3L116.6 98.5L116.6 99.7L116.6 102.5L59.1 102.5Z" fill="#ff4800"/>
<path d="M20.5 -4.0L20.6 -3.0L20.7 -2.0L20.7 -1.0L20.7 -0.0L20.6 1.0L20.5 1.9L20.3 2.9L20.1 3.8L19.9 4.8L19.6 5.7L19.2 6.6L18.9 7.4L18.5 8.3L18.0 9.1L17.5 9.9L17.0 10.7L16.5 11.5L15.9 12.3L15.3 13.0L14.6 13.7L14.0 14.4L13.3 15.0L12.5 15.6L11.8 16.2L11.0 16.8L10.2 17.3L9.4 17.8L8.6 18.3L7.7 18.7L6.8 19.1L5.9 19.4L5.0 19.8L4.1 20.0L3.2 20.3L2.2 20.5L1.3 20.6L0.3 20.8L-0.6 20.8L-1.6 20.9L-8.0 20.9L-8.0 -8.0L20.5 -8.0Z" fill="#ff4800"/>
<path d="M167.8 -6.2L168.4 -5.4L169.1 -4.6L169.8 -3.8L170.5 -3.0L171.2 -2.3L172.0 -1.5L172.7 -0.8L173.5 -0.2L174.3 0.5L175.1 1.1L175.9 1.8L176.7 2.4L177.5 3.0L178.4 3.5L179.2 4.1L180.1 4.6L181.0 5.2L181.9 5.7L182.8 6.2L183.7 6.7L184.6 7.1L185.5 7.6L186.4 8.1L187.4 8.5L188.3 9.0L189.2 9.4L190.2 9.8L191.1 10.2L192.1 10.6L193.0 11.0L194.0 11.4L195.0 11.8L195.9 12.2L196.9 12.6L197.9 13.0L198.8 13.4L199.8 13.8L200.8 14.2L201.7 14.6L202.7 15.0L203.7 15.4L204.6 15.7L205.6 16.2L206.5 16.6L207.5 17.0L208.4 17.4L209.4 17.8L210.3 18.2L211.2 18.7L212.1 19.1L213.0 19.6L213.9 20.1L214.8 20.6L217.2 20.6L217.2 -8.0L167.8 -8.0Z" fill="#ff4800"/>
<path d="M66.4 99.6L66.3 98.2L66.3 96.9L66.2 95.6L66.3 94.3L66.4 93.1L66.5 91.9L66.7 90.7L66.9 89.6L67.2 88.5L67.5 87.5L67.9 86.4L68.3 85.5L68.7 84.5L69.2 83.6L69.7 82.7L70.2 81.9L70.8 81.1L71.4 80.3L72.1 79.5L72.7 78.8L73.4 78.2L74.1 77.5L74.9 76.9L75.7 76.3L76.4 75.8L77.3 75.3L78.1 74.8L78.9 74.4L79.8 74.0L80.7 73.7L81.6 73.3L82.5 73.0L83.4 72.8L84.4 72.6L85.3 72.4L86.2 72.2L87.2 72.1L88.1 72.0L89.1 72.0L90.1 72.0L91.0 72.0L92.0 72.0L92.9 72.1L93.9 72.2L94.8 72.4L95.8 72.6L96.7 72.8L97.6 73.1L98.5 73.4L99.4 73.7L100.3 74.1L101.2 74.5L102.1 74.9L102.9 75.4L103.7 75.9L104.5 76.4L105.3 77.0L106.0 77.6L106.8 78.2L107.5 78.9L108.1 79.6L108.8 80.4L109.4 81.1L110.0 82.0L110.5 82.8L111.0 83.7L111.5 84.6L112.0 85.6L112.4 86.6L112.7 87.6L113.1 88.6L113.3 89.7L113.6 90.8L113.8 92.0L113.9 93.2L114.0 94.4L114.1 95.7L114.1 97.0L114.0 98.3L113.9 99.7L113.9 102.5L66.4 102.5Z" fill="#ff0000"/>
<path d="M13.9 -4.0L13.9 -3.3L14.0 -2.6L14.0 -1.9L13.9 -1.2L13.9 -0.5L13.8 0.2L13.6 0.8L13.5 1.5L13.3 2.1L13.1 2.8L12.9 3.4L12.6 4.0L12.3 4.6L12.0 5.2L11.6 5.7L11.3 6.3L10.9 6.9L10.5 7.4L10.1 7.9L9.6 8.4L9.1 8.9L8.6 9.3L8.1 9.8L7.6 10.2L7.1 10.6L6.5 11.0L6.0 11.4L5.4 11.7L4.8 12.0L4.2 12.3L3.6 12.6L3.0 12.8L2.3 13.1L1.7 13.3L1.0 13.4L0.4 13.6L-0.3 13.7L-0.9 13.8L-1.6 13.9L-8.0 13.9L-8.0 -8.0L13.9 -8.0Z" fill="#ff0000"/>
<path d="M169.1 -6.2L169.8 -5.5L170.6 -4.8L171.4 -4.2L172.2 -3.5L173.0 -2.8L173.8 -2.2L174.6 -1.6L175.5 -1.0L176.3 -0.4L177.2 0.2L178.0 0.7L178.9 1.3L179.8 1.8L180.6 2.3L181.5 2.8L182.4 3.3L183.4 3.8L184.3 4.3L185.2 4.7L186.1 5.2L187.1 5.6L188.0 6.0L189.0 6.4L189.9 6.8L190.9 7.2L191.9 7.5L192.8 7.9L193.8 8.2L194.8 8.6L195.8 8.9L196.8 9.2L197.8 9.5L198.7 9.8L199.7 10.0L200.7 10.3L201.8 10.6L202.8 10.8L203.8 11.0L204.8 11.2L205.8 11.5L206.8 11.7L207.8 11.8L208.8 12.0L209.8 12.2L210.8 12.3L211.9 12.5L212.9 12.6L213.9 12.8L214.9 12.9L217.2 12.9L217.2 -8.0L169.1 -8.0Z" fill="#ff0000"/>
<path d="M79.1 99.0L79.0 97.7L79.0 96.4L79.1 95.2L79.3 94.1L79.6 93.0L80.0 92.0L80.4 91.0L81.0 90.1L81.5 89.3L82.2 88.5L82.9 87.8L83.6 87.1L84.4 86.5L85.3 86.0L86.2 85.5L87.1 85.1L88.0 84.7L89.0 84.4L90.0 84.2L91.0 84.0L92.0 83.9L93.0 83.8L94.0 83.8L95.0 83.9L96.0 84.0L97.0 84.1L97.9 84.4L98.9 84.7L99.8 85.0L100.7 85.5L101.5 85.9L102.3 86.5L103.1 87.1L103.8 87.7L104.4 88.5L105.0 89.3L105.5 90.1L105.9 91.0L106.3 92.0L106.6 93.0L106.8 94.1L106.9 95.2L106.9 96.5L106.8 97.7L106.7 99.1L106.7 102.5L79.1 102.5Z" fill="#8c0000"/>
<path d="M9.0 -3.0L8.9 -2.6L8.8 -2.2L8.7 -1.8L8.5 -1.4L8.4 -1.0L8.2 -0.7L8.1 -0.3L7.9 0.0L7.7 0.3L7.5 0.7L7.3 1.0L7.1 1.3L6.9 1.5L6.7 1.8L6.5 2.1L6.2 2.3L6.0 2.6L5.7 2.8L5.5 3.0L5.2 3.2L4.9 3.4L4.6 3.6L4.3 3.8L4.0 3.9L3.7 4.1L3.4 4.2L3.0 4.3L2.7 4.5L2.3 4.6L2.0 4.7L1.6 4.8L1.2 4.8L0.9 4.9L0.5 4.9L0.1 5.0L-0.3 5.0L-0.7 5.0L-1.2 5.0L-1.6 5.0L-8.0 5.0L-8.0 -8.0L9.0 -8.0Z" fill="#8c0000"/>
<path d="M173.5 -5.0L174.3 -4.3L175.1 -3.6L175.9 -2.9L176.7 -2.3L177.5 -1.7L178.4 -1.1L179.3 -0.6L180.1 -0.0L181.0 0.5L181.9 1.0L182.8 1.4L183.8 1.8L184.7 2.3L185.7 2.6L186.6 3.0L187.6 3.3L188.6 3.6L189.6 3.9L190.6 4.2L191.6 4.4L192.6 4.6L193.6 4.8L194.6 5.0L195.6 5.1L196.6 5.2L197.7 5.3L198.7 5.4L199.7 5.4L200.7 5.5L201.8 5.5L202.8 5.4L203.8 5.4L204.9 5.3L205.9 5.2L206.9 5.1L207.9 4.9L208.9 4.7L210.0 4.5L211.0 4.3L212.0 4.1L212.9 3.8L213.9 3.5L214.9 3.2L217.2 3.2L217.2 -8.0L173.5 -8.0Z" fill="#8c0000"/>
</g>

<text x="35.30" y="151.90" font-size="7.8" font-weight="bold" text-anchor="middle" >0</text>
<text x="61.46" y="151.90" font-size="7.8" font-weight="bold" text-anchor="middle" >45</text>
<text x="87.61" y="151.90" font-size="7.8" font-weight="bold" text-anchor="middle" >90</text>
<text x="113.77" y="151.90" font-size="7.8" font-weight="bold" text-anchor="middle" >135</text>
<text x="139.93" y="151.90" font-size="7.8" font-weight="bold" text-anchor="middle" >180</text>
<text x="166.08" y="151.90" font-size="7.8" font-weight="bold" text-anchor="middle" >225</text>
<text x="192.24" y="151.90" font-size="7.8" font-weight="bold" text-anchor="middle" >270</text>
<text x="218.39" y="151.90" font-size="7.8" font-weight="bold" text-anchor="middle" >315</text>
<text x="244.55" y="151.90" font-size="7.8" font-weight="bold" text-anchor="middle" >360</text>
<text x="33.40" y="145.00" font-size="7.3" font-weight="bold" text-anchor="end" >0</text>
<text x="33.40" y="113.50" font-size="7.3" font-weight="bold" text-anchor="end" >3</text>
<text x="33.40" y="82.00" font-size="7.3" font-weight="bold" text-anchor="end" >6</text>
<text x="33.40" y="50.50" font-size="7.3" font-weight="bold" text-anchor="end" >9</text>
<text x="44.40" y="167.70" font-size="13.0" font-weight="bold" text-anchor="start"  textLength="189.2" lengthAdjust="spacing">Circumferential direction (degree)</text>
<text x="126.00" y="186.90" font-size="12.3" font-weight="normal" text-anchor="middle" stroke="#111" stroke-width="0.25">(a)</text>
<text transform="translate(12.50 153.60) rotate(-90)" font-size="11.6" font-weight="bold" text-anchor="start"  textLength="108.6" lengthAdjust="spacing">Earth pressure (kPa)</text>
<text transform="translate(24.80 140.30) rotate(-90)" font-size="8.2" font-weight="bold" text-anchor="start"  textLength="78.5" lengthAdjust="spacing">Length of shield (m)</text>
<text transform="translate(37.20 44.00) rotate(-90)" font-size="8.0" font-weight="bold" text-anchor="start" word-spacing="2.5" textLength="21.2" lengthAdjust="spacing">Invert</text>
<text transform="translate(89.51 46.40) rotate(-90)" font-size="8.0" font-weight="bold" text-anchor="start" word-spacing="2.5" textLength="42.4" lengthAdjust="spacing">Spring line</text>
<text transform="translate(141.82 46.40) rotate(-90)" font-size="8.0" font-weight="bold" text-anchor="start" word-spacing="2.5">Crown</text>
<text transform="translate(194.14 46.40) rotate(-90)" font-size="8.0" font-weight="bold" text-anchor="start" word-spacing="2.5" textLength="42.4" lengthAdjust="spacing">Spring line</text>
<text transform="translate(246.45 44.00) rotate(-90)" font-size="8.0" font-weight="bold" text-anchor="start" word-spacing="2.5" textLength="21.2" lengthAdjust="spacing">Invert</text>
<rect x="251.60" y="48.00" width="4.50" height="94.80" fill="url(#jet)"/>
<text x="257.50" y="140.15" font-size="3.0" font-weight="bold" fill="#333">100</text>
<text x="257.50" y="125.15" font-size="3.0" font-weight="bold" fill="#333">200</text>
<text x="257.50" y="110.15" font-size="3.0" font-weight="bold" fill="#333">300</text>
<text x="257.50" y="95.15" font-size="3.0" font-weight="bold" fill="#333">400</text>
<text x="257.50" y="80.15" font-size="3.0" font-weight="bold" fill="#333">500</text>
<text x="257.50" y="65.15" font-size="3.0" font-weight="bold" fill="#333">600</text>
<text x="257.50" y="50.15" font-size="3.0" font-weight="bold" fill="#333">700</text>
<line x1="84.5" y1="134.0" x2="79.3" y2="69.4" stroke="#3b4a7a" stroke-width="1.5" stroke-dasharray="4.2 1.7" marker-end="url(#ah)"/>
<text x="274.10" y="151.90" font-size="7.8" font-weight="bold" text-anchor="middle" >0</text>
<text x="300.26" y="151.90" font-size="7.8" font-weight="bold" text-anchor="middle" >45</text>
<text x="326.41" y="151.90" font-size="7.8" font-weight="bold" text-anchor="middle" >90</text>
<text x="352.57" y="151.90" font-size="7.8" font-weight="bold" text-anchor="middle" >135</text>
<text x="378.73" y="151.90" font-size="7.8" font-weight="bold" text-anchor="middle" >180</text>
<text x="404.88" y="151.90" font-size="7.8" font-weight="bold" text-anchor="middle" >225</text>
<text x="431.04" y="151.90" font-size="7.8" font-weight="bold" text-anchor="middle" >270</text>
<text x="457.19" y="151.90" font-size="7.8" font-weight="bold" text-anchor="middle" >315</text>
<text x="483.35" y="151.90" font-size="7.8" font-weight="bold" text-anchor="middle" >360</text>
<text x="272.20" y="145.00" font-size="7.3" font-weight="bold" text-anchor="end" >0</text>
<text x="272.20" y="113.50" font-size="7.3" font-weight="bold" text-anchor="end" >3</text>
<text x="272.20" y="82.00" font-size="7.3" font-weight="bold" text-anchor="end" >6</text>
<text x="272.20" y="50.50" font-size="7.3" font-weight="bold" text-anchor="end" >9</text>
<text x="291.60" y="167.70" font-size="13.0" font-weight="bold" text-anchor="start"  textLength="188.5" lengthAdjust="spacing">Circumferential direction (degree)</text>
<text x="378.40" y="186.90" font-size="12.3" font-weight="normal" text-anchor="middle" stroke="#111" stroke-width="0.25">(b)</text>
<text x="502.00" y="51.50" font-size="9.5" font-weight="bold" text-anchor="start"  textLength="44.6" lengthAdjust="spacing">Cutter face</text>
<text x="503.00" y="147.10" font-size="9.5" font-weight="bold" text-anchor="start" word-spacing="2" textLength="42.5" lengthAdjust="spacing">Shield tail</text>
<text transform="translate(276.00 44.00) rotate(-90)" font-size="8.0" font-weight="bold" text-anchor="start" word-spacing="2.5" textLength="21.2" lengthAdjust="spacing">Invert</text>
<text transform="translate(328.31 46.40) rotate(-90)" font-size="8.0" font-weight="bold" text-anchor="start" word-spacing="2.5" textLength="42.4" lengthAdjust="spacing">Spring line</text>
<text transform="translate(380.62 46.40) rotate(-90)" font-size="8.0" font-weight="bold" text-anchor="start" word-spacing="2.5">Crown</text>
<text transform="translate(432.94 46.40) rotate(-90)" font-size="8.0" font-weight="bold" text-anchor="start" word-spacing="2.5" textLength="42.4" lengthAdjust="spacing">Spring line</text>
<text transform="translate(485.25 44.00) rotate(-90)" font-size="8.0" font-weight="bold" text-anchor="start" word-spacing="2.5" textLength="21.2" lengthAdjust="spacing">Invert</text>
<rect x="490.70" y="48.00" width="4.30" height="94.80" fill="url(#jet)"/>
<text x="496.40" y="138.52" font-size="3.0" font-weight="bold" fill="#333">100</text>
<text x="496.40" y="125.15" font-size="3.0" font-weight="bold" fill="#333">200</text>
<text x="496.40" y="111.79" font-size="3.0" font-weight="bold" fill="#333">300</text>
<text x="496.40" y="98.42" font-size="3.0" font-weight="bold" fill="#333">400</text>
<text x="496.40" y="85.06" font-size="3.0" font-weight="bold" fill="#333">500</text>
<text x="496.40" y="71.69" font-size="3.0" font-weight="bold" fill="#333">600</text>
<text x="496.40" y="58.32" font-size="3.0" font-weight="bold" fill="#333">700</text>
<line x1="329.5" y1="137.0" x2="314.7" y2="77.4" stroke="#3b4a7a" stroke-width="1.5" stroke-dasharray="4.2 1.7" marker-end="url(#ah)"/>
<text x="35.30" y="320.15" font-size="7.8" font-weight="bold" text-anchor="middle" >0</text>
<text x="61.46" y="320.15" font-size="7.8" font-weight="bold" text-anchor="middle" >45</text>
<text x="87.61" y="320.15" font-size="7.8" font-weight="bold" text-anchor="middle" >90</text>
<text x="113.77" y="320.15" font-size="7.8" font-weight="bold" text-anchor="middle" >135</text>
<text x="139.93" y="320.15" font-size="7.8" font-weight="bold" text-anchor="middle" >180</text>
<text x="166.08" y="320.15" font-size="7.8" font-weight="bold" text-anchor="middle" >225</text>
<text x="192.24" y="320.15" font-size="7.8" font-weight="bold" text-anchor="middle" >270</text>
<text x="218.39" y="320.15" font-size="7.8" font-weight="bold" text-anchor="middle" >315</text>
<text x="244.55" y="320.15" font-size="7.8" font-weight="bold" text-anchor="middle" >360</text>
<text x="33.40" y="313.25" font-size="7.3" font-weight="bold" text-anchor="end" >0</text>
<text x="33.40" y="281.75" font-size="7.3" font-weight="bold" text-anchor="end" >3</text>
<text x="33.40" y="250.25" font-size="7.3" font-weight="bold" text-anchor="end" >6</text>
<text x="33.40" y="218.75" font-size="7.3" font-weight="bold" text-anchor="end" >9</text>
<text x="44.40" y="333.65" font-size="13.0" font-weight="bold" text-anchor="start"  textLength="189.2" lengthAdjust="spacing">Circumferential direction (degree)</text>
<text x="126.00" y="352.95" font-size="12.3" font-weight="normal" text-anchor="middle" stroke="#111" stroke-width="0.25">(c)</text>
<text transform="translate(12.50 319.15) rotate(-90)" font-size="11.6" font-weight="bold" text-anchor="start"  textLength="108.6" lengthAdjust="spacing">Earth pressure (kPa)</text>
<text transform="translate(24.80 306.05) rotate(-90)" font-size="8.2" font-weight="bold" text-anchor="start"  textLength="78.5" lengthAdjust="spacing">Length of shield (m)</text>
<rect x="251.60" y="216.25" width="4.50" height="94.80" fill="url(#jet)"/>
<text x="257.50" y="306.77" font-size="3.0" font-weight="bold" fill="#333">100</text>
<text x="257.50" y="293.40" font-size="3.0" font-weight="bold" fill="#333">200</text>
<text x="257.50" y="280.04" font-size="3.0" font-weight="bold" fill="#333">300</text>
<text x="257.50" y="266.67" font-size="3.0" font-weight="bold" fill="#333">400</text>
<text x="257.50" y="253.31" font-size="3.0" font-weight="bold" fill="#333">500</text>
<text x="257.50" y="239.94" font-size="3.0" font-weight="bold" fill="#333">600</text>
<text x="257.50" y="226.57" font-size="3.0" font-weight="bold" fill="#333">700</text>
<line x1="86.2" y1="302.5" x2="77.8" y2="247.0" stroke="#3b4a7a" stroke-width="1.5" stroke-dasharray="4.2 1.7" marker-end="url(#ah)"/>
<text x="274.10" y="320.15" font-size="7.8" font-weight="bold" text-anchor="middle" >0</text>
<text x="300.26" y="320.15" font-size="7.8" font-weight="bold" text-anchor="middle" >45</text>
<text x="326.41" y="320.15" font-size="7.8" font-weight="bold" text-anchor="middle" >90</text>
<text x="352.57" y="320.15" font-size="7.8" font-weight="bold" text-anchor="middle" >135</text>
<text x="378.73" y="320.15" font-size="7.8" font-weight="bold" text-anchor="middle" >180</text>
<text x="404.88" y="320.15" font-size="7.8" font-weight="bold" text-anchor="middle" >225</text>
<text x="431.04" y="320.15" font-size="7.8" font-weight="bold" text-anchor="middle" >270</text>
<text x="457.19" y="320.15" font-size="7.8" font-weight="bold" text-anchor="middle" >315</text>
<text x="483.35" y="320.15" font-size="7.8" font-weight="bold" text-anchor="middle" >360</text>
<text x="272.20" y="313.25" font-size="7.3" font-weight="bold" text-anchor="end" >0</text>
<text x="272.20" y="281.75" font-size="7.3" font-weight="bold" text-anchor="end" >3</text>
<text x="272.20" y="250.25" font-size="7.3" font-weight="bold" text-anchor="end" >6</text>
<text x="272.20" y="218.75" font-size="7.3" font-weight="bold" text-anchor="end" >9</text>
<text x="291.60" y="333.65" font-size="13.0" font-weight="bold" text-anchor="start"  textLength="188.5" lengthAdjust="spacing">Circumferential direction (degree)</text>
<text x="378.40" y="352.95" font-size="12.3" font-weight="normal" text-anchor="middle" stroke="#111" stroke-width="0.25">(d)</text>
<text x="502.00" y="217.00" font-size="9.5" font-weight="bold" text-anchor="start"  textLength="44.6" lengthAdjust="spacing">Cutter face</text>
<text x="503.00" y="312.95" font-size="9.5" font-weight="bold" text-anchor="start" word-spacing="2" textLength="42.5" lengthAdjust="spacing">Shield tail</text>
<rect x="490.70" y="216.25" width="4.30" height="94.80" fill="url(#jet)"/>
<text x="496.40" y="306.77" font-size="3.0" font-weight="bold" fill="#333">100</text>
<text x="496.40" y="293.40" font-size="3.0" font-weight="bold" fill="#333">200</text>
<text x="496.40" y="280.04" font-size="3.0" font-weight="bold" fill="#333">300</text>
<text x="496.40" y="266.67" font-size="3.0" font-weight="bold" fill="#333">400</text>
<text x="496.40" y="253.31" font-size="3.0" font-weight="bold" fill="#333">500</text>
<text x="496.40" y="239.94" font-size="3.0" font-weight="bold" fill="#333">600</text>
<text x="496.40" y="226.57" font-size="3.0" font-weight="bold" fill="#333">700</text>
<line x1="327.2" y1="301.5" x2="313.0" y2="245.4" stroke="#3b4a7a" stroke-width="1.5" stroke-dasharray="4.2 1.7" marker-end="url(#ah)"/>
<text x="35.30" y="486.90" font-size="7.8" font-weight="bold" text-anchor="middle" >0</text>
<text x="61.46" y="486.90" font-size="7.8" font-weight="bold" text-anchor="middle" >45</text>
<text x="87.61" y="486.90" font-size="7.8" font-weight="bold" text-anchor="middle" >90</text>
<text x="113.77" y="486.90" font-size="7.8" font-weight="bold" text-anchor="middle" >135</text>
<text x="139.93" y="486.90" font-size="7.8" font-weight="bold" text-anchor="middle" >180</text>
<text x="166.08" y="486.90" font-size="7.8" font-weight="bold" text-anchor="middle" >225</text>
<text x="192.24" y="486.90" font-size="7.8" font-weight="bold" text-anchor="middle" >270</text>
<text x="218.39" y="486.90" font-size="7.8" font-weight="bold" text-anchor="middle" >315</text>
<text x="244.55" y="486.90" font-size="7.8" font-weight="bold" text-anchor="middle" >360</text>
<text x="33.40" y="480.00" font-size="7.3" font-weight="bold" text-anchor="end" >0</text>
<text x="33.40" y="448.50" font-size="7.3" font-weight="bold" text-anchor="end" >3</text>
<text x="33.40" y="417.00" font-size="7.3" font-weight="bold" text-anchor="end" >6</text>
<text x="33.40" y="385.50" font-size="7.3" font-weight="bold" text-anchor="end" >9</text>
<text x="44.40" y="500.40" font-size="13.0" font-weight="bold" text-anchor="start"  textLength="189.2" lengthAdjust="spacing">Circumferential direction (degree)</text>
<text x="126.00" y="517.20" font-size="12.3" font-weight="normal" text-anchor="middle" stroke="#111" stroke-width="0.25">(e)</text>
<text transform="translate(12.50 485.90) rotate(-90)" font-size="11.6" font-weight="bold" text-anchor="start"  textLength="108.6" lengthAdjust="spacing">Earth pressure (kPa)</text>
<text transform="translate(24.80 472.90) rotate(-90)" font-size="8.2" font-weight="bold" text-anchor="start"  textLength="78.5" lengthAdjust="spacing">Length of shield (m)</text>
<rect x="251.60" y="383.00" width="4.50" height="94.80" fill="url(#jet)"/>
<text x="257.50" y="473.92" font-size="3.0" font-weight="bold" fill="#333">100</text>
<text x="257.50" y="461.62" font-size="3.0" font-weight="bold" fill="#333">200</text>
<text x="257.50" y="449.31" font-size="3.0" font-weight="bold" fill="#333">300</text>
<text x="257.50" y="437.01" font-size="3.0" font-weight="bold" fill="#333">400</text>
<text x="257.50" y="424.71" font-size="3.0" font-weight="bold" fill="#333">500</text>
<text x="257.50" y="412.40" font-size="3.0" font-weight="bold" fill="#333">600</text>
<text x="257.50" y="400.10" font-size="3.0" font-weight="bold" fill="#333">700</text>
<text x="257.50" y="387.79" font-size="3.0" font-weight="bold" fill="#333">800</text>
<line x1="93.2" y1="470.0" x2="74.5" y2="418.0" stroke="#3b4a7a" stroke-width="1.5" stroke-dasharray="4.2 1.7" marker-end="url(#ah)"/>
<text x="274.10" y="486.90" font-size="7.8" font-weight="bold" text-anchor="middle" >0</text>
<text x="300.26" y="486.90" font-size="7.8" font-weight="bold" text-anchor="middle" >45</text>
<text x="326.41" y="486.90" font-size="7.8" font-weight="bold" text-anchor="middle" >90</text>
<text x="352.57" y="486.90" font-size="7.8" font-weight="bold" text-anchor="middle" >135</text>
<text x="378.73" y="486.90" font-size="7.8" font-weight="bold" text-anchor="middle" >180</text>
<text x="404.88" y="486.90" font-size="7.8" font-weight="bold" text-anchor="middle" >225</text>
<text x="431.04" y="486.90" font-size="7.8" font-weight="bold" text-anchor="middle" >270</text>
<text x="457.19" y="486.90" font-size="7.8" font-weight="bold" text-anchor="middle" >315</text>
<text x="483.35" y="486.90" font-size="7.8" font-weight="bold" text-anchor="middle" >360</text>
<text x="272.20" y="480.00" font-size="7.3" font-weight="bold" text-anchor="end" >0</text>
<text x="272.20" y="448.50" font-size="7.3" font-weight="bold" text-anchor="end" >3</text>
<text x="272.20" y="417.00" font-size="7.3" font-weight="bold" text-anchor="end" >6</text>
<text x="272.20" y="385.50" font-size="7.3" font-weight="bold" text-anchor="end" >9</text>
<text x="291.60" y="500.40" font-size="13.0" font-weight="bold" text-anchor="start"  textLength="188.5" lengthAdjust="spacing">Circumferential direction (degree)</text>
<text x="378.40" y="517.20" font-size="12.3" font-weight="normal" text-anchor="middle" stroke="#111" stroke-width="0.25">(f)</text>
<text x="502.00" y="383.40" font-size="9.5" font-weight="bold" text-anchor="start"  textLength="44.6" lengthAdjust="spacing">Cutter face</text>
<text x="503.00" y="479.90" font-size="9.5" font-weight="bold" text-anchor="start" word-spacing="2" textLength="42.5" lengthAdjust="spacing">Shield tail</text>
<rect x="490.70" y="383.00" width="4.30" height="94.80" fill="url(#jet)"/>
<text x="496.40" y="473.92" font-size="3.0" font-weight="bold" fill="#333">100</text>
<text x="496.40" y="461.62" font-size="3.0" font-weight="bold" fill="#333">200</text>
<text x="496.40" y="449.31" font-size="3.0" font-weight="bold" fill="#333">300</text>
<text x="496.40" y="437.01" font-size="3.0" font-weight="bold" fill="#333">400</text>
<text x="496.40" y="424.71" font-size="3.0" font-weight="bold" fill="#333">500</text>
<text x="496.40" y="412.40" font-size="3.0" font-weight="bold" fill="#333">600</text>
<text x="496.40" y="400.10" font-size="3.0" font-weight="bold" fill="#333">700</text>
<text x="496.40" y="387.79" font-size="3.0" font-weight="bold" fill="#333">800</text>
<line x1="329.3" y1="466.0" x2="305.0" y2="417.0" stroke="#3b4a7a" stroke-width="1.5" stroke-dasharray="4.2 1.7" marker-end="url(#ah)"/>
</svg>
</body></html>
